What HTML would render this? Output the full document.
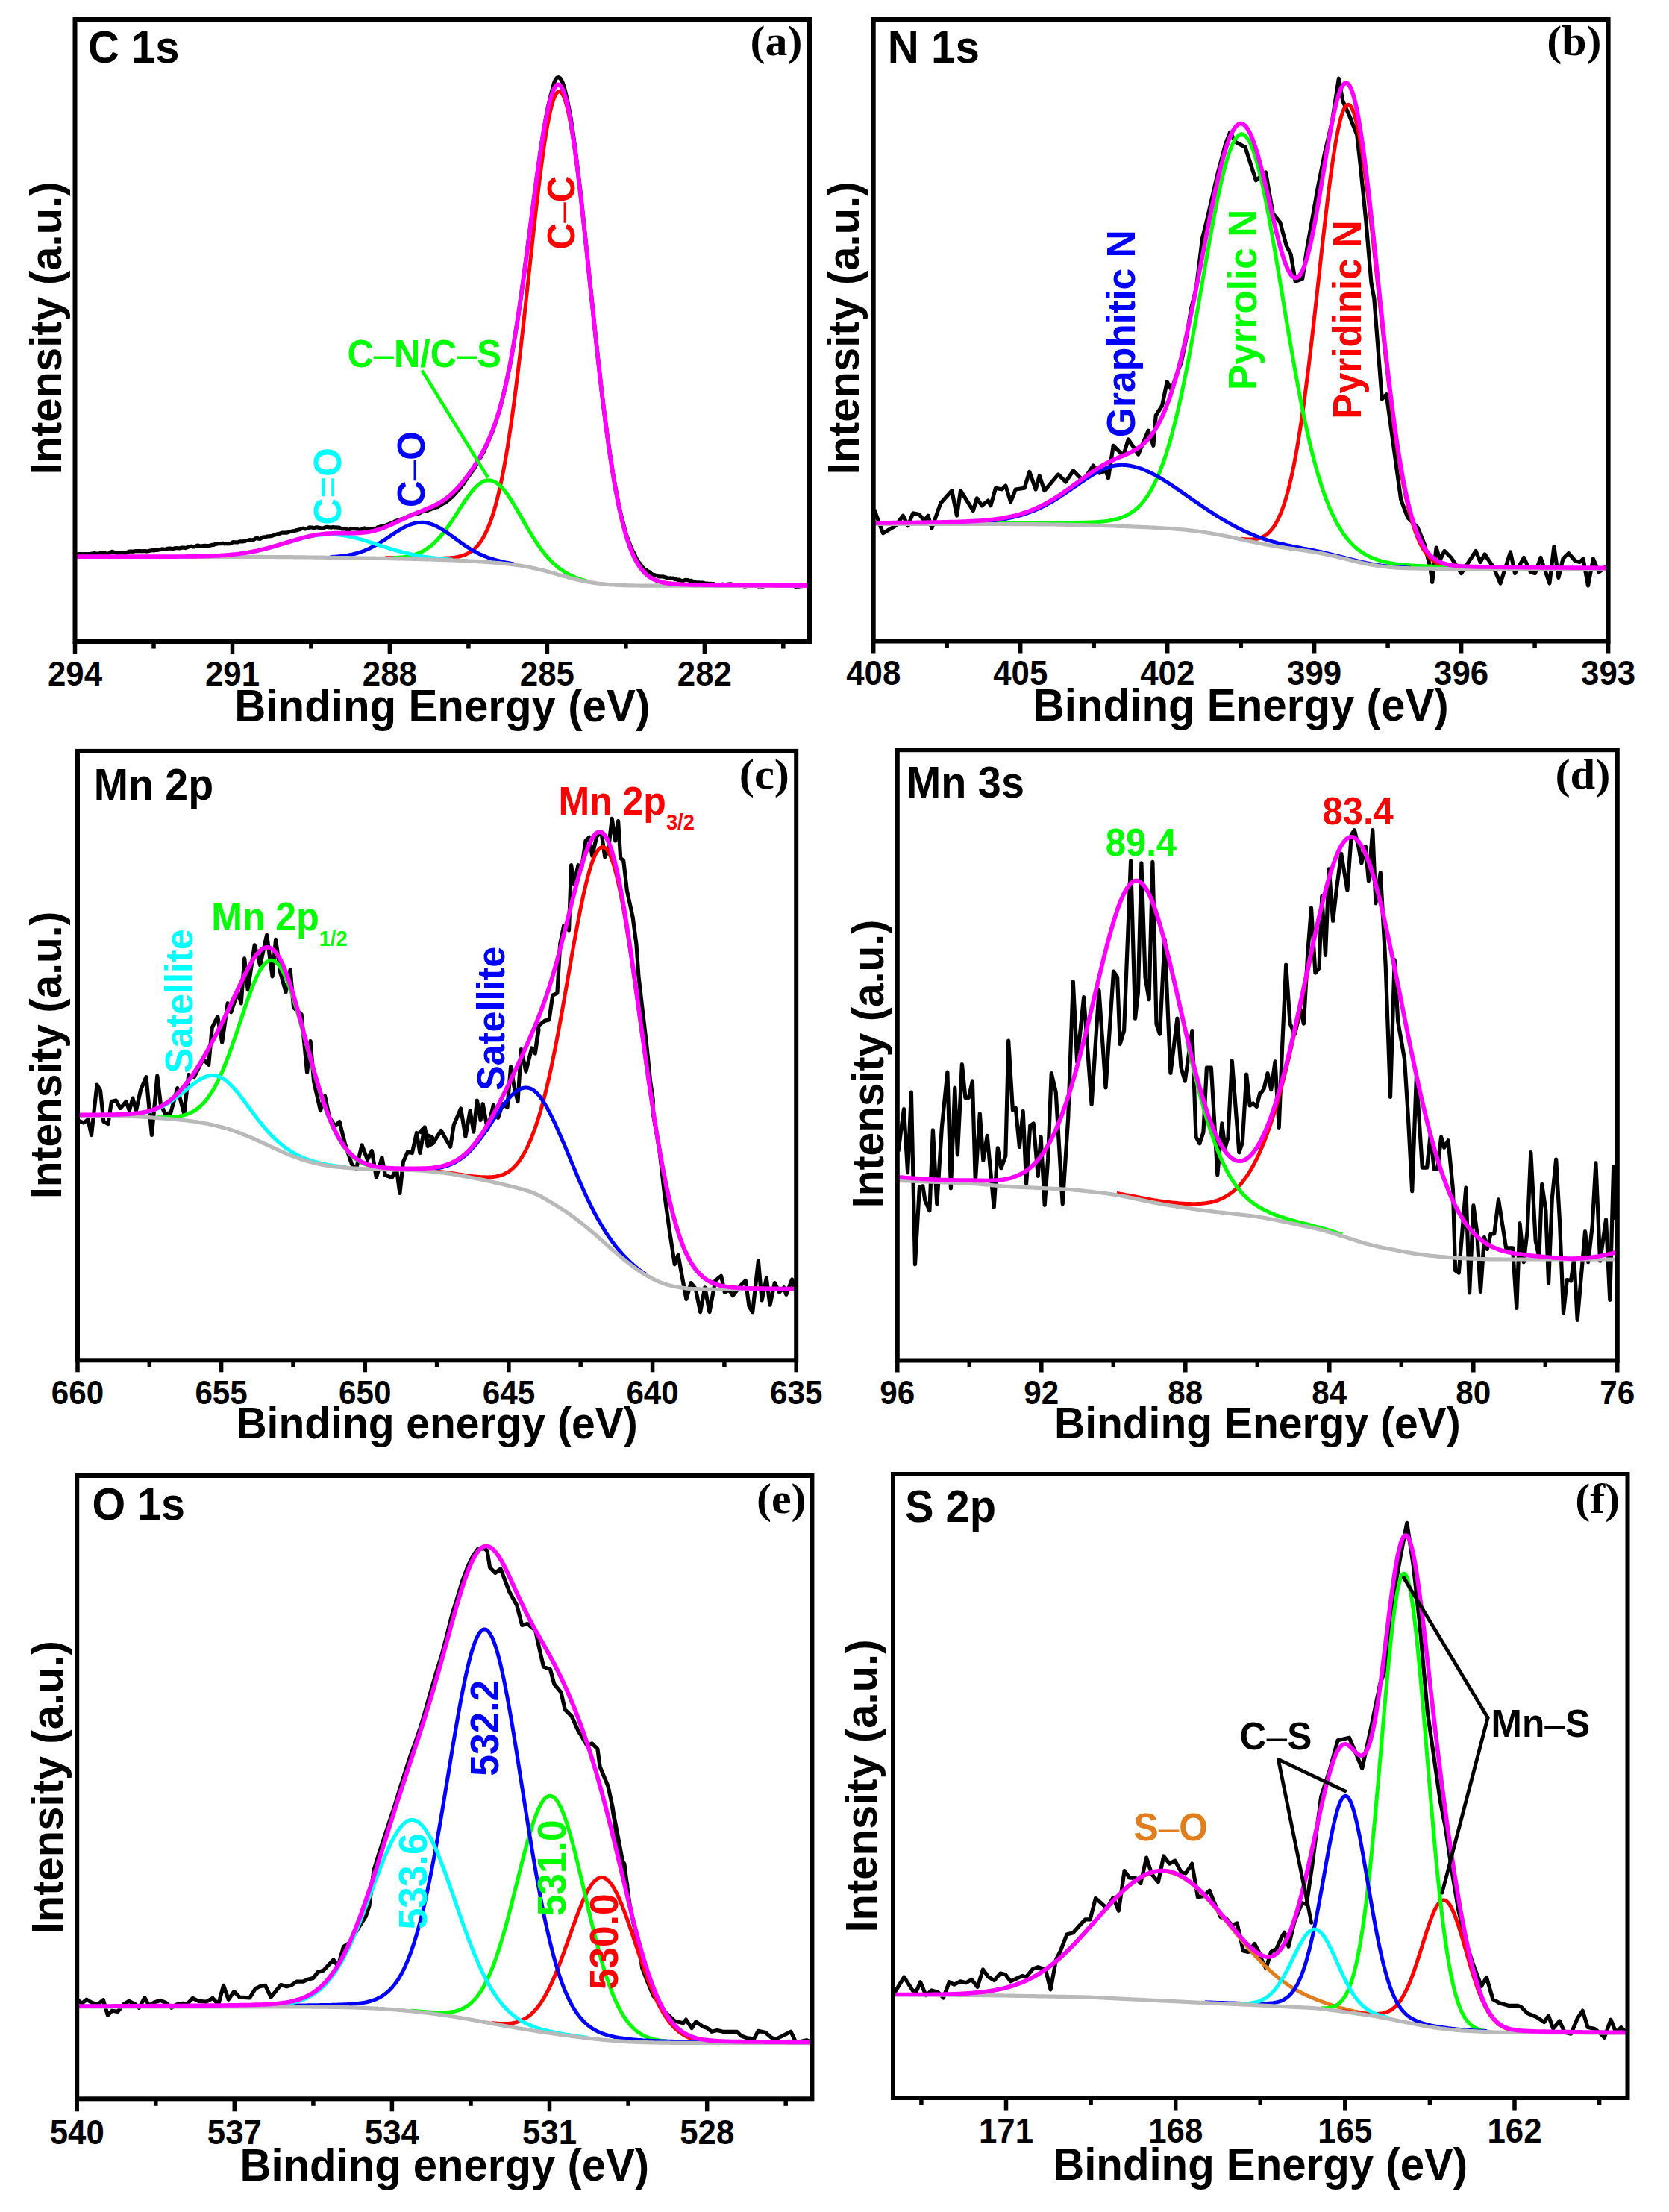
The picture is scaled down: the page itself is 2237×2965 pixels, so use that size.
<!DOCTYPE html>
<html><head><meta charset="utf-8"><title>XPS spectra</title>
<style>html,body{margin:0;padding:0;background:#fff}svg{display:block}</style></head>
<body>
<svg width="2237" height="2965" viewBox="0 0 2237 2965">
<rect width="2237" height="2965" fill="#fff"/>
<polyline points="100.5,743.2 102.5,743.3 104.5,742.6 106.5,742.6 108.5,742.6 110.5,742.9 112.5,742.7 114.5,742.6 116.5,742.9 118.5,742.6 120.5,742.7 122.5,742.2 124.5,742.1 126.5,741.6 128.5,742.1 130.5,742.1 132.5,742.1 134.5,741.5 136.5,741.3 138.5,741.3 140.5,741.4 142.5,742 144.5,742.3 146.5,741.2 148.5,739.9 150.5,739.3 152.5,740.1 154.5,740.9 156.5,740.9 158.5,741.9 160.5,741.2 162.5,740.9 164.5,740.7 166.5,741.3 168.5,741.6 170.5,740.5 172.5,739.4 174.5,739.1 176.5,739.2 178.5,739.3 180.5,738.8 182.5,738.6 184.5,738.6 186.5,738.6 188.5,738.6 190.5,738.8 192.5,738.5 194.5,738.6 196.5,738.8 198.5,738.9 200.5,738.2 202.5,738 204.5,737.5 206.5,738 208.5,737.1 210.5,737.5 212.5,737 214.5,736.7 216.5,736.1 218.5,735.9 220.5,736.4 222.5,735.9 224.5,735.3 226.5,735.1 228.5,735.1 230.5,735.5 232.5,735.5 234.5,734.8 236.5,734.7 238.5,734.7 240.5,735 242.5,734.4 244.5,734 246.5,734.1 248.5,734.6 250.5,733.9 252.5,733.1 254.5,732.5 256.5,732.2 258.5,733 260.5,732.9 262.5,732.2 264.5,731.2 266.5,731.3 268.5,732.1 270.5,732.1 272.5,731.5 274.5,731.3 276.5,731.5 278.5,731.7 280.5,731.4 282.5,731 284.5,730.3 286.5,730.4 288.5,729.4 290.5,729.2 292.5,728.6 294.5,728.7 296.5,728.7 298.5,728.2 300.5,728.9 302.5,728.5 304.5,728.8 306.5,728.7 308.5,728.7 310.5,727.8 312.5,726.5 314.5,726.8 316.5,726.8 318.5,726.9 320.5,726 322.5,725.7 324.5,726 326.5,725.6 328.5,725.4 330.5,724.5 332.5,724.3 334.5,723.6 336.5,723.8 338.5,723.9 340.5,723.3 342.5,721.7 344.5,721 346.5,722.2 348.5,722.5 350.5,721.3 352.5,720.1 354.5,719.8 356.5,719.6 358.5,718.8 360.5,719 362.5,718.6 364.5,718.4 366.5,717.6 368.5,717 370.5,716.3 372.5,715.5 374.5,715.4 376.5,714.6 378.5,714.1 380.5,714.2 382.5,714.2 384.5,714.2 386.5,713.3 388.5,712.7 390.5,712.2 392.5,711.8 394.5,711.6 396.5,710.8 398.5,710.6 400.5,709.9 402.5,709.5 404.5,708.5 406.5,708.2 408.5,709 410.5,708.6 412.5,708.5 414.5,706.8 416.5,707 418.5,707.1 420.5,707.7 422.5,707.2 424.5,706.8 426.5,707.1 428.5,707.5 430.5,708.1 432.5,707.9 434.5,707.4 436.5,706.5 438.5,706.4 440.5,706.8 442.5,706.9 444.5,707.1 446.5,706.5 448.5,707 450.5,706.8 452.5,707.2 454.5,707.2 456.5,708.2 458.5,709 460.5,709 462.5,708.3 464.5,709.5 466.5,709.9 468.5,710 470.5,708.7 472.5,708.6 474.5,708.5 476.5,709 478.5,708.9 480.5,710.1 482.5,710.5 484.5,709.6 486.5,709.1 488.5,708 490.5,709.4 492.5,709.3 494.5,710 496.5,708.9 498.5,709.3 500.5,709.6 502.5,709.2 504.5,708.2 506.5,706.7 508.5,706.6 510.5,705.4 512.5,705.9 514.5,704.9 516.5,704.6 518.5,703.4 520.5,702.8 522.5,702.1 524.5,700.9 526.5,700.4 528.5,699.2 530.5,698.4 532.5,697.6 534.5,697.2 536.5,696.6 538.5,695.7 540.5,695.4 542.5,694.5 544.5,693.8 546.5,692.5 548.5,691.7 550.5,690.5 552.5,690.3 554.5,689.4 556.5,689 558.5,688.3 560.5,688.3 562.5,687.9 564.5,686.3 566.5,685.8 568.5,685.5 570.5,685.1 572.5,684.6 574.5,683.6 576.5,683.1 578.5,682.1 580.5,681.6 582.5,681.3 584.5,679.8 586.5,679.7 588.5,678.4 590.5,677.3 592.5,675.7 594.5,674.6 596.5,674 598.5,672.2 600.5,670.7 602.5,669.1 604.5,667.2 606.5,665.6 608.5,663.4 610.5,661.3 612.5,658.8 614.5,656.9 616.5,654.8 618.5,652 620.5,649.5 622.5,646.3 624.5,643.5 626.5,640.4 628.5,637.7 630.5,635.1 632.5,632 634.5,629.8 636.5,626.2 638.5,622.6 640.5,619 642.5,614.8 644.5,612.7 646.5,608.5 648.5,605.3 650.5,600.3 652.5,596.3 654.5,591.4 656.5,586.6 658.5,582.1 660.5,577.4 662.5,571.5 664.5,565.6 666.5,559.2 668.5,552.9 670.5,545.8 672.5,538.5 674.5,529.9 676.5,521.3 678.5,512.4 680.5,504 682.5,494.2 684.5,484.4 686.5,473.1 688.5,461.6 690.5,448.9 692.5,436.6 694.5,424.1 696.5,410.7 698.5,396.3 700.5,381.1 702.5,366.3 704.5,351.2 706.5,336.1 708.5,320.8 710.5,306.2 712.5,290.6 714.5,275.4 716.5,260 718.5,244.8 720.5,230.6 722.5,215.8 724.5,201.9 726.5,188.2 728.5,176.1 730.5,164.3 732.5,153.6 734.5,143 736.5,134.8 738.5,126.3 740.5,119 742.5,111.6 744.5,106.7 746.5,104.2 748.5,103.7 750.5,104.6 752.5,107.3 754.5,111.7 756.5,118.2 758.5,126 760.5,134.9 762.5,144.7 764.5,155 766.5,167.7 768.5,181.1 770.5,196.4 772.5,212.3 774.5,227.7 776.5,244.7 778.5,261.3 780.5,280.6 782.5,298.6 784.5,317.8 786.5,336.8 788.5,357 790.5,376.6 792.5,395.5 794.5,414.3 796.5,433.8 798.5,452.9 800.5,470.9 802.5,489 804.5,506.9 806.5,525.1 808.5,541.2 810.5,557.5 812.5,572.1 814.5,587.3 816.5,600.9 818.5,615.1 820.5,628.1 822.5,640.1 824.5,651.3 826.5,661.6 828.5,672.5 830.5,682.2 832.5,690.4 834.5,698.3 836.5,705.8 838.5,714.1 840.5,719.7 842.5,725 844.5,730.1 846.5,735.1 848.5,739.3 850.5,743 852.5,747.6 854.5,751.1 856.5,754.1 858.5,756.3 860.5,759.6 862.5,761.5 864.5,763.7 866.5,764.4 868.5,765.8 870.5,766.6 872.5,768.6 874.5,769.9 876.5,770.5 878.5,771.1 880.5,771.9 882.5,772.8 884.5,772.9 886.5,773 888.5,772.8 890.5,773.4 892.5,774 894.5,774.7 896.5,775.2 898.5,774.9 900.5,775.3 902.5,775.1 904.5,776.7 906.5,776.6 908.5,777.3 910.5,777.1 912.5,778.2 914.5,778.7 916.5,778.2 918.5,777.4 920.5,777.5 922.5,777.7 924.5,778.8 926.5,778.3 928.5,779.4 930.5,780.2 932.5,780.6 934.5,780.8 936.5,780.8 938.5,781.2 940.5,781.1 942.5,781.2 944.5,781.8 946.5,782.1 948.5,782.2 950.5,782.6 952.5,782.4 954.5,782.8 956.5,782.7 958.5,783.7 960.5,783.6 962.5,784.2 964.5,783.8 966.5,784.1 968.5,783.2 970.5,783.5 972.5,783.7 974.5,783.6 976.5,783 978.5,782.8 980.5,783.1 982.5,784 984.5,784.9 986.5,785.5 988.5,785.3 990.5,784.6 992.5,784.3 994.5,784.6 996.5,785.6 998.5,786 1000.5,785.6 1002.5,784.8 1004.5,784.2 1006.5,784 1008.5,784 1010.5,784.3 1012.5,785.3 1014.5,785.5 1016.5,785.9 1018.5,785.9 1020.5,785.9 1022.5,786.1 1024.5,785.6 1026.5,785.5 1028.5,784.9 1030.5,784.7 1032.5,784.7 1034.5,784.6 1036.5,784.6 1038.5,784.9 1040.5,784.6 1042.5,784.6 1044.5,783.8 1046.5,784.3 1048.5,784.5 1050.5,785.2 1052.5,785.2 1054.5,785.2 1056.5,784.9 1058.5,784.7 1060.5,784.7 1062.5,785.3 1064.5,785.6 1066.5,786.4 1068.5,786 1070.5,786.3 1072.5,785.7 1074.5,785.7 1076.5,785 1078.5,784 1080.5,784.1 1082.5,784.9 1084.5,785.4" fill="none" stroke="#000000" stroke-width="5.2" stroke-linejoin="round" stroke-linecap="butt" />
<polyline points="516.5,747.7 518.5,747.7 520.5,747.7 522.5,747.7 524.5,747.8 526.5,747.8 528.5,747.8 530.5,747.9 532.5,747.9 534.5,747.9 536.5,747.9 538.5,748 540.5,748 542.5,748 544.5,748 546.5,748.1 548.5,748.1 550.5,748.1 552.5,748.2 554.5,748.2 556.5,748.2 558.5,748.3 560.5,748.3 562.5,748.3 564.5,748.3 566.5,748.4 568.5,748.4 570.5,748.4 572.5,748.4 574.5,748.4 576.5,748.5 578.5,748.5 580.5,748.5 582.5,748.5 584.5,748.5 586.5,748.5 588.5,748.4 590.5,748.4 592.5,748.4 594.5,748.3 596.5,748.2 598.5,748.1 600.5,748 602.5,747.9 604.5,747.7 606.5,747.5 608.5,747.3 610.5,747 612.5,746.6 614.5,746.2 616.5,745.8 618.5,745.2 620.5,744.6 622.5,743.9 624.5,743.1 626.5,742.1 628.5,741.1 630.5,739.8 632.5,738.4 634.5,736.9 636.5,735.1 638.5,733.1 640.5,730.9 642.5,728.4 644.5,725.6 646.5,722.5 648.5,719 650.5,715.2 652.5,711 654.5,706.4 656.5,701.4 658.5,695.9 660.5,689.9 662.5,683.4 664.5,676.3 666.5,668.7 668.5,660.4 670.5,651.6 672.5,642.1 674.5,632 676.5,621.3 678.5,609.9 680.5,597.8 682.5,585.1 684.5,571.7 686.5,557.7 688.5,543.1 690.5,527.9 692.5,512.1 694.5,495.8 696.5,479 698.5,461.8 700.5,444.1 702.5,426.2 704.5,408 706.5,389.6 708.5,371.1 710.5,352.6 712.5,334.2 714.5,316 716.5,298 718.5,280.3 720.5,263.1 722.5,246.5 724.5,230.5 726.5,215.3 728.5,200.9 730.5,187.5 732.5,175.2 734.5,163.9 736.5,153.9 738.5,145.2 740.5,137.8 742.5,131.8 744.5,127.3 746.5,124.2 748.5,122.7 750.5,122.7 752.5,124.2 754.5,127.3 756.5,131.8 758.5,137.9 760.5,145.3 762.5,154.2 764.5,164.4 766.5,175.8 768.5,188.3 770.5,202 772.5,216.7 774.5,232.3 776.5,248.6 778.5,265.7 780.5,283.4 782.5,301.6 784.5,320.2 786.5,339.1 788.5,358.2 790.5,377.4 792.5,396.6 794.5,415.8 796.5,434.8 798.5,453.6 800.5,472 802.5,490.2 804.5,507.8 806.5,525 808.5,541.7 810.5,557.9 812.5,573.4 814.5,588.3 816.5,602.5 818.5,616.1 820.5,629 822.5,641.2 824.5,652.8 826.5,663.7 828.5,673.9 830.5,683.5 832.5,692.4 834.5,700.8 836.5,708.5 838.5,715.6 840.5,722.2 842.5,728.3 844.5,733.9 846.5,739 848.5,743.7 850.5,747.9 852.5,751.8 854.5,755.3 856.5,758.5 858.5,761.3 860.5,763.9 862.5,766.2 864.5,768.3 866.5,770.1 868.5,771.8 870.5,773.2 872.5,774.5 874.5,775.7 876.5,776.7 878.5,777.6 880.5,778.4 882.5,779.1 884.5,779.7 886.5,780.2 888.5,780.7 890.5,781.1 892.5,781.5 894.5,781.8 896.5,782.1 898.5,782.3 900.5,782.5 902.5,782.7 904.5,782.9 906.5,783 908.5,783.1 910.5,783.2 912.5,783.3 914.5,783.4 916.5,783.5 918.5,783.6 920.5,783.6 922.5,783.7 924.5,783.8 926.5,783.8 928.5,783.8 930.5,783.9 932.5,783.9 934.5,784 936.5,784 938.5,784 940.5,784 942.5,784.1 944.5,784.1 946.5,784.1 948.5,784.1 950.5,784.2 952.5,784.2 954.5,784.2 956.5,784.2 958.5,784.3 960.5,784.3 962.5,784.3 964.5,784.3 966.5,784.3 968.5,784.3 970.5,784.4 972.5,784.4 974.5,784.4 976.5,784.4 978.5,784.4 980.5,784.4 982.5,784.5 984.5,784.5" fill="none" stroke="#ff0000" stroke-width="5" stroke-linejoin="round" stroke-linecap="butt" />
<polyline points="526.5,747.8 528.5,747.7 530.5,747.6 532.5,747.5 534.5,747.3 536.5,747.1 538.5,746.9 540.5,746.7 542.5,746.4 544.5,746.1 546.5,745.7 548.5,745.3 550.5,744.9 552.5,744.3 554.5,743.8 556.5,743.1 558.5,742.4 560.5,741.7 562.5,740.8 564.5,739.9 566.5,738.9 568.5,737.8 570.5,736.6 572.5,735.3 574.5,733.9 576.5,732.4 578.5,730.8 580.5,729 582.5,727.2 584.5,725.3 586.5,723.2 588.5,721 590.5,718.8 592.5,716.4 594.5,713.9 596.5,711.3 598.5,708.6 600.5,705.8 602.5,703 604.5,700.1 606.5,697.1 608.5,694 610.5,691 612.5,687.9 614.5,684.7 616.5,681.6 618.5,678.5 620.5,675.5 622.5,672.5 624.5,669.5 626.5,666.7 628.5,663.9 630.5,661.2 632.5,658.7 634.5,656.4 636.5,654.2 638.5,652.1 640.5,650.3 642.5,648.7 644.5,647.3 646.5,646.1 648.5,645.1 650.5,644.4 652.5,644 654.5,643.8 656.5,643.9 658.5,644.2 660.5,644.8 662.5,645.6 664.5,646.7 666.5,648 668.5,649.6 670.5,651.4 672.5,653.4 674.5,655.6 676.5,658 678.5,660.6 680.5,663.3 682.5,666.2 684.5,669.3 686.5,672.4 688.5,675.7 690.5,679 692.5,682.4 694.5,685.9 696.5,689.4 698.5,692.9 700.5,696.4 702.5,699.9 704.5,703.4 706.5,706.9 708.5,710.3 710.5,713.7 712.5,717 714.5,720.2 716.5,723.4 718.5,726.5 720.5,729.5 722.5,732.4 724.5,735.2 726.5,737.9 728.5,740.4 730.5,742.9 732.5,745.3 734.5,747.6 736.5,749.8 738.5,751.9 740.5,753.9 742.5,755.8 744.5,757.5 746.5,759.3 748.5,760.9 750.5,762.4 752.5,763.8 754.5,765.2 756.5,766.5 758.5,767.7 760.5,768.9 762.5,770 764.5,771 766.5,772 768.5,772.9 770.5,773.7 772.5,774.5 774.5,775.3 776.5,776 778.5,776.7 780.5,777.3 782.5,777.9 784.5,778.4 786.5,778.9" fill="none" stroke="#00ff00" stroke-width="5" stroke-linejoin="round" stroke-linecap="butt" />
<polyline points="442.5,746.5 444.5,746.4 446.5,746.3 448.5,746.2 450.5,746.1 452.5,745.9 454.5,745.7 456.5,745.5 458.5,745.3 460.5,745.1 462.5,744.8 464.5,744.5 466.5,744.2 468.5,743.8 470.5,743.4 472.5,743 474.5,742.5 476.5,742 478.5,741.5 480.5,740.9 482.5,740.2 484.5,739.6 486.5,738.8 488.5,738.1 490.5,737.2 492.5,736.4 494.5,735.5 496.5,734.5 498.5,733.5 500.5,732.5 502.5,731.4 504.5,730.3 506.5,729.1 508.5,727.9 510.5,726.7 512.5,725.4 514.5,724.1 516.5,722.8 518.5,721.5 520.5,720.1 522.5,718.8 524.5,717.4 526.5,716.1 528.5,714.8 530.5,713.5 532.5,712.2 534.5,711 536.5,709.8 538.5,708.6 540.5,707.5 542.5,706.4 544.5,705.5 546.5,704.5 548.5,703.7 550.5,702.9 552.5,702.3 554.5,701.7 556.5,701.2 558.5,700.8 560.5,700.6 562.5,700.4 564.5,700.3 566.5,700.3 568.5,700.5 570.5,700.7 572.5,701.1 574.5,701.5 576.5,702.1 578.5,702.7 580.5,703.4 582.5,704.3 584.5,705.2 586.5,706.2 588.5,707.2 590.5,708.4 592.5,709.6 594.5,710.8 596.5,712.1 598.5,713.5 600.5,714.9 602.5,716.3 604.5,717.7 606.5,719.1 608.5,720.6 610.5,722.1 612.5,723.5 614.5,725 616.5,726.4 618.5,727.9 620.5,729.3 622.5,730.6 624.5,732 626.5,733.3 628.5,734.6 630.5,735.8 632.5,737 634.5,738.2 636.5,739.3 638.5,740.4 640.5,741.4 642.5,742.4 644.5,743.4 646.5,744.3 648.5,745.1 650.5,745.9 652.5,746.7 654.5,747.5 656.5,748.2 658.5,748.8 660.5,749.5 662.5,750.1 664.5,750.6 666.5,751.2 668.5,751.7 670.5,752.2 672.5,752.7 674.5,753.1 676.5,753.6 678.5,754 680.5,754.4 682.5,754.8 684.5,755.2 686.5,755.6 688.5,756" fill="none" stroke="#0000ff" stroke-width="5" stroke-linejoin="round" stroke-linecap="butt" />
<polyline points="282.5,745.5 284.5,745.4 286.5,745.3 288.5,745.2 290.5,745.1 292.5,745 294.5,744.9 296.5,744.8 298.5,744.6 300.5,744.5 302.5,744.3 304.5,744.2 306.5,744 308.5,743.8 310.5,743.7 312.5,743.4 314.5,743.2 316.5,743 318.5,742.8 320.5,742.5 322.5,742.3 324.5,742 326.5,741.7 328.5,741.4 330.5,741.1 332.5,740.7 334.5,740.4 336.5,740 338.5,739.7 340.5,739.3 342.5,738.9 344.5,738.4 346.5,738 348.5,737.5 350.5,737.1 352.5,736.6 354.5,736.1 356.5,735.6 358.5,735.1 360.5,734.5 362.5,734 364.5,733.5 366.5,732.9 368.5,732.3 370.5,731.7 372.5,731.1 374.5,730.6 376.5,730 378.5,729.3 380.5,728.7 382.5,728.1 384.5,727.5 386.5,726.9 388.5,726.3 390.5,725.7 392.5,725.1 394.5,724.5 396.5,724 398.5,723.4 400.5,722.8 402.5,722.3 404.5,721.8 406.5,721.2 408.5,720.8 410.5,720.3 412.5,719.8 414.5,719.4 416.5,719 418.5,718.6 420.5,718.2 422.5,717.9 424.5,717.6 426.5,717.3 428.5,717.1 430.5,716.9 432.5,716.7 434.5,716.6 436.5,716.4 438.5,716.4 440.5,716.3 442.5,716.3 444.5,716.3 446.5,716.4 448.5,716.5 450.5,716.6 452.5,716.8 454.5,716.9 456.5,717.2 458.5,717.4 460.5,717.7 462.5,718 464.5,718.4 466.5,718.8 468.5,719.2 470.5,719.6 472.5,720 474.5,720.5 476.5,721 478.5,721.5 480.5,722.1 482.5,722.6 484.5,723.2 486.5,723.8 488.5,724.4 490.5,725 492.5,725.6 494.5,726.3 496.5,726.9 498.5,727.6 500.5,728.2 502.5,728.9 504.5,729.5 506.5,730.2 508.5,730.9 510.5,731.5 512.5,732.2 514.5,732.8 516.5,733.4 518.5,734.1 520.5,734.7 522.5,735.3 524.5,735.9 526.5,736.5 528.5,737.1 530.5,737.7 532.5,738.3 534.5,738.8 536.5,739.3 538.5,739.9 540.5,740.4 542.5,740.9 544.5,741.4 546.5,741.8 548.5,742.3 550.5,742.7 552.5,743.2 554.5,743.6 556.5,744 558.5,744.3 560.5,744.7 562.5,745.1 564.5,745.4 566.5,745.7 568.5,746.1 570.5,746.4 572.5,746.6 574.5,746.9 576.5,747.2 578.5,747.5 580.5,747.7 582.5,747.9 584.5,748.2 586.5,748.4 588.5,748.6 590.5,748.8 592.5,749 594.5,749.2 596.5,749.4 598.5,749.5 600.5,749.7 602.5,749.9 604.5,750 606.5,750.2" fill="none" stroke="#00ffff" stroke-width="5" stroke-linejoin="round" stroke-linecap="butt" />
<polyline points="100.5,746.3 102.5,746.3 104.5,746.3 106.5,746.3 108.5,746.3 110.5,746.3 112.5,746.3 114.5,746.3 116.5,746.3 118.5,746.3 120.5,746.3 122.5,746.3 124.5,746.3 126.5,746.3 128.5,746.3 130.5,746.3 132.5,746.3 134.5,746.3 136.5,746.3 138.5,746.3 140.5,746.3 142.5,746.3 144.5,746.3 146.5,746.3 148.5,746.3 150.5,746.3 152.5,746.3 154.5,746.3 156.5,746.3 158.5,746.3 160.5,746.3 162.5,746.3 164.5,746.3 166.5,746.3 168.5,746.3 170.5,746.3 172.5,746.3 174.5,746.3 176.5,746.3 178.5,746.3 180.5,746.3 182.5,746.3 184.5,746.3 186.5,746.3 188.5,746.3 190.5,746.3 192.5,746.3 194.5,746.3 196.5,746.3 198.5,746.3 200.5,746.3 202.5,746.3 204.5,746.3 206.5,746.3 208.5,746.3 210.5,746.3 212.5,746.3 214.5,746.3 216.5,746.3 218.5,746.3 220.5,746.3 222.5,746.3 224.5,746.3 226.5,746.3 228.5,746.3 230.5,746.3 232.5,746.3 234.5,746.3 236.5,746.3 238.5,746.3 240.5,746.3 242.5,746.3 244.5,746.3 246.5,746.3 248.5,746.3 250.5,746.3 252.5,746.3 254.5,746.3 256.5,746.3 258.5,746.3 260.5,746.3 262.5,746.3 264.5,746.3 266.5,746.3 268.5,746.3 270.5,746.3 272.5,746.3 274.5,746.3 276.5,746.3 278.5,746.3 280.5,746.3 282.5,746.3 284.5,746.3 286.5,746.3 288.5,746.3 290.5,746.3 292.5,746.3 294.5,746.3 296.5,746.3 298.5,746.3 300.5,746.3 302.5,746.3 304.5,746.3 306.5,746.3 308.5,746.3 310.5,746.3 312.5,746.3 314.5,746.3 316.5,746.4 318.5,746.4 320.5,746.4 322.5,746.4 324.5,746.4 326.5,746.4 328.5,746.4 330.5,746.4 332.5,746.4 334.5,746.4 336.5,746.4 338.5,746.4 340.5,746.4 342.5,746.4 344.5,746.4 346.5,746.4 348.5,746.4 350.5,746.4 352.5,746.5 354.5,746.5 356.5,746.5 358.5,746.5 360.5,746.5 362.5,746.5 364.5,746.5 366.5,746.5 368.5,746.5 370.5,746.6 372.5,746.6 374.5,746.6 376.5,746.6 378.5,746.6 380.5,746.6 382.5,746.6 384.5,746.7 386.5,746.7 388.5,746.7 390.5,746.7 392.5,746.7 394.5,746.8 396.5,746.8 398.5,746.8 400.5,746.8 402.5,746.8 404.5,746.9 406.5,746.9 408.5,746.9 410.5,746.9 412.5,747 414.5,747 416.5,747 418.5,747 420.5,747.1 422.5,747.1 424.5,747.1 426.5,747.1 428.5,747.2 430.5,747.2 432.5,747.2 434.5,747.2 436.5,747.3 438.5,747.3 440.5,747.3 442.5,747.4 444.5,747.4 446.5,747.4 448.5,747.4 450.5,747.5 452.5,747.5 454.5,747.5 456.5,747.6 458.5,747.6 460.5,747.6 462.5,747.6 464.5,747.7 466.5,747.7 468.5,747.7 470.5,747.8 472.5,747.8 474.5,747.8 476.5,747.8 478.5,747.9 480.5,747.9 482.5,747.9 484.5,748 486.5,748 488.5,748 490.5,748.1 492.5,748.1 494.5,748.1 496.5,748.1 498.5,748.2 500.5,748.2 502.5,748.2 504.5,748.3 506.5,748.3 508.5,748.3 510.5,748.4 512.5,748.4 514.5,748.4 516.5,748.5 518.5,748.5 520.5,748.6 522.5,748.6 524.5,748.6 526.5,748.7 528.5,748.7 530.5,748.8 532.5,748.8 534.5,748.8 536.5,748.9 538.5,748.9 540.5,749 542.5,749 544.5,749.1 546.5,749.1 548.5,749.2 550.5,749.2 552.5,749.3 554.5,749.3 556.5,749.4 558.5,749.4 560.5,749.5 562.5,749.6 564.5,749.6 566.5,749.7 568.5,749.7 570.5,749.8 572.5,749.8 574.5,749.9 576.5,750 578.5,750 580.5,750.1 582.5,750.1 584.5,750.2 586.5,750.3 588.5,750.3 590.5,750.4 592.5,750.5 594.5,750.6 596.5,750.6 598.5,750.7 600.5,750.8 602.5,750.8 604.5,750.9 606.5,751 608.5,751.1 610.5,751.2 612.5,751.2 614.5,751.3 616.5,751.4 618.5,751.5 620.5,751.6 622.5,751.7 624.5,751.8 626.5,751.9 628.5,752 630.5,752.1 632.5,752.2 634.5,752.3 636.5,752.4 638.5,752.5 640.5,752.7 642.5,752.8 644.5,752.9 646.5,753 648.5,753.2 650.5,753.3 652.5,753.4 654.5,753.6 656.5,753.7 658.5,753.9 660.5,754 662.5,754.2 664.5,754.4 666.5,754.5 668.5,754.7 670.5,754.9 672.5,755.1 674.5,755.3 676.5,755.5 678.5,755.7 680.5,755.9 682.5,756.1 684.5,756.4 686.5,756.6 688.5,756.9 690.5,757.1 692.5,757.4 694.5,757.7 696.5,758 698.5,758.3 700.5,758.7 702.5,759 704.5,759.4 706.5,759.7 708.5,760.1 710.5,760.5 712.5,760.9 714.5,761.4 716.5,761.8 718.5,762.2 720.5,762.7 722.5,763.2 724.5,763.7 726.5,764.2 728.5,764.7 730.5,765.2 732.5,765.7 734.5,766.3 736.5,766.8 738.5,767.4 740.5,768 742.5,768.5 744.5,769.1 746.5,769.7 748.5,770.2 750.5,770.8 752.5,771.4 754.5,771.9 756.5,772.5 758.5,773.1 760.5,773.6 762.5,774.2 764.5,774.7 766.5,775.2 768.5,775.7 770.5,776.2 772.5,776.7 774.5,777.2 776.5,777.7 778.5,778.1 780.5,778.5 782.5,779 784.5,779.4 786.5,779.8 788.5,780.1 790.5,780.5 792.5,780.8 794.5,781.1 796.5,781.4 798.5,781.7 800.5,782 802.5,782.2 804.5,782.5 806.5,782.7 808.5,782.9 810.5,783.1 812.5,783.3 814.5,783.5 816.5,783.6 818.5,783.8 820.5,783.9 822.5,784 824.5,784.1 826.5,784.2 828.5,784.3 830.5,784.4 832.5,784.5 834.5,784.6 836.5,784.7 838.5,784.7 840.5,784.8 842.5,784.8 844.5,784.9 846.5,784.9 848.5,784.9 850.5,785 852.5,785 854.5,785 856.5,785 858.5,785.1 860.5,785.1 862.5,785.1 864.5,785.1 866.5,785.1 868.5,785.1 870.5,785.2 872.5,785.2 874.5,785.2 876.5,785.2 878.5,785.2 880.5,785.2 882.5,785.2 884.5,785.2 886.5,785.2 888.5,785.2 890.5,785.2 892.5,785.2 894.5,785.2 896.5,785.2 898.5,785.2 900.5,785.2 902.5,785.2 904.5,785.2 906.5,785.2 908.5,785.2 910.5,785.2 912.5,785.2 914.5,785.2 916.5,785.2 918.5,785.2 920.5,785.2 922.5,785.2 924.5,785.2 926.5,785.2 928.5,785.2 930.5,785.3 932.5,785.3 934.5,785.3 936.5,785.3 938.5,785.3 940.5,785.3 942.5,785.3 944.5,785.3 946.5,785.3 948.5,785.3 950.5,785.3 952.5,785.3 954.5,785.3 956.5,785.3 958.5,785.3 960.5,785.3 962.5,785.3 964.5,785.3 966.5,785.3 968.5,785.3 970.5,785.3 972.5,785.3 974.5,785.3 976.5,785.3 978.5,785.3 980.5,785.3 982.5,785.3 984.5,785.3 986.5,785.3 988.5,785.3 990.5,785.3 992.5,785.3 994.5,785.3 996.5,785.3 998.5,785.3 1000.5,785.3 1002.5,785.3 1004.5,785.3 1006.5,785.3 1008.5,785.3 1010.5,785.3 1012.5,785.3 1014.5,785.3 1016.5,785.3 1018.5,785.3 1020.5,785.3 1022.5,785.3 1024.5,785.3 1026.5,785.3 1028.5,785.3 1030.5,785.3 1032.5,785.3 1034.5,785.3 1036.5,785.3 1038.5,785.3 1040.5,785.3 1042.5,785.3 1044.5,785.3 1046.5,785.3 1048.5,785.3 1050.5,785.3 1052.5,785.3 1054.5,785.3 1056.5,785.3 1058.5,785.3 1060.5,785.3 1062.5,785.3 1064.5,785.3 1066.5,785.3 1068.5,785.3 1070.5,785.3 1072.5,785.3 1074.5,785.3 1076.5,785.3 1078.5,785.3 1080.5,785.3 1082.5,785.3 1084.5,785.3" fill="none" stroke="#b9b9b9" stroke-width="5.2" stroke-linejoin="round" stroke-linecap="butt" />
<polyline points="100.5,746.2 102.5,746.2 104.5,746.2 106.5,746.2 108.5,746.2 110.5,746.2 112.5,746.2 114.5,746.2 116.5,746.2 118.5,746.2 120.5,746.2 122.5,746.2 124.5,746.2 126.5,746.2 128.5,746.2 130.5,746.2 132.5,746.2 134.5,746.2 136.5,746.2 138.5,746.2 140.5,746.2 142.5,746.2 144.5,746.2 146.5,746.2 148.5,746.2 150.5,746.2 152.5,746.2 154.5,746.2 156.5,746.2 158.5,746.2 160.5,746.2 162.5,746.2 164.5,746.2 166.5,746.2 168.5,746.2 170.5,746.2 172.5,746.2 174.5,746.2 176.5,746.2 178.5,746.2 180.5,746.2 182.5,746.2 184.5,746.2 186.5,746.2 188.5,746.2 190.5,746.2 192.5,746.2 194.5,746.2 196.5,746.1 198.5,746.1 200.5,746.1 202.5,746.1 204.5,746.1 206.5,746.1 208.5,746.1 210.5,746.1 212.5,746.1 214.5,746.1 216.5,746.1 218.5,746.1 220.5,746.1 222.5,746.1 224.5,746.1 226.5,746.1 228.5,746.1 230.5,746.1 232.5,746.1 234.5,746.1 236.5,746.1 238.5,746 240.5,746 242.5,746 244.5,746 246.5,746 248.5,746 250.5,745.9 252.5,745.9 254.5,745.9 256.5,745.9 258.5,745.8 260.5,745.8 262.5,745.8 264.5,745.7 266.5,745.7 268.5,745.7 270.5,745.6 272.5,745.6 274.5,745.5 276.5,745.5 278.5,745.4 280.5,745.3 282.5,745.2 284.5,745.2 286.5,745.1 288.5,745 290.5,744.9 292.5,744.8 294.5,744.7 296.5,744.5 298.5,744.4 300.5,744.3 302.5,744.1 304.5,744 306.5,743.8 308.5,743.6 310.5,743.4 312.5,743.2 314.5,743 316.5,742.8 318.5,742.5 320.5,742.3 322.5,742 324.5,741.7 326.5,741.4 328.5,741.1 330.5,740.8 332.5,740.5 334.5,740.1 336.5,739.8 338.5,739.4 340.5,739 342.5,738.6 344.5,738.2 346.5,737.7 348.5,737.3 350.5,736.8 352.5,736.3 354.5,735.8 356.5,735.3 358.5,734.8 360.5,734.2 362.5,733.7 364.5,733.1 366.5,732.6 368.5,732 370.5,731.4 372.5,730.8 374.5,730.2 376.5,729.6 378.5,729 380.5,728.4 382.5,727.8 384.5,727.2 386.5,726.6 388.5,726 390.5,725.4 392.5,724.8 394.5,724.2 396.5,723.6 398.5,723 400.5,722.4 402.5,721.9 404.5,721.3 406.5,720.8 408.5,720.3 410.5,719.8 412.5,719.3 414.5,718.9 416.5,718.4 418.5,718 420.5,717.6 422.5,717.3 424.5,716.9 426.5,716.6 428.5,716.3 430.5,716.1 432.5,715.8 434.5,715.6 436.5,715.4 438.5,715.2 440.5,715.1 442.5,715 444.5,714.9 446.5,714.8 448.5,714.7 450.5,714.7 452.5,714.7 454.5,714.6 456.5,714.6 458.5,714.6 460.5,714.6 462.5,714.6 464.5,714.7 466.5,714.7 468.5,714.7 470.5,714.7 472.5,714.6 474.5,714.6 476.5,714.6 478.5,714.5 480.5,714.4 482.5,714.3 484.5,714.1 486.5,714 488.5,713.8 490.5,713.5 492.5,713.2 494.5,712.9 496.5,712.5 498.5,712.1 500.5,711.7 502.5,711.2 504.5,710.6 506.5,710.1 508.5,709.4 510.5,708.8 512.5,708.1 514.5,707.3 516.5,706.6 518.5,705.7 520.5,704.9 522.5,704 524.5,703.1 526.5,702.2 528.5,701.3 530.5,700.4 532.5,699.4 534.5,698.5 536.5,697.5 538.5,696.5 540.5,695.6 542.5,694.6 544.5,693.7 546.5,692.8 548.5,691.9 550.5,691 552.5,690.1 554.5,689.2 556.5,688.4 558.5,687.5 560.5,686.7 562.5,685.9 564.5,685.1 566.5,684.3 568.5,683.5 570.5,682.7 572.5,681.9 574.5,681 576.5,680.2 578.5,679.3 580.5,678.4 582.5,677.4 584.5,676.4 586.5,675.4 588.5,674.3 590.5,673.1 592.5,671.8 594.5,670.5 596.5,669.1 598.5,667.7 600.5,666.1 602.5,664.5 604.5,662.7 606.5,660.9 608.5,659 610.5,657 612.5,654.9 614.5,652.7 616.5,650.5 618.5,648.1 620.5,645.7 622.5,643.2 624.5,640.6 626.5,638 628.5,635.2 630.5,632.4 632.5,629.5 634.5,626.6 636.5,623.5 638.5,620.4 640.5,617.1 642.5,613.7 644.5,610.3 646.5,606.6 648.5,602.9 650.5,598.9 652.5,594.8 654.5,590.5 656.5,585.9 658.5,581.1 660.5,576 662.5,570.6 664.5,564.9 666.5,558.8 668.5,552.3 670.5,545.4 672.5,538 674.5,530.2 676.5,521.9 678.5,513.1 680.5,503.7 682.5,493.9 684.5,483.5 686.5,472.5 688.5,461 690.5,449 692.5,436.4 694.5,423.3 696.5,409.8 698.5,395.8 700.5,381.5 702.5,366.8 704.5,351.8 706.5,336.5 708.5,321.1 710.5,305.6 712.5,290.1 714.5,274.7 716.5,259.4 718.5,244.4 720.5,229.8 722.5,215.6 724.5,201.9 726.5,188.9 728.5,176.7 730.5,165.2 732.5,154.7 734.5,145.2 736.5,136.9 738.5,129.7 740.5,123.7 742.5,119 744.5,115.7 746.5,113.8 748.5,113.3 750.5,114.3 752.5,116.7 754.5,120.5 756.5,125.8 758.5,132.5 760.5,140.6 762.5,150 764.5,160.6 766.5,172.5 768.5,185.5 770.5,199.5 772.5,214.5 774.5,230.3 776.5,246.9 778.5,264.3 780.5,282.1 782.5,300.5 784.5,319.2 786.5,338.3 788.5,357.5 790.5,376.8 792.5,396.1 794.5,415.3 796.5,434.4 798.5,453.3 800.5,471.8 802.5,489.9 804.5,507.7 806.5,524.9 808.5,541.6 810.5,557.7 812.5,573.3 814.5,588.2 816.5,602.4 818.5,616 820.5,629 822.5,641.2 824.5,652.8 826.5,663.7 828.5,673.9 830.5,683.5 832.5,692.4 834.5,700.7 836.5,708.5 838.5,715.6 840.5,722.2 842.5,728.3 844.5,733.9 846.5,739 848.5,743.7 850.5,747.9 852.5,751.8 854.5,755.3 856.5,758.5 858.5,761.3 860.5,763.9 862.5,766.2 864.5,768.3 866.5,770.1 868.5,771.8 870.5,773.2 872.5,774.5 874.5,775.7 876.5,776.7 878.5,777.6 880.5,778.4 882.5,779.1 884.5,779.7 886.5,780.2 888.5,780.7 890.5,781.1 892.5,781.5 894.5,781.8 896.5,782.1 898.5,782.3 900.5,782.5 902.5,782.7 904.5,782.9 906.5,783 908.5,783.1 910.5,783.2 912.5,783.3 914.5,783.4 916.5,783.5 918.5,783.6 920.5,783.6 922.5,783.7 924.5,783.8 926.5,783.8 928.5,783.8 930.5,783.9 932.5,783.9 934.5,784 936.5,784 938.5,784 940.5,784 942.5,784.1 944.5,784.1 946.5,784.1 948.5,784.1 950.5,784.2 952.5,784.2 954.5,784.2 956.5,784.2 958.5,784.3 960.5,784.3 962.5,784.3 964.5,784.3 966.5,784.3 968.5,784.3 970.5,784.4 972.5,784.4 974.5,784.4 976.5,784.4 978.5,784.4 980.5,784.4 982.5,784.5 984.5,784.5 986.5,784.5 988.5,784.5 990.5,784.5 992.5,784.5 994.5,784.5 996.5,784.5 998.5,784.6 1000.5,784.6 1002.5,784.6 1004.5,784.6 1006.5,784.6 1008.5,784.6 1010.5,784.6 1012.5,784.6 1014.5,784.6 1016.5,784.7 1018.5,784.7 1020.5,784.7 1022.5,784.7 1024.5,784.7 1026.5,784.7 1028.5,784.7 1030.5,784.7 1032.5,784.7 1034.5,784.7 1036.5,784.7 1038.5,784.8 1040.5,784.8 1042.5,784.8 1044.5,784.8 1046.5,784.8 1048.5,784.8 1050.5,784.8 1052.5,784.8 1054.5,784.8 1056.5,784.8 1058.5,784.8 1060.5,784.8 1062.5,784.8 1064.5,784.8 1066.5,784.8 1068.5,784.9 1070.5,784.9 1072.5,784.9 1074.5,784.9 1076.5,784.9 1078.5,784.9 1080.5,784.9 1082.5,784.9 1084.5,784.9" fill="none" stroke="#ff00ff" stroke-width="5.7" stroke-linejoin="round" stroke-linecap="butt" />
<line x1="565.7" y1="496.6" x2="654.1" y2="640.4" stroke="#00ff00" stroke-width="4.5" stroke-linecap="butt"/>
<rect x="100.5" y="26" width="984.5" height="834" fill="none" stroke="#000" stroke-width="6"/>
<line x1="100.5" y1="860" x2="100.5" y2="876" stroke="#000000" stroke-width="5.5" stroke-linecap="butt"/>
<text transform="translate(100.5 918.8) scale(1 1.055)" font-family='"Liberation Sans", Arial, Helvetica, sans-serif' font-weight="bold" font-size="43.8" fill="#000000" text-anchor="middle" >294</text>
<line x1="311.5" y1="860" x2="311.5" y2="876" stroke="#000000" stroke-width="5.5" stroke-linecap="butt"/>
<text transform="translate(311.5 918.8) scale(1 1.055)" font-family='"Liberation Sans", Arial, Helvetica, sans-serif' font-weight="bold" font-size="43.8" fill="#000000" text-anchor="middle" >291</text>
<line x1="522.4" y1="860" x2="522.4" y2="876" stroke="#000000" stroke-width="5.5" stroke-linecap="butt"/>
<text transform="translate(522.4 918.8) scale(1 1.055)" font-family='"Liberation Sans", Arial, Helvetica, sans-serif' font-weight="bold" font-size="43.8" fill="#000000" text-anchor="middle" >288</text>
<line x1="733.4" y1="860" x2="733.4" y2="876" stroke="#000000" stroke-width="5.5" stroke-linecap="butt"/>
<text transform="translate(733.4 918.8) scale(1 1.055)" font-family='"Liberation Sans", Arial, Helvetica, sans-serif' font-weight="bold" font-size="43.8" fill="#000000" text-anchor="middle" >285</text>
<line x1="944.4" y1="860" x2="944.4" y2="876" stroke="#000000" stroke-width="5.5" stroke-linecap="butt"/>
<text transform="translate(944.4 918.8) scale(1 1.055)" font-family='"Liberation Sans", Arial, Helvetica, sans-serif' font-weight="bold" font-size="43.8" fill="#000000" text-anchor="middle" >282</text>
<line x1="206" y1="860" x2="206" y2="869.5" stroke="#000000" stroke-width="5.5" stroke-linecap="butt"/>
<line x1="416.9" y1="860" x2="416.9" y2="869.5" stroke="#000000" stroke-width="5.5" stroke-linecap="butt"/>
<line x1="627.9" y1="860" x2="627.9" y2="869.5" stroke="#000000" stroke-width="5.5" stroke-linecap="butt"/>
<line x1="838.9" y1="860" x2="838.9" y2="869.5" stroke="#000000" stroke-width="5.5" stroke-linecap="butt"/>
<line x1="1049.8" y1="860" x2="1049.8" y2="869.5" stroke="#000000" stroke-width="5.5" stroke-linecap="butt"/>
<text transform="translate(592.8 966.5) scale(1 1.04)" font-family='"Liberation Sans", Arial, Helvetica, sans-serif' font-weight="bold" font-size="58.3" fill="#000000" text-anchor="middle" >Binding Energy (eV)</text>
<text transform="translate(81.8 440) rotate(-90) scale(1 1.035)" font-family='"Liberation Sans", Arial, Helvetica, sans-serif' font-weight="bold" font-size="58" fill="#000000" text-anchor="middle" >Intensity (a.u.)</text>
<text transform="translate(118 84.4) scale(1 1.055)" font-family='"Liberation Sans", Arial, Helvetica, sans-serif' font-weight="bold" font-size="58" fill="#000000" text-anchor="start" >C 1s</text>
<text transform="translate(1075.4 73.8) scale(1.06 1)" font-family='"Liberation Serif", "Times New Roman", serif' font-weight="bold" font-size="56.6" fill="#000000" text-anchor="end" >(a)</text>
<text transform="translate(465.4 492.1) scale(1 1.055)" font-family='"Liberation Sans", Arial, Helvetica, sans-serif' font-weight="bold" font-size="48.9" fill="#00ff00" text-anchor="start" >C<tspan font-weight="normal">–</tspan>N/C<tspan font-weight="normal">–</tspan>S</text>
<text transform="translate(769.5 334.5) rotate(-90) scale(1 1.055)" font-family='"Liberation Sans", Arial, Helvetica, sans-serif' font-weight="bold" font-size="49.5" fill="#ff0000" text-anchor="start" >C<tspan font-weight="normal">–</tspan>C</text>
<text transform="translate(568.7 680) rotate(-90) scale(1 1.055)" font-family='"Liberation Sans", Arial, Helvetica, sans-serif' font-weight="bold" font-size="49.5" fill="#0000ff" text-anchor="start" >C<tspan font-weight="normal">–</tspan>O</text>
<text transform="translate(456.5 703.5) rotate(-90) scale(1 1.055)" font-family='"Liberation Sans", Arial, Helvetica, sans-serif' font-weight="bold" font-size="49.5" fill="#00ffff" text-anchor="start" >C<tspan font-weight="normal">=</tspan>O</text>
<polyline points="1171.7,682.9 1183.5,714.7 1200.3,704.7 1210.3,691.2 1217,704.7 1223.7,687.9 1232.1,689.6 1238.8,698 1243.9,691.2 1248.9,708 1260.7,674.5 1275.8,657.7 1282.5,691.2 1287.5,657.7 1304.3,684.5 1309.3,667.8 1316,677.8 1324.4,671.1 1327.8,677.8 1334.5,654.3 1342.9,656 1347.9,651 1354.6,672.8 1361.3,656 1373.1,654.3 1379.8,632.5 1388.2,656 1393.2,637.6 1399.9,657.7 1418.4,635.9 1428.4,646 1438.5,630.9 1451.9,644.3 1465.3,624.1 1473.7,634.2 1482.1,630.9 1485.5,640.9 1492.2,597.3 1505.6,610.7 1512.3,588.9 1525.7,609 1539.1,577.2 1545.9,597.3 1549.2,557 1557.6,543.6 1564.3,511.7 1570.3,522.7 1576.9,502.7 1583.5,484.9 1590.1,452.8 1596.7,412.8 1603.3,386.4 1611.5,319.7 1617.5,295.7 1631.9,233.4 1642.7,192.6 1648.7,177.1 1655.9,190.2 1669,197.4 1683.4,241.8 1690.6,235.8 1696.6,231 1700.2,252.6 1706.2,286.1 1715.8,298.1 1724.2,329.3 1730.2,341.2 1736.2,377.2 1745.7,373.6 1751.7,334 1766.1,252.6 1775.7,204.6 1785.3,163.9 1794.4,105.2 1799.7,135.1 1809.3,156.7 1818.8,180.7 1823.6,223.8 1830.8,295.7 1838,379.6 1841.8,400 1852.3,534.8 1858.3,528.8 1877.7,669.6 1886.7,693.6 1900.2,707.1 1909.2,729.5 1916.7,759.5 1919.7,780.5 1925.1,734 1930.1,750.5 1936.1,738.5 1945.1,747.5 1958.6,768.5 1978.1,738.5 1984.1,753.5 1990.1,743 2002,761 2011,782 2024.5,740 2030.5,768.5 2042.5,747.5 2051.5,767 2057.5,768.5 2065,747.5 2076.9,782 2082.9,732.5 2088.9,774.5 2094.9,749 2102.4,741.5 2111.4,752 2117.4,753.5 2121.9,749 2128.5,785 2135.4,749 2142.9,767 2154.8,758" fill="none" stroke="#000000" stroke-width="5.2" stroke-linejoin="round" stroke-linecap="butt" />
<polyline points="1662.7,722 1664.7,722.3 1666.7,722.5 1668.7,722.7 1670.7,722.9 1672.7,723 1674.7,723.1 1676.7,723.1 1678.7,723 1680.7,722.8 1682.7,722.6 1684.7,722.2 1686.7,721.8 1688.7,721.2 1690.7,720.4 1692.7,719.5 1694.7,718.4 1696.7,717.1 1698.7,715.6 1700.7,713.8 1702.7,711.7 1704.7,709.4 1706.7,706.8 1708.7,703.8 1710.7,700.4 1712.7,696.6 1714.7,692.4 1716.7,687.8 1718.7,682.6 1720.7,677 1722.7,670.8 1724.7,664 1726.7,656.7 1728.7,648.7 1730.7,640.1 1732.7,630.9 1734.7,621 1736.7,610.4 1738.7,599.1 1740.7,587.2 1742.7,574.5 1744.7,561.2 1746.7,547.3 1748.7,532.7 1750.7,517.5 1752.7,501.7 1754.7,485.5 1756.7,468.7 1758.7,451.5 1760.7,434 1762.7,416.2 1764.7,398.2 1766.7,380 1768.7,361.9 1770.7,343.7 1772.7,325.8 1774.7,308.1 1776.7,290.7 1778.7,273.9 1780.7,257.5 1782.7,241.9 1784.7,227.1 1786.7,213.1 1788.7,200.1 1790.7,188.2 1792.7,177.5 1794.7,168 1796.7,159.7 1798.7,152.9 1800.7,147.5 1802.7,143.6 1804.7,141.1 1806.7,140.2 1808.7,140.8 1810.7,143 1812.7,146.6 1814.7,151.8 1816.7,158.4 1818.7,166.4 1820.7,175.7 1822.7,186.4 1824.7,198.2 1826.7,211.2 1828.7,225.3 1830.7,240.2 1832.7,256.1 1834.7,272.6 1836.7,289.8 1838.7,307.6 1840.7,325.7 1842.7,344.2 1844.7,362.9 1846.7,381.7 1848.7,400.6 1850.7,419.3 1852.7,437.9 1854.7,456.3 1856.7,474.3 1858.7,492 1860.7,509.2 1862.7,525.9 1864.7,542.1 1866.7,557.6 1868.7,572.6 1870.7,586.9 1872.7,600.5 1874.7,613.4 1876.7,625.7 1878.7,637.2 1880.7,648.1 1882.7,658.3 1884.7,667.8 1886.7,676.7 1888.7,684.9 1890.7,692.5 1892.7,699.5 1894.7,706 1896.7,711.9 1898.7,717.3 1900.7,722.2 1902.7,726.7 1904.7,730.8 1906.7,734.4 1908.7,737.7 1910.7,740.7 1912.7,743.4 1914.7,745.7 1916.7,747.8 1918.7,749.7 1920.7,751.4 1922.7,752.8 1924.7,754.1 1926.7,755.3 1928.7,756.3 1930.7,757.1 1932.7,757.9 1934.7,758.5 1936.7,759.1 1938.7,759.6 1940.7,760 1942.7,760.4 1944.7,760.7 1946.7,761 1948.7,761.2 1950.7,761.4 1952.7,761.5" fill="none" stroke="#ff0000" stroke-width="5" stroke-linejoin="round" stroke-linecap="butt" />
<polyline points="1224.7,701.5 1226.7,701.5 1228.7,701.5 1230.7,701.5 1232.7,701.5 1234.7,701.5 1236.7,701.5 1238.7,701.5 1240.7,701.5 1242.7,701.5 1244.7,701.5 1246.7,701.5 1248.7,701.5 1250.7,701.5 1252.7,701.4 1254.7,701.4 1256.7,701.4 1258.7,701.4 1260.7,701.4 1262.7,701.4 1264.7,701.4 1266.7,701.4 1268.7,701.4 1270.7,701.4 1272.7,701.4 1274.7,701.4 1276.7,701.4 1278.7,701.3 1280.7,701.3 1282.7,701.3 1284.7,701.3 1286.7,701.3 1288.7,701.3 1290.7,701.3 1292.7,701.3 1294.7,701.3 1296.7,701.3 1298.7,701.3 1300.7,701.3 1302.7,701.2 1304.7,701.2 1306.7,701.2 1308.7,701.2 1310.7,701.2 1312.7,701.2 1314.7,701.2 1316.7,701.2 1318.7,701.2 1320.7,701.2 1322.7,701.1 1324.7,701.1 1326.7,701.1 1328.7,701.1 1330.7,701.1 1332.7,701.1 1334.7,701.1 1336.7,701.1 1338.7,701.1 1340.7,701 1342.7,701 1344.7,701 1346.7,701 1348.7,701 1350.7,701 1352.7,701 1354.7,701 1356.7,701 1358.7,700.9 1360.7,700.9 1362.7,700.9 1364.7,700.9 1366.7,700.9 1368.7,700.9 1370.7,700.9 1372.7,700.9 1374.7,700.9 1376.7,700.8 1378.7,700.8 1380.7,700.8 1382.7,700.8 1384.7,700.8 1386.7,700.8 1388.7,700.8 1390.7,700.8 1392.7,700.8 1394.7,700.7 1396.7,700.7 1398.7,700.7 1400.7,700.7 1402.7,700.7 1404.7,700.7 1406.7,700.7 1408.7,700.7 1410.7,700.7 1412.7,700.7 1414.7,700.7 1416.7,700.6 1418.7,700.6 1420.7,700.6 1422.7,700.6 1424.7,700.6 1426.7,700.6 1428.7,700.6 1430.7,700.6 1432.7,700.6 1434.7,700.5 1436.7,700.5 1438.7,700.5 1440.7,700.5 1442.7,700.5 1444.7,700.4 1446.7,700.4 1448.7,700.4 1450.7,700.3 1452.7,700.3 1454.7,700.2 1456.7,700.2 1458.7,700.1 1460.7,700.1 1462.7,700 1464.7,699.9 1466.7,699.8 1468.7,699.7 1470.7,699.6 1472.7,699.4 1474.7,699.3 1476.7,699.1 1478.7,698.9 1480.7,698.7 1482.7,698.4 1484.7,698.2 1486.7,697.9 1488.7,697.5 1490.7,697.1 1492.7,696.7 1494.7,696.3 1496.7,695.8 1498.7,695.2 1500.7,694.6 1502.7,693.9 1504.7,693.1 1506.7,692.3 1508.7,691.4 1510.7,690.4 1512.7,689.4 1514.7,688.2 1516.7,686.9 1518.7,685.5 1520.7,684 1522.7,682.4 1524.7,680.6 1526.7,678.7 1528.7,676.6 1530.7,674.4 1532.7,672 1534.7,669.4 1536.7,666.6 1538.7,663.7 1540.7,660.5 1542.7,657.1 1544.7,653.5 1546.7,649.6 1548.7,645.5 1550.7,641.2 1552.7,636.6 1554.7,631.7 1556.7,626.5 1558.7,621.1 1560.7,615.4 1562.7,609.3 1564.7,603 1566.7,596.4 1568.7,589.5 1570.7,582.3 1572.7,574.7 1574.7,566.9 1576.7,558.7 1578.7,550.3 1580.7,541.6 1582.7,532.5 1584.7,523.2 1586.7,513.6 1588.7,503.8 1590.7,493.7 1592.7,483.3 1594.7,472.8 1596.7,462 1598.7,451.1 1600.7,440 1602.7,428.7 1604.7,417.4 1606.7,405.9 1608.7,394.4 1610.7,382.9 1612.7,371.3 1614.7,359.8 1616.7,348.3 1618.7,337 1620.7,325.7 1622.7,314.6 1624.7,303.7 1626.7,293.1 1628.7,282.7 1630.7,272.6 1632.7,262.9 1634.7,253.5 1636.7,244.6 1638.7,236.1 1640.7,228.1 1642.7,220.6 1644.7,213.6 1646.7,207.2 1648.7,201.5 1650.7,196.3 1652.7,191.9 1654.7,188.1 1656.7,185 1658.7,182.6 1660.7,180.9 1662.7,180 1664.7,179.8 1666.7,180.4 1668.7,181.7 1670.7,183.7 1672.7,186.5 1674.7,190 1676.7,194.3 1678.7,199.2 1680.7,204.7 1682.7,211 1684.7,217.8 1686.7,225.2 1688.7,233.2 1690.7,241.7 1692.7,250.7 1694.7,260.1 1696.7,270 1698.7,280.3 1700.7,290.9 1702.7,301.8 1704.7,313 1706.7,324.4 1708.7,336 1710.7,347.8 1712.7,359.7 1714.7,371.7 1716.7,383.8 1718.7,395.9 1720.7,408 1722.7,420 1724.7,432 1726.7,444 1728.7,455.8 1730.7,467.4 1732.7,478.9 1734.7,490.2 1736.7,501.4 1738.7,512.3 1740.7,523 1742.7,533.4 1744.7,543.6 1746.7,553.5 1748.7,563.1 1750.7,572.4 1752.7,581.5 1754.7,590.2 1756.7,598.7 1758.7,606.9 1760.7,614.7 1762.7,622.3 1764.7,629.5 1766.7,636.5 1768.7,643.2 1770.7,649.6 1772.7,655.7 1774.7,661.5 1776.7,667 1778.7,672.3 1780.7,677.4 1782.7,682.2 1784.7,686.7 1786.7,691 1788.7,695.1 1790.7,699 1792.7,702.7 1794.7,706.2 1796.7,709.4 1798.7,712.5 1800.7,715.5 1802.7,718.2 1804.7,720.9 1806.7,723.3 1808.7,725.6 1810.7,727.8 1812.7,729.9 1814.7,731.8 1816.7,733.6 1818.7,735.3 1820.7,736.9 1822.7,738.4 1824.7,739.8 1826.7,741.2 1828.7,742.4 1830.7,743.6 1832.7,744.7 1834.7,745.7 1836.7,746.7 1838.7,747.6 1840.7,748.4 1842.7,749.2 1844.7,749.9 1846.7,750.6 1848.7,751.2 1850.7,751.8 1852.7,752.4 1854.7,752.9 1856.7,753.4 1858.7,753.8 1860.7,754.2 1862.7,754.6 1864.7,755 1866.7,755.3 1868.7,755.6 1870.7,755.9 1872.7,756.2 1874.7,756.4 1876.7,756.7 1878.7,756.9 1880.7,757.1 1882.7,757.3 1884.7,757.4 1886.7,757.6 1888.7,757.8 1890.7,757.9 1892.7,758 1894.7,758.1 1896.7,758.3 1898.7,758.4 1900.7,758.5 1902.7,758.6 1904.7,758.6 1906.7,758.7 1908.7,758.8 1910.7,758.9 1912.7,759 1914.7,759 1916.7,759.1 1918.7,759.1 1920.7,759.2 1922.7,759.3 1924.7,759.3 1926.7,759.4 1928.7,759.4 1930.7,759.5 1932.7,759.5 1934.7,759.6 1936.7,759.6 1938.7,759.6 1940.7,759.7 1942.7,759.7 1944.7,759.8 1946.7,759.8 1948.7,759.8 1950.7,759.9 1952.7,759.9 1954.7,759.9 1956.7,760 1958.7,760 1960.7,760 1962.7,760.1 1964.7,760.1 1966.7,760.1 1968.7,760.2 1970.7,760.2 1972.7,760.2 1974.7,760.3 1976.7,760.3 1978.7,760.3 1980.7,760.3 1982.7,760.4 1984.7,760.4 1986.7,760.4 1988.7,760.4 1990.7,760.5 1992.7,760.5 1994.7,760.5 1996.7,760.5 1998.7,760.6 2000.7,760.6 2002.7,760.6 2004.7,760.6 2006.7,760.7 2008.7,760.7 2010.7,760.7 2012.7,760.7 2014.7,760.7 2016.7,760.8 2018.7,760.8 2020.7,760.8 2022.7,760.8 2024.7,760.8 2026.7,760.9 2028.7,760.9 2030.7,760.9 2032.7,760.9 2034.7,760.9 2036.7,760.9 2038.7,761 2040.7,761 2042.7,761 2044.7,761 2046.7,761 2048.7,761 2050.7,761.1 2052.7,761.1 2054.7,761.1 2056.7,761.1 2058.7,761.1 2060.7,761.1 2062.7,761.1 2064.7,761.2 2066.7,761.2 2068.7,761.2 2070.7,761.2 2072.7,761.2 2074.7,761.2 2076.7,761.2 2078.7,761.3 2080.7,761.3 2082.7,761.3 2084.7,761.3 2086.7,761.3 2088.7,761.3 2090.7,761.3 2092.7,761.3 2094.7,761.3 2096.7,761.4 2098.7,761.4 2100.7,761.4 2102.7,761.4 2104.7,761.4 2106.7,761.4 2108.7,761.4 2110.7,761.4 2112.7,761.4 2114.7,761.5 2116.7,761.5 2118.7,761.5 2120.7,761.5 2122.7,761.5 2124.7,761.5 2126.7,761.5 2128.7,761.5 2130.7,761.5 2132.7,761.5 2134.7,761.5 2136.7,761.6 2138.7,761.6 2140.7,761.6 2142.7,761.6 2144.7,761.6 2146.7,761.6 2148.7,761.6 2150.7,761.6 2152.7,761.6 2154.7,761.6" fill="none" stroke="#00ff00" stroke-width="5" stroke-linejoin="round" stroke-linecap="butt" />
<polyline points="1182.7,701.5 1184.7,701.5 1186.7,701.5 1188.7,701.5 1190.7,701.5 1192.7,701.5 1194.7,701.4 1196.7,701.4 1198.7,701.4 1200.7,701.4 1202.7,701.4 1204.7,701.4 1206.7,701.4 1208.7,701.4 1210.7,701.4 1212.7,701.4 1214.7,701.3 1216.7,701.3 1218.7,701.3 1220.7,701.3 1222.7,701.3 1224.7,701.3 1226.7,701.3 1228.7,701.2 1230.7,701.2 1232.7,701.2 1234.7,701.2 1236.7,701.2 1238.7,701.2 1240.7,701.1 1242.7,701.1 1244.7,701.1 1246.7,701.1 1248.7,701.1 1250.7,701.1 1252.7,701 1254.7,701 1256.7,701 1258.7,701 1260.7,700.9 1262.7,700.9 1264.7,700.9 1266.7,700.8 1268.7,700.8 1270.7,700.8 1272.7,700.7 1274.7,700.7 1276.7,700.7 1278.7,700.6 1280.7,700.6 1282.7,700.5 1284.7,700.5 1286.7,700.4 1288.7,700.3 1290.7,700.3 1292.7,700.2 1294.7,700.1 1296.7,700.1 1298.7,700 1300.7,699.9 1302.7,699.8 1304.7,699.7 1306.7,699.6 1308.7,699.5 1310.7,699.4 1312.7,699.3 1314.7,699.1 1316.7,699 1318.7,698.8 1320.7,698.7 1322.7,698.5 1324.7,698.3 1326.7,698.2 1328.7,698 1330.7,697.7 1332.7,697.5 1334.7,697.3 1336.7,697 1338.7,696.8 1340.7,696.5 1342.7,696.2 1344.7,695.9 1346.7,695.5 1348.7,695.2 1350.7,694.8 1352.7,694.4 1354.7,694 1356.7,693.6 1358.7,693.1 1360.7,692.6 1362.7,692.1 1364.7,691.6 1366.7,691.1 1368.7,690.5 1370.7,689.9 1372.7,689.3 1374.7,688.6 1376.7,687.9 1378.7,687.2 1380.7,686.5 1382.7,685.7 1384.7,684.9 1386.7,684.1 1388.7,683.3 1390.7,682.4 1392.7,681.5 1394.7,680.5 1396.7,679.6 1398.7,678.6 1400.7,677.5 1402.7,676.5 1404.7,675.4 1406.7,674.3 1408.7,673.2 1410.7,672 1412.7,670.8 1414.7,669.6 1416.7,668.4 1418.7,667.1 1420.7,665.8 1422.7,664.5 1424.7,663.2 1426.7,661.9 1428.7,660.5 1430.7,659.2 1432.7,657.8 1434.7,656.4 1436.7,655 1438.7,653.7 1440.7,652.3 1442.7,650.9 1444.7,649.5 1446.7,648.1 1448.7,646.7 1450.7,645.3 1452.7,644 1454.7,642.6 1456.7,641.3 1458.7,640 1460.7,638.8 1462.7,637.5 1464.7,636.3 1466.7,635.1 1468.7,634 1470.7,632.9 1472.7,631.8 1474.7,630.8 1476.7,629.9 1478.7,629 1480.7,628.1 1482.7,627.4 1484.7,626.6 1486.7,626 1488.7,625.4 1490.7,624.9 1492.7,624.4 1494.7,624 1496.7,623.7 1498.7,623.5 1500.7,623.4 1502.7,623.3 1504.7,623.3 1506.7,623.4 1508.7,623.5 1510.7,623.7 1512.7,624 1514.7,624.3 1516.7,624.7 1518.7,625.1 1520.7,625.6 1522.7,626.1 1524.7,626.6 1526.7,627.3 1528.7,627.9 1530.7,628.7 1532.7,629.4 1534.7,630.2 1536.7,631.1 1538.7,632 1540.7,632.9 1542.7,633.9 1544.7,634.9 1546.7,635.9 1548.7,637 1550.7,638.1 1552.7,639.2 1554.7,640.4 1556.7,641.6 1558.7,642.8 1560.7,644 1562.7,645.3 1564.7,646.6 1566.7,647.9 1568.7,649.2 1570.7,650.5 1572.7,651.8 1574.7,653.2 1576.7,654.6 1578.7,655.9 1580.7,657.3 1582.7,658.7 1584.7,660.1 1586.7,661.5 1588.7,662.9 1590.7,664.3 1592.7,665.7 1594.7,667.1 1596.7,668.5 1598.7,669.9 1600.7,671.3 1602.7,672.6 1604.7,674 1606.7,675.4 1608.7,676.8 1610.7,678.1 1612.7,679.5 1614.7,680.9 1616.7,682.2 1618.7,683.5 1620.7,684.8 1622.7,686.1 1624.7,687.4 1626.7,688.7 1628.7,690 1630.7,691.3 1632.7,692.5 1634.7,693.7 1636.7,695 1638.7,696.2 1640.7,697.4 1642.7,698.5 1644.7,699.7 1646.7,700.8 1648.7,701.9 1650.7,703.1 1652.7,704.1 1654.7,705.2 1656.7,706.3 1658.7,707.3 1660.7,708.3 1662.7,709.3 1664.7,710.3 1666.7,711.2 1668.7,712.2 1670.7,713.1 1672.7,714 1674.7,714.9 1676.7,715.7 1678.7,716.6 1680.7,717.4 1682.7,718.2 1684.7,719 1686.7,719.7 1688.7,720.5 1690.7,721.2 1692.7,721.9 1694.7,722.6 1696.7,723.2 1698.7,723.9 1700.7,724.5 1702.7,725.1 1704.7,725.7 1706.7,726.3 1708.7,726.8 1710.7,727.3 1712.7,727.9 1714.7,728.4 1716.7,728.9 1718.7,729.3 1720.7,729.8 1722.7,730.2 1724.7,730.7 1726.7,731.1 1728.7,731.5 1730.7,732 1732.7,732.4 1734.7,732.8 1736.7,733.1 1738.7,733.5 1740.7,733.9 1742.7,734.3 1744.7,734.7 1746.7,735.1 1748.7,735.4 1750.7,735.8 1752.7,736.2 1754.7,736.6 1756.7,737 1758.7,737.4 1760.7,737.8 1762.7,738.2 1764.7,738.6 1766.7,739 1768.7,739.4 1770.7,739.8 1772.7,740.3 1774.7,740.7 1776.7,741.2 1778.7,741.6 1780.7,742.1 1782.7,742.6 1784.7,743.1 1786.7,743.6 1788.7,744.1 1790.7,744.6 1792.7,745.1 1794.7,745.6 1796.7,746.1 1798.7,746.6 1800.7,747.1 1802.7,747.7 1804.7,748.2 1806.7,748.7 1808.7,749.2 1810.7,749.7 1812.7,750.2 1814.7,750.7 1816.7,751.2 1818.7,751.7 1820.7,752.2 1822.7,752.7 1824.7,753.2 1826.7,753.6 1828.7,754 1830.7,754.5 1832.7,754.9 1834.7,755.3 1836.7,755.7 1838.7,756 1840.7,756.4 1842.7,756.8 1844.7,757.1 1846.7,757.4 1848.7,757.7 1850.7,758 1852.7,758.2 1854.7,758.5 1856.7,758.7 1858.7,759 1860.7,759.2 1862.7,759.4 1864.7,759.6 1866.7,759.7 1868.7,759.9 1870.7,760 1872.7,760.2 1874.7,760.3 1876.7,760.4 1878.7,760.5 1880.7,760.6 1882.7,760.7 1884.7,760.8 1886.7,760.9 1888.7,761 1890.7,761" fill="none" stroke="#0000ff" stroke-width="5" stroke-linejoin="round" stroke-linecap="butt" />
<polyline points="1170.7,702.3 1172.7,702.3 1174.7,702.3 1176.7,702.3 1178.7,702.3 1180.7,702.3 1182.7,702.3 1184.7,702.3 1186.7,702.3 1188.7,702.3 1190.7,702.3 1192.7,702.3 1194.7,702.3 1196.7,702.3 1198.7,702.3 1200.7,702.3 1202.7,702.3 1204.7,702.3 1206.7,702.3 1208.7,702.3 1210.7,702.3 1212.7,702.3 1214.7,702.3 1216.7,702.3 1218.7,702.3 1220.7,702.3 1222.7,702.3 1224.7,702.3 1226.7,702.3 1228.7,702.3 1230.7,702.3 1232.7,702.3 1234.7,702.3 1236.7,702.3 1238.7,702.3 1240.7,702.3 1242.7,702.3 1244.7,702.4 1246.7,702.4 1248.7,702.4 1250.7,702.4 1252.7,702.4 1254.7,702.4 1256.7,702.4 1258.7,702.4 1260.7,702.4 1262.7,702.4 1264.7,702.4 1266.7,702.4 1268.7,702.4 1270.7,702.4 1272.7,702.4 1274.7,702.4 1276.7,702.4 1278.7,702.4 1280.7,702.4 1282.7,702.4 1284.7,702.4 1286.7,702.4 1288.7,702.4 1290.7,702.4 1292.7,702.4 1294.7,702.4 1296.7,702.4 1298.7,702.4 1300.7,702.4 1302.7,702.4 1304.7,702.4 1306.7,702.4 1308.7,702.4 1310.7,702.4 1312.7,702.4 1314.7,702.4 1316.7,702.4 1318.7,702.4 1320.7,702.4 1322.7,702.4 1324.7,702.5 1326.7,702.5 1328.7,702.5 1330.7,702.5 1332.7,702.5 1334.7,702.5 1336.7,702.5 1338.7,702.5 1340.7,702.5 1342.7,702.5 1344.7,702.5 1346.7,702.5 1348.7,702.5 1350.7,702.5 1352.7,702.5 1354.7,702.5 1356.7,702.6 1358.7,702.6 1360.7,702.6 1362.7,702.6 1364.7,702.6 1366.7,702.6 1368.7,702.6 1370.7,702.6 1372.7,702.6 1374.7,702.6 1376.7,702.7 1378.7,702.7 1380.7,702.7 1382.7,702.7 1384.7,702.7 1386.7,702.7 1388.7,702.7 1390.7,702.8 1392.7,702.8 1394.7,702.8 1396.7,702.8 1398.7,702.8 1400.7,702.9 1402.7,702.9 1404.7,702.9 1406.7,702.9 1408.7,703 1410.7,703 1412.7,703 1414.7,703 1416.7,703.1 1418.7,703.1 1420.7,703.1 1422.7,703.2 1424.7,703.2 1426.7,703.2 1428.7,703.3 1430.7,703.3 1432.7,703.3 1434.7,703.4 1436.7,703.4 1438.7,703.5 1440.7,703.5 1442.7,703.5 1444.7,703.6 1446.7,703.6 1448.7,703.7 1450.7,703.7 1452.7,703.8 1454.7,703.8 1456.7,703.9 1458.7,703.9 1460.7,704 1462.7,704 1464.7,704.1 1466.7,704.2 1468.7,704.2 1470.7,704.3 1472.7,704.3 1474.7,704.4 1476.7,704.5 1478.7,704.5 1480.7,704.6 1482.7,704.7 1484.7,704.7 1486.7,704.8 1488.7,704.9 1490.7,704.9 1492.7,705 1494.7,705.1 1496.7,705.1 1498.7,705.2 1500.7,705.3 1502.7,705.4 1504.7,705.4 1506.7,705.5 1508.7,705.6 1510.7,705.7 1512.7,705.7 1514.7,705.8 1516.7,705.9 1518.7,706 1520.7,706.1 1522.7,706.1 1524.7,706.2 1526.7,706.3 1528.7,706.4 1530.7,706.5 1532.7,706.6 1534.7,706.6 1536.7,706.7 1538.7,706.8 1540.7,706.9 1542.7,707 1544.7,707.1 1546.7,707.2 1548.7,707.3 1550.7,707.4 1552.7,707.5 1554.7,707.6 1556.7,707.8 1558.7,707.9 1560.7,708 1562.7,708.1 1564.7,708.3 1566.7,708.4 1568.7,708.5 1570.7,708.7 1572.7,708.8 1574.7,709 1576.7,709.1 1578.7,709.3 1580.7,709.5 1582.7,709.7 1584.7,709.8 1586.7,710 1588.7,710.2 1590.7,710.4 1592.7,710.7 1594.7,710.9 1596.7,711.1 1598.7,711.3 1600.7,711.6 1602.7,711.8 1604.7,712.1 1606.7,712.4 1608.7,712.6 1610.7,712.9 1612.7,713.2 1614.7,713.5 1616.7,713.8 1618.7,714.2 1620.7,714.5 1622.7,714.8 1624.7,715.2 1626.7,715.5 1628.7,715.9 1630.7,716.2 1632.7,716.6 1634.7,717 1636.7,717.4 1638.7,717.8 1640.7,718.2 1642.7,718.6 1644.7,719 1646.7,719.4 1648.7,719.8 1650.7,720.3 1652.7,720.7 1654.7,721.1 1656.7,721.5 1658.7,722 1660.7,722.4 1662.7,722.8 1664.7,723.3 1666.7,723.7 1668.7,724.2 1670.7,724.6 1672.7,725 1674.7,725.4 1676.7,725.9 1678.7,726.3 1680.7,726.7 1682.7,727.1 1684.7,727.5 1686.7,727.9 1688.7,728.3 1690.7,728.7 1692.7,729.1 1694.7,729.5 1696.7,729.9 1698.7,730.2 1700.7,730.6 1702.7,731 1704.7,731.3 1706.7,731.7 1708.7,732 1710.7,732.3 1712.7,732.6 1714.7,733 1716.7,733.3 1718.7,733.6 1720.7,733.9 1722.7,734.2 1724.7,734.5 1726.7,734.8 1728.7,735.1 1730.7,735.3 1732.7,735.6 1734.7,735.9 1736.7,736.2 1738.7,736.5 1740.7,736.8 1742.7,737.1 1744.7,737.4 1746.7,737.7 1748.7,738 1750.7,738.3 1752.7,738.6 1754.7,738.9 1756.7,739.2 1758.7,739.5 1760.7,739.9 1762.7,740.2 1764.7,740.6 1766.7,740.9 1768.7,741.3 1770.7,741.7 1772.7,742.1 1774.7,742.5 1776.7,742.9 1778.7,743.3 1780.7,743.8 1782.7,744.2 1784.7,744.7 1786.7,745.1 1788.7,745.6 1790.7,746.1 1792.7,746.6 1794.7,747 1796.7,747.5 1798.7,748 1800.7,748.5 1802.7,749 1804.7,749.5 1806.7,750 1808.7,750.5 1810.7,751 1812.7,751.5 1814.7,752 1816.7,752.5 1818.7,752.9 1820.7,753.4 1822.7,753.9 1824.7,754.3 1826.7,754.8 1828.7,755.2 1830.7,755.6 1832.7,756 1834.7,756.4 1836.7,756.8 1838.7,757.1 1840.7,757.5 1842.7,757.8 1844.7,758.1 1846.7,758.4 1848.7,758.7 1850.7,759 1852.7,759.2 1854.7,759.5 1856.7,759.7 1858.7,759.9 1860.7,760.1 1862.7,760.3 1864.7,760.5 1866.7,760.6 1868.7,760.8 1870.7,760.9 1872.7,761.1 1874.7,761.2 1876.7,761.3 1878.7,761.4 1880.7,761.5 1882.7,761.6 1884.7,761.7 1886.7,761.7 1888.7,761.8 1890.7,761.8 1892.7,761.9 1894.7,761.9 1896.7,762 1898.7,762 1900.7,762.1 1902.7,762.1 1904.7,762.1 1906.7,762.1 1908.7,762.2 1910.7,762.2 1912.7,762.2 1914.7,762.2 1916.7,762.2 1918.7,762.2 1920.7,762.3 1922.7,762.3 1924.7,762.3 1926.7,762.3 1928.7,762.3 1930.7,762.3 1932.7,762.3 1934.7,762.3 1936.7,762.3 1938.7,762.3 1940.7,762.3 1942.7,762.3 1944.7,762.3 1946.7,762.3 1948.7,762.3 1950.7,762.3 1952.7,762.3 1954.7,762.4 1956.7,762.4 1958.7,762.4 1960.7,762.4 1962.7,762.4 1964.7,762.4 1966.7,762.4 1968.7,762.4 1970.7,762.4 1972.7,762.4 1974.7,762.4 1976.7,762.4 1978.7,762.4 1980.7,762.4 1982.7,762.4 1984.7,762.4 1986.7,762.4 1988.7,762.4 1990.7,762.4 1992.7,762.4 1994.7,762.4 1996.7,762.4 1998.7,762.4 2000.7,762.4 2002.7,762.4 2004.7,762.4 2006.7,762.4 2008.7,762.4 2010.7,762.4 2012.7,762.4 2014.7,762.4 2016.7,762.4 2018.7,762.4 2020.7,762.4 2022.7,762.4 2024.7,762.4 2026.7,762.4 2028.7,762.4 2030.7,762.4 2032.7,762.4 2034.7,762.4 2036.7,762.4 2038.7,762.4 2040.7,762.4 2042.7,762.4 2044.7,762.4 2046.7,762.4 2048.7,762.4 2050.7,762.4 2052.7,762.4 2054.7,762.4 2056.7,762.4 2058.7,762.4 2060.7,762.4 2062.7,762.4 2064.7,762.5 2066.7,762.5 2068.7,762.5 2070.7,762.5 2072.7,762.5 2074.7,762.5 2076.7,762.5 2078.7,762.5 2080.7,762.5 2082.7,762.5 2084.7,762.5 2086.7,762.5 2088.7,762.5 2090.7,762.5 2092.7,762.5 2094.7,762.5 2096.7,762.5 2098.7,762.5 2100.7,762.5 2102.7,762.5 2104.7,762.5 2106.7,762.5 2108.7,762.5 2110.7,762.5 2112.7,762.5 2114.7,762.5 2116.7,762.5 2118.7,762.5 2120.7,762.5 2122.7,762.5 2124.7,762.5 2126.7,762.5 2128.7,762.5 2130.7,762.5 2132.7,762.5 2134.7,762.5 2136.7,762.5 2138.7,762.5 2140.7,762.5 2142.7,762.5 2144.7,762.5 2146.7,762.5 2148.7,762.5 2150.7,762.5 2152.7,762.5 2154.7,762.5" fill="none" stroke="#b9b9b9" stroke-width="5.2" stroke-linejoin="round" stroke-linecap="butt" />
<polyline points="1170.7,700.9 1172.7,700.9 1174.7,700.9 1176.7,700.9 1178.7,700.9 1180.7,700.8 1182.7,700.8 1184.7,700.8 1186.7,700.8 1188.7,700.8 1190.7,700.8 1192.7,700.8 1194.7,700.7 1196.7,700.7 1198.7,700.7 1200.7,700.7 1202.7,700.7 1204.7,700.7 1206.7,700.6 1208.7,700.6 1210.7,700.6 1212.7,700.6 1214.7,700.6 1216.7,700.6 1218.7,700.5 1220.7,700.5 1222.7,700.5 1224.7,700.5 1226.7,700.5 1228.7,700.4 1230.7,700.4 1232.7,700.4 1234.7,700.4 1236.7,700.3 1238.7,700.3 1240.7,700.3 1242.7,700.3 1244.7,700.2 1246.7,700.2 1248.7,700.2 1250.7,700.1 1252.7,700.1 1254.7,700.1 1256.7,700.1 1258.7,700 1260.7,700 1262.7,699.9 1264.7,699.9 1266.7,699.9 1268.7,699.8 1270.7,699.8 1272.7,699.7 1274.7,699.7 1276.7,699.6 1278.7,699.6 1280.7,699.5 1282.7,699.5 1284.7,699.4 1286.7,699.3 1288.7,699.3 1290.7,699.2 1292.7,699.1 1294.7,699 1296.7,698.9 1298.7,698.8 1300.7,698.7 1302.7,698.6 1304.7,698.5 1306.7,698.4 1308.7,698.3 1310.7,698.2 1312.7,698 1314.7,697.9 1316.7,697.7 1318.7,697.6 1320.7,697.4 1322.7,697.2 1324.7,697 1326.7,696.8 1328.7,696.6 1330.7,696.4 1332.7,696.1 1334.7,695.9 1336.7,695.6 1338.7,695.3 1340.7,695 1342.7,694.7 1344.7,694.4 1346.7,694 1348.7,693.6 1350.7,693.3 1352.7,692.8 1354.7,692.4 1356.7,692 1358.7,691.5 1360.7,691 1362.7,690.5 1364.7,689.9 1366.7,689.4 1368.7,688.8 1370.7,688.1 1372.7,687.5 1374.7,686.8 1376.7,686.1 1378.7,685.4 1380.7,684.6 1382.7,683.8 1384.7,683 1386.7,682.2 1388.7,681.3 1390.7,680.4 1392.7,679.4 1394.7,678.5 1396.7,677.5 1398.7,676.5 1400.7,675.4 1402.7,674.3 1404.7,673.2 1406.7,672.1 1408.7,670.9 1410.7,669.7 1412.7,668.5 1414.7,667.2 1416.7,665.9 1418.7,664.6 1420.7,663.3 1422.7,662 1424.7,660.6 1426.7,659.2 1428.7,657.8 1430.7,656.4 1432.7,655 1434.7,653.6 1436.7,652.1 1438.7,650.7 1440.7,649.2 1442.7,647.8 1444.7,646.3 1446.7,644.8 1448.7,643.4 1450.7,641.9 1452.7,640.5 1454.7,639.1 1456.7,637.6 1458.7,636.2 1460.7,634.8 1462.7,633.4 1464.7,632.1 1466.7,630.8 1468.7,629.5 1470.7,628.2 1472.7,626.9 1474.7,625.7 1476.7,624.5 1478.7,623.3 1480.7,622.2 1482.7,621.1 1484.7,620.1 1486.7,619 1488.7,618 1490.7,617.1 1492.7,616.1 1494.7,615.2 1496.7,614.4 1498.7,613.5 1500.7,612.7 1502.7,611.8 1504.7,611 1506.7,610.2 1508.7,609.4 1510.7,608.5 1512.7,607.6 1514.7,606.7 1516.7,605.7 1518.7,604.6 1520.7,603.5 1522.7,602.3 1524.7,601 1526.7,599.7 1528.7,598.2 1530.7,596.6 1532.7,594.8 1534.7,593 1536.7,591 1538.7,588.8 1540.7,586.5 1542.7,583.9 1544.7,581.2 1546.7,578.3 1548.7,575.2 1550.7,571.8 1552.7,568.3 1554.7,564.4 1556.7,560.4 1558.7,556 1560.7,551.4 1562.7,546.5 1564.7,541.3 1566.7,535.9 1568.7,530.1 1570.7,524.1 1572.7,517.7 1574.7,511.1 1576.7,504.2 1578.7,496.9 1580.7,489.4 1582.7,481.6 1584.7,473.4 1586.7,465.1 1588.7,456.4 1590.7,447.5 1592.7,438.3 1594.7,429 1596.7,419.4 1598.7,409.6 1600.7,399.6 1602.7,389.5 1604.7,379.3 1606.7,369 1608.7,358.6 1610.7,348.1 1612.7,337.6 1614.7,327.1 1616.7,316.7 1618.7,306.3 1620.7,296.1 1622.7,285.9 1624.7,276 1626.7,266.3 1628.7,256.8 1630.7,247.6 1632.7,238.7 1634.7,230.2 1636.7,222.1 1638.7,214.4 1640.7,207.1 1642.7,200.4 1644.7,194.2 1646.7,188.5 1648.7,183.4 1650.7,178.9 1652.7,175 1654.7,171.8 1656.7,169.2 1658.7,167.3 1660.7,166.1 1662.7,165.6 1664.7,165.8 1666.7,166.7 1668.7,168.3 1670.7,170.6 1672.7,173.5 1674.7,177.1 1676.7,181.3 1678.7,186.2 1680.7,191.6 1682.7,197.5 1684.7,203.9 1686.7,210.8 1688.7,218.1 1690.7,225.8 1692.7,233.8 1694.7,242.1 1696.7,250.6 1698.7,259.2 1700.7,267.9 1702.7,276.7 1704.7,285.4 1706.7,294.1 1708.7,302.6 1710.7,310.9 1712.7,318.9 1714.7,326.6 1716.7,333.9 1718.7,340.7 1720.7,347 1722.7,352.7 1724.7,357.8 1726.7,362.2 1728.7,365.9 1730.7,368.8 1732.7,370.9 1734.7,372.1 1736.7,372.5 1738.7,371.9 1740.7,370.5 1742.7,368.1 1744.7,364.7 1746.7,360.5 1748.7,355.3 1750.7,349.2 1752.7,342.3 1754.7,334.5 1756.7,326 1758.7,316.7 1760.7,306.7 1762.7,296.2 1764.7,285.1 1766.7,273.6 1768.7,261.8 1770.7,249.7 1772.7,237.5 1774.7,225.3 1776.7,213.1 1778.7,201.1 1780.7,189.5 1782.7,178.2 1784.7,167.5 1786.7,157.4 1788.7,148.1 1790.7,139.6 1792.7,132.1 1794.7,125.6 1796.7,120.2 1798.7,116 1800.7,113.1 1802.7,111.4 1804.7,111.1 1806.7,112.2 1808.7,114.6 1810.7,118.5 1812.7,123.7 1814.7,130.3 1816.7,138.3 1818.7,147.5 1820.7,158.1 1822.7,169.8 1824.7,182.6 1826.7,196.5 1828.7,211.4 1830.7,227.1 1832.7,243.6 1834.7,260.8 1836.7,278.6 1838.7,296.9 1840.7,315.6 1842.7,334.5 1844.7,353.7 1846.7,372.9 1848.7,392.1 1850.7,411.2 1852.7,430.1 1854.7,448.7 1856.7,467.1 1858.7,485 1860.7,502.4 1862.7,519.3 1864.7,535.7 1866.7,551.4 1868.7,566.5 1870.7,581 1872.7,594.7 1874.7,607.8 1876.7,620.2 1878.7,631.9 1880.7,642.9 1882.7,653.1 1884.7,662.8 1886.7,671.7 1888.7,680 1890.7,687.7 1892.7,694.8 1894.7,701.4 1896.7,707.4 1898.7,712.9 1900.7,717.9 1902.7,722.4 1904.7,726.5 1906.7,730.3 1908.7,733.6 1910.7,736.7 1912.7,739.4 1914.7,741.8 1916.7,744 1918.7,745.9 1920.7,747.6 1922.7,749.1 1924.7,750.5 1926.7,751.7 1928.7,752.7 1930.7,753.6 1932.7,754.4 1934.7,755.1 1936.7,755.7 1938.7,756.3 1940.7,756.7 1942.7,757.1 1944.7,757.5 1946.7,757.8 1948.7,758.1 1950.7,758.3 1952.7,758.5 1954.7,758.7 1956.7,758.8 1958.7,759 1960.7,759.1 1962.7,759.2 1964.7,759.3 1966.7,759.4 1968.7,759.4 1970.7,759.5 1972.7,759.6 1974.7,759.6 1976.7,759.7 1978.7,759.7 1980.7,759.8 1982.7,759.8 1984.7,759.8 1986.7,759.9 1988.7,759.9 1990.7,759.9 1992.7,760 1994.7,760 1996.7,760 1998.7,760.1 2000.7,760.1 2002.7,760.1 2004.7,760.1 2006.7,760.2 2008.7,760.2 2010.7,760.2 2012.7,760.2 2014.7,760.3 2016.7,760.3 2018.7,760.3 2020.7,760.3 2022.7,760.4 2024.7,760.4 2026.7,760.4 2028.7,760.4 2030.7,760.4 2032.7,760.5 2034.7,760.5 2036.7,760.5 2038.7,760.5 2040.7,760.5 2042.7,760.6 2044.7,760.6 2046.7,760.6 2048.7,760.6 2050.7,760.6 2052.7,760.7 2054.7,760.7 2056.7,760.7 2058.7,760.7 2060.7,760.7 2062.7,760.7 2064.7,760.8 2066.7,760.8 2068.7,760.8 2070.7,760.8 2072.7,760.8 2074.7,760.8 2076.7,760.9 2078.7,760.9 2080.7,760.9 2082.7,760.9 2084.7,760.9 2086.7,760.9 2088.7,761 2090.7,761 2092.7,761 2094.7,761 2096.7,761 2098.7,761 2100.7,761 2102.7,761 2104.7,761.1 2106.7,761.1 2108.7,761.1 2110.7,761.1 2112.7,761.1 2114.7,761.1 2116.7,761.1 2118.7,761.1 2120.7,761.2 2122.7,761.2 2124.7,761.2 2126.7,761.2 2128.7,761.2 2130.7,761.2 2132.7,761.2 2134.7,761.2 2136.7,761.2 2138.7,761.3 2140.7,761.3 2142.7,761.3 2144.7,761.3 2146.7,761.3 2148.7,761.3 2150.7,761.3 2152.7,761.3 2154.7,761.3" fill="none" stroke="#ff00ff" stroke-width="5.7" stroke-linejoin="round" stroke-linecap="butt" />
<rect x="1170.7" y="26" width="984.9" height="833.5" fill="none" stroke="#000" stroke-width="6"/>
<line x1="1170.7" y1="859.5" x2="1170.7" y2="875.5" stroke="#000000" stroke-width="5.5" stroke-linecap="butt"/>
<text transform="translate(1170.7 917.8) scale(1 1.055)" font-family='"Liberation Sans", Arial, Helvetica, sans-serif' font-weight="bold" font-size="43.8" fill="#000000" text-anchor="middle" >408</text>
<line x1="1367.7" y1="859.5" x2="1367.7" y2="875.5" stroke="#000000" stroke-width="5.5" stroke-linecap="butt"/>
<text transform="translate(1367.7 917.8) scale(1 1.055)" font-family='"Liberation Sans", Arial, Helvetica, sans-serif' font-weight="bold" font-size="43.8" fill="#000000" text-anchor="middle" >405</text>
<line x1="1564.7" y1="859.5" x2="1564.7" y2="875.5" stroke="#000000" stroke-width="5.5" stroke-linecap="butt"/>
<text transform="translate(1564.7 917.8) scale(1 1.055)" font-family='"Liberation Sans", Arial, Helvetica, sans-serif' font-weight="bold" font-size="43.8" fill="#000000" text-anchor="middle" >402</text>
<line x1="1761.6" y1="859.5" x2="1761.6" y2="875.5" stroke="#000000" stroke-width="5.5" stroke-linecap="butt"/>
<text transform="translate(1761.6 917.8) scale(1 1.055)" font-family='"Liberation Sans", Arial, Helvetica, sans-serif' font-weight="bold" font-size="43.8" fill="#000000" text-anchor="middle" >399</text>
<line x1="1958.6" y1="859.5" x2="1958.6" y2="875.5" stroke="#000000" stroke-width="5.5" stroke-linecap="butt"/>
<text transform="translate(1958.6 917.8) scale(1 1.055)" font-family='"Liberation Sans", Arial, Helvetica, sans-serif' font-weight="bold" font-size="43.8" fill="#000000" text-anchor="middle" >396</text>
<line x1="2155.6" y1="859.5" x2="2155.6" y2="875.5" stroke="#000000" stroke-width="5.5" stroke-linecap="butt"/>
<text transform="translate(2155.6 917.8) scale(1 1.055)" font-family='"Liberation Sans", Arial, Helvetica, sans-serif' font-weight="bold" font-size="43.8" fill="#000000" text-anchor="middle" >393</text>
<line x1="1269.2" y1="859.5" x2="1269.2" y2="869" stroke="#000000" stroke-width="5.5" stroke-linecap="butt"/>
<line x1="1466.2" y1="859.5" x2="1466.2" y2="869" stroke="#000000" stroke-width="5.5" stroke-linecap="butt"/>
<line x1="1663.2" y1="859.5" x2="1663.2" y2="869" stroke="#000000" stroke-width="5.5" stroke-linecap="butt"/>
<line x1="1860.1" y1="859.5" x2="1860.1" y2="869" stroke="#000000" stroke-width="5.5" stroke-linecap="butt"/>
<line x1="2057.1" y1="859.5" x2="2057.1" y2="869" stroke="#000000" stroke-width="5.5" stroke-linecap="butt"/>
<text transform="translate(1663.2 966.4) scale(1 1.04)" font-family='"Liberation Sans", Arial, Helvetica, sans-serif' font-weight="bold" font-size="58.3" fill="#000000" text-anchor="middle" >Binding Energy (eV)</text>
<text transform="translate(1151.3 440) rotate(-90) scale(1 1.035)" font-family='"Liberation Sans", Arial, Helvetica, sans-serif' font-weight="bold" font-size="58" fill="#000000" text-anchor="middle" >Intensity (a.u.)</text>
<text transform="translate(1189.8 83.9) scale(1 1.055)" font-family='"Liberation Sans", Arial, Helvetica, sans-serif' font-weight="bold" font-size="58.3" fill="#000000" text-anchor="start" >N 1s</text>
<text transform="translate(2146.5 73.8) scale(1.06 1)" font-family='"Liberation Serif", "Times New Roman", serif' font-weight="bold" font-size="56.6" fill="#000000" text-anchor="end" >(b)</text>
<text transform="translate(1520.7 586.2) rotate(-90) scale(1 1.035)" font-family='"Liberation Sans", Arial, Helvetica, sans-serif' font-weight="bold" font-size="51.6" fill="#0000ff" text-anchor="start" >Graphitic N</text>
<text transform="translate(1684 523.1) rotate(-90) scale(1 1.035)" font-family='"Liberation Sans", Arial, Helvetica, sans-serif' font-weight="bold" font-size="51.3" fill="#00ff00" text-anchor="start" >Pyrrolic N</text>
<text transform="translate(1823.5 561.8) rotate(-90) scale(1 1.035)" font-family='"Liberation Sans", Arial, Helvetica, sans-serif' font-weight="bold" font-size="51" fill="#ff0000" text-anchor="start" >Pyridinic N</text>
<polyline points="104.5,1502 112,1505 118,1500.6 122.5,1521.5 130,1454.1 134.5,1461.6 138.9,1503.5 144.9,1506.5 149.4,1476.6 155.4,1475.1 161.4,1485.6 168.9,1476.6 173.4,1488.6 177.9,1472.1 182.4,1488.6 188.4,1461.6 195.9,1443.6 203.4,1521.5 210.8,1442.1 215.3,1479.6 221.3,1493.1 228.8,1491.6 237.8,1458.6 246.8,1493.1 252.8,1440.6 260.3,1443.6 272.3,1419.7 279.7,1427.2 284.2,1377.7 291.7,1362.7 297.7,1397.2 305.2,1344.8 309.7,1356.8 318.7,1329.8 323.2,1344.8 327.7,1284.9 332.2,1326.8 341.2,1266.9 348.7,1293.8 357.6,1253.4 365.1,1308.8 369.6,1259.4 375.6,1302.8 383.1,1329.8 389.1,1299.8 393.6,1350.8 404.1,1359.7 411.6,1437.6 416.1,1395.7 420.6,1449.6 429.5,1488.6 435.5,1469.1 441.5,1497.6 449,1509.5 455,1503.5 462.5,1533.5 471.5,1560.5 477.5,1566.5 485,1535 492.5,1554.5 498.4,1542.5 504.4,1578.4 511.9,1551.5 516.4,1575.4 525.4,1578.4 531.4,1566.5 535.9,1599.4 540.4,1557.5 546.4,1544 552.4,1545.5 558.4,1518.5 562.9,1545.5 568.8,1512.5 573.3,1536.5 579.3,1524.5 563.1,1517.1 569.3,1510.9 574,1535.8 580.3,1532.7 591.2,1515.5 603.6,1537.3 608.3,1507.7 617.6,1485.9 623.9,1523.3 630.1,1489 634.8,1517.1 639.4,1475 644.1,1501.5 647.2,1479.7 653.5,1514 661.3,1481.3 667.5,1498.4 673.7,1479.7 680,1484.4 684.6,1429.9 689.3,1457.9 694,1476.6 698.6,1406.5 704.9,1436.1 712.7,1404.9 717.3,1411.2 722,1380 717.3,1412.1 722,1374.7 729.8,1368.4 736,1366.9 740.7,1334.2 746.9,1331.1 750.7,1265.6 755.7,1240.7 762.5,1246.9 765.6,1159.7 769.4,1184.6 775,1159.7 779.7,1162.8 785,1127 789.9,1122.3 793.7,1147.2 799.9,1120.8 806.1,1116.1 810.8,1148.8 815.5,1137.9 820.2,1097.4 824.8,1127 828.6,1100.5 831.7,1150.4 835.7,1153.5 840.4,1194 848.2,1229.8 852.9,1265.6 856,1309.3 860.7,1349.8 866.9,1402.7 871.6,1449.5 875.3,1474.4 874.7,1489 884,1542 890.3,1598.1 898,1654.2 904.3,1694.7 909,1682.2 915.2,1716.5 919.9,1741.4 926.1,1719.6 932.3,1727.4 938.6,1758.6 944.8,1725.8 951,1758.6 958.8,1716.5 966.6,1710.3 971.3,1732.1 977.5,1729 982.2,1736.7 993.1,1722.7 999.3,1716.5 1004,1750.8 1008.7,1758.6 1016.4,1690 1021.1,1743 1027.3,1713.4 1032,1749.2 1038.3,1719.6 1044.5,1732.1 1050.7,1725.8 1053.8,1735.2 1061.6,1714.9 1066.3,1730.5" fill="none" stroke="#000000" stroke-width="5.2" stroke-linejoin="round" stroke-linecap="butt" />
<polyline points="576,1569.3 578,1569.5 580,1569.7 582,1569.9 584,1570.1 586,1570.2 588,1570.4 590,1570.6 592,1570.9 594,1571.1 596,1571.3 598,1571.6 600,1571.8 602,1572.1 604,1572.4 606,1572.6 608,1572.9 610,1573.2 612,1573.5 614,1573.9 616,1574.2 618,1574.5 620,1574.8 622,1575.1 624,1575.4 626,1575.6 628,1575.9 630,1576.2 632,1576.4 634,1576.7 636,1576.9 638,1577.1 640,1577.3 642,1577.4 644,1577.6 646,1577.7 648,1577.8 650,1577.8 652,1577.9 654,1577.9 656,1577.8 658,1577.7 660,1577.6 662,1577.4 664,1577.1 666,1576.8 668,1576.3 670,1575.8 672,1575.2 674,1574.5 676,1573.6 678,1572.6 680,1571.5 682,1570.3 684,1568.8 686,1567.2 688,1565.4 690,1563.4 692,1561.2 694,1558.8 696,1556.2 698,1553.3 700,1550.1 702,1546.7 704,1543.1 706,1539.2 708,1535 710,1530.5 712,1525.7 714,1520.6 716,1515.3 718,1509.6 720,1503.7 722,1497.4 724,1490.8 726,1483.8 728,1476.5 730,1468.9 732,1460.9 734,1452.5 736,1443.8 738,1434.7 740,1425.3 742,1415.6 744,1405.6 746,1395.3 748,1384.7 750,1373.9 752,1362.9 754,1351.8 756,1340.5 758,1329 760,1317.6 762,1306.1 764,1294.6 766,1283.2 768,1271.9 770,1260.8 772,1249.8 774,1239.1 776,1228.7 778,1218.6 780,1208.8 782,1199.5 784,1190.6 786,1182.3 788,1174.5 790,1167.3 792,1160.8 794,1154.9 796,1149.7 798,1145.3 800,1141.7 802,1138.9 804,1136.9 806,1135.7 808,1135.4 810,1136 812,1137.4 814,1139.7 816,1142.9 818,1147 820,1152 822,1157.8 824,1164.5 826,1171.9 828,1180.2 830,1189.2 832,1198.8 834,1209.2 836,1220.1 838,1231.7 840,1243.8 842,1256.3 844,1269.3 846,1282.6 848,1296.3 850,1310.2 852,1324.4 854,1338.6 856,1353 858,1367.5 860,1381.9 862,1396.3 864,1410.7 866,1424.9 868,1438.9 870,1452.8 872,1466.4 874,1479.8 876,1492.9 878,1505.7 880,1518.2 882,1530.3 884,1542 886,1553.2 888,1564.1 890,1574.5 892,1584.5 894,1594 896,1603.1 898,1611.8 900,1620 902,1627.8 904,1635.2 906,1642.2 908,1648.8 910,1655 912,1660.9 914,1666.3 916,1671.5 918,1676.2 920,1680.6 922,1684.7 924,1688.5 926,1692 928,1695.3 930,1698.2 932,1701 934,1703.5 936,1705.8 938,1707.9 940,1709.8 942,1711.6 944,1713.2 946,1714.6 948,1715.9 950,1717.1 952,1718.2 954,1719.2 956,1720.1 958,1720.9 960,1721.6 962,1722.2 964,1722.8 966,1723.3 968,1723.7 970,1724.1 972,1724.5 974,1724.8 976,1725.1 978,1725.4 980,1725.6 982,1725.8 984,1726 986,1726.1 988,1726.3 990,1726.4 992,1726.5 994,1726.6 996,1726.7 998,1726.8 1000,1726.8 1002,1726.9 1004,1727 1006,1727 1008,1727.1 1010,1727.1 1012,1727.2 1014,1727.2 1016,1727.2 1018,1727.3 1020,1727.3 1022,1727.3 1024,1727.3 1026,1727.4 1028,1727.4 1030,1727.4 1032,1727.4 1034,1727.4 1036,1727.4 1038,1727.5 1040,1727.5 1042,1727.5" fill="none" stroke="#ff0000" stroke-width="5" stroke-linejoin="round" stroke-linecap="butt" />
<polyline points="210,1497.6 212,1497.6 214,1497.7 216,1497.7 218,1497.8 220,1497.8 222,1497.7 224,1497.7 226,1497.6 228,1497.5 230,1497.4 232,1497.3 234,1497.1 236,1496.8 238,1496.5 240,1496.2 242,1495.8 244,1495.4 246,1494.9 248,1494.3 250,1493.7 252,1493 254,1492.1 256,1491.2 258,1490.2 260,1489.1 262,1487.8 264,1486.4 266,1484.9 268,1483.2 270,1481.3 272,1479.3 274,1477.2 276,1474.8 278,1472.3 280,1469.6 282,1466.7 284,1463.6 286,1460.3 288,1456.8 290,1453 292,1449.1 294,1445 296,1440.6 298,1436 300,1431.3 302,1426.3 304,1421.2 306,1415.9 308,1410.5 310,1404.9 312,1399.2 314,1393.3 316,1387.4 318,1381.5 320,1375.5 322,1369.4 324,1363.4 326,1357.4 328,1351.4 330,1345.6 332,1339.8 334,1334.2 336,1328.8 338,1323.5 340,1318.5 342,1313.8 344,1309.4 346,1305.3 348,1301.6 350,1298.3 352,1295.3 354,1292.8 356,1290.7 358,1289.1 360,1288 362,1287.4 364,1287.2 366,1287.6 368,1288.4 370,1289.8 372,1291.6 374,1294 376,1296.8 378,1300.1 380,1303.9 382,1308 384,1312.7 386,1317.7 388,1323.1 390,1328.8 392,1334.8 394,1341.1 396,1347.7 398,1354.5 400,1361.4 402,1368.5 404,1375.8 406,1383.1 408,1390.4 410,1397.8 412,1405.2 414,1412.5 416,1419.8 418,1427.1 420,1434.2 422,1441.2 424,1448.1 426,1454.9 428,1461.4 430,1467.8 432,1473.9 434,1479.9 436,1485.6 438,1491.1 440,1496.3 442,1501.3 444,1506.1 446,1510.6 448,1514.9 450,1518.9 452,1522.8 454,1526.4 456,1529.7 458,1532.9 460,1535.8 462,1538.6 464,1541.2 466,1543.5 468,1545.7 470,1547.8 472,1549.6 474,1551.4 476,1552.9 478,1554.4 480,1555.7 482,1556.9 484,1558.1 486,1559.1 488,1560 490,1560.8 492,1561.5 494,1562.2 496,1562.8 498,1563.3 500,1563.8 502,1564.3 504,1564.6 506,1565 508,1565.3 510,1565.6 512,1565.8 514,1566 516,1566.2 518,1566.4 520,1566.6 522,1566.7 524,1566.9" fill="none" stroke="#00ff00" stroke-width="5" stroke-linejoin="round" stroke-linecap="butt" />
<polyline points="556,1567.7 558,1567.7 560,1567.7 562,1567.6 564,1567.6 566,1567.6 568,1567.5 570,1567.4 572,1567.3 574,1567.2 576,1567.1 578,1566.9 580,1566.7 582,1566.5 584,1566.2 586,1565.9 588,1565.5 590,1565.1 592,1564.7 594,1564.2 596,1563.6 598,1563 600,1562.3 602,1561.6 604,1560.8 606,1559.9 608,1559 610,1558 612,1556.9 614,1555.7 616,1554.4 618,1553 620,1551.6 622,1550 624,1548.3 626,1546.5 628,1544.6 630,1542.7 632,1540.6 634,1538.4 636,1536.1 638,1533.7 640,1531.2 642,1528.7 644,1526 646,1523.3 648,1520.5 650,1517.7 652,1514.8 654,1511.8 656,1508.9 658,1505.9 660,1502.9 662,1499.9 664,1496.9 666,1494 668,1491 670,1488.1 672,1485.3 674,1482.5 676,1479.9 678,1477.3 680,1474.8 682,1472.4 684,1470.2 686,1468.1 688,1466.2 690,1464.5 692,1462.9 694,1461.5 696,1460.4 698,1459.4 700,1458.7 702,1458.2 704,1457.9 706,1457.9 708,1458.2 710,1458.8 712,1459.6 714,1460.7 716,1462.1 718,1463.8 720,1465.8 722,1468 724,1470.5 726,1473.3 728,1476.2 730,1479.4 732,1482.8 734,1486.3 736,1490.1 738,1493.9 740,1497.9 742,1502.1 744,1506.3 746,1510.7 748,1515.1 750,1519.7 752,1524.2 754,1528.9 756,1533.6 758,1538.3 760,1543.1 762,1547.9 764,1552.7 766,1557.6 768,1562.4 770,1567.2 772,1571.9 774,1576.7 776,1581.3 778,1586 780,1590.5 782,1595 784,1599.4 786,1603.7 788,1607.9 790,1612.1 792,1616.1 794,1620.1 796,1624 798,1627.8 800,1631.5 802,1635.1 804,1638.6 806,1642 808,1645.4 810,1648.6 812,1651.8 814,1654.8 816,1657.8 818,1660.7 820,1663.5 822,1666.2 824,1668.8 826,1671.4 828,1673.8 830,1676.2 832,1678.5 834,1680.7 836,1682.9 838,1685 840,1687.1 842,1689.1 844,1691 846,1692.9 848,1694.7 850,1696.5 852,1698.2 854,1699.8 856,1701.4 858,1702.9 860,1704.4 862,1705.8 864,1707.1 866,1708.4" fill="none" stroke="#0000ff" stroke-width="5" stroke-linejoin="round" stroke-linecap="butt" />
<polyline points="116,1494.5 118,1494.6 120,1494.6 122,1494.6 124,1494.6 126,1494.6 128,1494.6 130,1494.6 132,1494.5 134,1494.5 136,1494.5 138,1494.5 140,1494.5 142,1494.5 144,1494.5 146,1494.4 148,1494.4 150,1494.4 152,1494.3 154,1494.3 156,1494.2 158,1494.2 160,1494.1 162,1494.1 164,1494 166,1493.9 168,1493.8 170,1493.7 172,1493.6 174,1493.5 176,1493.4 178,1493.2 180,1493.1 182,1492.9 184,1492.6 186,1492.4 188,1492.1 190,1491.8 192,1491.5 194,1491.1 196,1490.7 198,1490.3 200,1489.8 202,1489.3 204,1488.7 206,1488 208,1487.4 210,1486.6 212,1485.8 214,1485 216,1484 218,1483.1 220,1482 222,1480.9 224,1479.8 226,1478.5 228,1477.2 230,1475.9 232,1474.5 234,1473.1 236,1471.6 238,1470 240,1468.5 242,1466.9 244,1465.2 246,1463.6 248,1462 250,1460.3 252,1458.7 254,1457.1 256,1455.5 258,1453.9 260,1452.4 262,1451 264,1449.6 266,1448.2 268,1447 270,1445.9 272,1444.8 274,1443.9 276,1443.1 278,1442.5 280,1442 282,1441.7 284,1441.5 286,1441.5 288,1441.7 290,1442.1 292,1442.6 294,1443.3 296,1444.2 298,1445.2 300,1446.4 302,1447.8 304,1449.4 306,1451.1 308,1452.9 310,1454.9 312,1457 314,1459.2 316,1461.5 318,1463.9 320,1466.4 322,1468.9 324,1471.5 326,1474.2 328,1476.9 330,1479.5 332,1482.2 334,1485 336,1487.7 338,1490.4 340,1493 342,1495.7 344,1498.3 346,1500.9 348,1503.5 350,1506 352,1508.4 354,1510.9 356,1513.2 358,1515.5 360,1517.7 362,1519.9 364,1522 366,1524 368,1526 370,1527.9 372,1529.7 374,1531.4 376,1533.1 378,1534.8 380,1536.3 382,1537.8 384,1539.3 386,1540.7 388,1542 390,1543.3 392,1544.6 394,1545.7 396,1546.9 398,1548 400,1549 402,1549.9 404,1550.9 406,1551.7 408,1552.5 410,1553.3 412,1554.1 414,1554.7 416,1555.4 418,1556.1 420,1556.7 422,1557.3 424,1557.8 426,1558.3 428,1558.9 430,1559.3 432,1559.8 434,1560.2 436,1560.6 438,1561 440,1561.4 442,1561.7 444,1562 446,1562.3 448,1562.6 450,1562.9 452,1563.1 454,1563.4 456,1563.6 458,1563.8 460,1564 462,1564.2 464,1564.4" fill="none" stroke="#00ffff" stroke-width="5" stroke-linejoin="round" stroke-linecap="butt" />
<polyline points="104,1495.2 106,1495.3 108,1495.3 110,1495.3 112,1495.3 114,1495.3 116,1495.4 118,1495.4 120,1495.4 122,1495.4 124,1495.4 126,1495.5 128,1495.5 130,1495.5 132,1495.5 134,1495.6 136,1495.6 138,1495.6 140,1495.6 142,1495.7 144,1495.7 146,1495.7 148,1495.7 150,1495.8 152,1495.8 154,1495.8 156,1495.8 158,1495.9 160,1495.9 162,1496 164,1496 166,1496 168,1496.1 170,1496.2 172,1496.2 174,1496.3 176,1496.4 178,1496.5 180,1496.6 182,1496.7 184,1496.8 186,1496.9 188,1497 190,1497.1 192,1497.2 194,1497.3 196,1497.4 198,1497.6 200,1497.7 202,1497.8 204,1498 206,1498.1 208,1498.3 210,1498.4 212,1498.6 214,1498.7 216,1498.9 218,1499 220,1499.2 222,1499.3 224,1499.5 226,1499.7 228,1499.8 230,1500 232,1500.2 234,1500.3 236,1500.5 238,1500.7 240,1500.9 242,1501.1 244,1501.3 246,1501.5 248,1501.7 250,1502 252,1502.2 254,1502.5 256,1502.7 258,1503 260,1503.3 262,1503.6 264,1503.9 266,1504.2 268,1504.5 270,1504.9 272,1505.2 274,1505.6 276,1505.9 278,1506.3 280,1506.7 282,1507.2 284,1507.6 286,1508.1 288,1508.5 290,1509 292,1509.5 294,1510 296,1510.5 298,1511 300,1511.6 302,1512.2 304,1512.7 306,1513.3 308,1514 310,1514.6 312,1515.3 314,1516 316,1516.7 318,1517.5 320,1518.2 322,1519 324,1519.8 326,1520.6 328,1521.4 330,1522.2 332,1523 334,1523.8 336,1524.7 338,1525.5 340,1526.4 342,1527.3 344,1528.2 346,1529.1 348,1530 350,1530.9 352,1531.8 354,1532.8 356,1533.7 358,1534.6 360,1535.6 362,1536.5 364,1537.4 366,1538.3 368,1539.3 370,1540.2 372,1541.1 374,1542 376,1542.8 378,1543.7 380,1544.6 382,1545.5 384,1546.3 386,1547.1 388,1548 390,1548.8 392,1549.6 394,1550.4 396,1551.2 398,1551.9 400,1552.6 402,1553.3 404,1554 406,1554.6 408,1555.3 410,1555.8 412,1556.4 414,1557 416,1557.5 418,1558 420,1558.5 422,1559 424,1559.5 426,1559.9 428,1560.3 430,1560.8 432,1561.2 434,1561.5 436,1561.9 438,1562.2 440,1562.5 442,1562.8 444,1563.1 446,1563.4 448,1563.6 450,1563.9 452,1564.1 454,1564.3 456,1564.5 458,1564.7 460,1564.9 462,1565.1 464,1565.2 466,1565.4 468,1565.6 470,1565.7 472,1565.8 474,1566 476,1566.1 478,1566.2 480,1566.3 482,1566.5 484,1566.6 486,1566.7 488,1566.8 490,1566.9 492,1566.9 494,1567 496,1567.1 498,1567.1 500,1567.2 502,1567.2 504,1567.3 506,1567.3 508,1567.4 510,1567.4 512,1567.5 514,1567.5 516,1567.6 518,1567.6 520,1567.6 522,1567.7 524,1567.7 526,1567.8 528,1567.8 530,1567.9 532,1567.9 534,1567.9 536,1568 538,1568 540,1568.1 542,1568.1 544,1568.2 546,1568.2 548,1568.3 550,1568.4 552,1568.4 554,1568.5 556,1568.6 558,1568.7 560,1568.8 562,1568.9 564,1569.1 566,1569.2 568,1569.4 570,1569.6 572,1569.7 574,1569.9 576,1570.1 578,1570.3 580,1570.5 582,1570.7 584,1570.9 586,1571.1 588,1571.3 590,1571.6 592,1571.8 594,1572 596,1572.3 598,1572.6 600,1572.8 602,1573.1 604,1573.4 606,1573.8 608,1574.1 610,1574.4 612,1574.8 614,1575.1 616,1575.5 618,1575.9 620,1576.2 622,1576.6 624,1577 626,1577.4 628,1577.7 630,1578.1 632,1578.5 634,1578.9 636,1579.2 638,1579.6 640,1580 642,1580.4 644,1580.8 646,1581.2 648,1581.6 650,1582 652,1582.4 654,1582.9 656,1583.3 658,1583.8 660,1584.2 662,1584.7 664,1585.2 666,1585.6 668,1586.1 670,1586.6 672,1587.1 674,1587.6 676,1588.1 678,1588.6 680,1589.1 682,1589.6 684,1590.1 686,1590.6 688,1591.1 690,1591.6 692,1592.1 694,1592.6 696,1593.1 698,1593.6 700,1594.1 702,1594.7 704,1595.3 706,1595.9 708,1596.5 710,1597.2 712,1597.9 714,1598.6 716,1599.5 718,1600.4 720,1601.3 722,1602.3 724,1603.3 726,1604.4 728,1605.5 730,1606.6 732,1607.8 734,1609 736,1610.1 738,1611.3 740,1612.5 742,1613.7 744,1614.9 746,1616.1 748,1617.4 750,1618.6 752,1619.9 754,1621.1 756,1622.4 758,1623.7 760,1625.1 762,1626.5 764,1627.9 766,1629.3 768,1630.8 770,1632.3 772,1633.8 774,1635.3 776,1636.9 778,1638.5 780,1640.1 782,1641.7 784,1643.3 786,1645 788,1646.6 790,1648.3 792,1650 794,1651.6 796,1653.4 798,1655.1 800,1656.8 802,1658.6 804,1660.3 806,1662.1 808,1663.9 810,1665.7 812,1667.4 814,1669.2 816,1671 818,1672.7 820,1674.5 822,1676.2 824,1677.9 826,1679.6 828,1681.3 830,1683 832,1684.6 834,1686.3 836,1687.9 838,1689.5 840,1691.1 842,1692.7 844,1694.2 846,1695.8 848,1697.3 850,1698.8 852,1700.2 854,1701.6 856,1703 858,1704.3 860,1705.6 862,1706.9 864,1708.1 866,1709.2 868,1710.4 870,1711.5 872,1712.6 874,1713.7 876,1714.7 878,1715.7 880,1716.6 882,1717.6 884,1718.4 886,1719.2 888,1720 890,1720.7 892,1721.3 894,1721.9 896,1722.5 898,1723 900,1723.5 902,1723.9 904,1724.4 906,1724.8 908,1725.1 910,1725.5 912,1725.8 914,1726.1 916,1726.4 918,1726.7 920,1726.9 922,1727.1 924,1727.3 926,1727.4 928,1727.5 930,1727.6 932,1727.7 934,1727.8 936,1727.9 938,1727.9 940,1728 942,1728 944,1728.1 946,1728.1 948,1728.2 950,1728.2 952,1728.2 954,1728.2 956,1728.3 958,1728.3 960,1728.3 962,1728.3 964,1728.3 966,1728.3 968,1728.3 970,1728.3 972,1728.3 974,1728.3 976,1728.3 978,1728.3 980,1728.3 982,1728.3 984,1728.3 986,1728.3 988,1728.3 990,1728.3 992,1728.3 994,1728.3 996,1728.3 998,1728.3 1000,1728.3 1002,1728.3 1004,1728.3 1006,1728.3 1008,1728.3 1010,1728.3 1012,1728.3 1014,1728.3 1016,1728.3 1018,1728.3 1020,1728.3 1022,1728.3 1024,1728.3 1026,1728.3 1028,1728.3 1030,1728.3 1032,1728.3 1034,1728.3 1036,1728.3 1038,1728.3 1040,1728.3 1042,1728.3 1044,1728.3 1046,1728.3 1048,1728.3 1050,1728.3 1052,1728.3 1054,1728.3 1056,1728.3 1058,1728.3 1060,1728.3 1062,1728.3 1064,1728.3 1066,1728.3" fill="none" stroke="#b9b9b9" stroke-width="5.2" stroke-linejoin="round" stroke-linecap="butt" />
<polyline points="104,1494.3 106,1494.3 108,1494.3 110,1494.3 112,1494.3 114,1494.3 116,1494.3 118,1494.3 120,1494.3 122,1494.3 124,1494.3 126,1494.3 128,1494.3 130,1494.3 132,1494.3 134,1494.3 136,1494.3 138,1494.2 140,1494.2 142,1494.2 144,1494.2 146,1494.2 148,1494.1 150,1494.1 152,1494 154,1494 156,1493.9 158,1493.9 160,1493.8 162,1493.7 164,1493.7 166,1493.6 168,1493.5 170,1493.4 172,1493.3 174,1493.1 176,1493 178,1492.8 180,1492.6 182,1492.4 184,1492.2 186,1492 188,1491.7 190,1491.4 192,1491 194,1490.6 196,1490.2 198,1489.7 200,1489.1 202,1488.6 204,1487.9 206,1487.2 208,1486.5 210,1485.6 212,1484.8 214,1483.8 216,1482.8 218,1481.6 220,1480.5 222,1479.2 224,1477.8 226,1476.4 228,1474.8 230,1473.2 232,1471.5 234,1469.6 236,1467.7 238,1465.7 240,1463.7 242,1461.5 244,1459.2 246,1456.9 248,1454.4 250,1451.9 252,1449.3 254,1446.6 256,1443.8 258,1441 260,1438 262,1435 264,1431.9 266,1428.7 268,1425.5 270,1422.2 272,1418.8 274,1415.4 276,1411.9 278,1408.3 280,1404.7 282,1401 284,1397.3 286,1393.6 288,1389.8 290,1385.9 292,1382 294,1378.1 296,1374.1 298,1370 300,1365.9 302,1361.8 304,1357.6 306,1353.4 308,1349.2 310,1344.9 312,1340.6 314,1336.3 316,1332 318,1327.7 320,1323.5 322,1319.2 324,1315 326,1310.8 328,1306.7 330,1302.7 332,1298.8 334,1295.1 336,1291.5 338,1288.1 340,1285 342,1282 344,1279.3 346,1277 348,1274.9 350,1273.1 352,1271.7 354,1270.7 356,1270 358,1269.8 360,1269.9 362,1270.5 364,1271.5 366,1273 368,1274.9 370,1277.2 372,1280 374,1283.2 376,1286.8 378,1290.9 380,1295.3 382,1300.2 384,1305.4 386,1311 388,1316.8 390,1323 392,1329.5 394,1336.2 396,1343.1 398,1350.2 400,1357.5 402,1364.9 404,1372.3 406,1379.9 408,1387.4 410,1395 412,1402.5 414,1410 416,1417.5 418,1424.8 420,1432.1 422,1439.2 424,1446.2 426,1453 428,1459.6 430,1466 432,1472.3 434,1478.3 436,1484 438,1489.5 440,1494.8 442,1499.9 444,1504.7 446,1509.2 448,1513.5 450,1517.6 452,1521.5 454,1525.1 456,1528.5 458,1531.6 460,1534.6 462,1537.4 464,1540 466,1542.4 468,1544.6 470,1546.6 472,1548.5 474,1550.2 476,1551.8 478,1553.3 480,1554.6 482,1555.9 484,1557 486,1558 488,1558.9 490,1559.7 492,1560.5 494,1561.2 496,1561.8 498,1562.3 500,1562.8 502,1563.2 504,1563.6 506,1563.9 508,1564.3 510,1564.5 512,1564.8 514,1565 516,1565.2 518,1565.4 520,1565.5 522,1565.7 524,1565.8 526,1565.9 528,1566 530,1566.1 532,1566.2 534,1566.2 536,1566.3 538,1566.3 540,1566.3 542,1566.4 544,1566.4 546,1566.4 548,1566.4 550,1566.4 552,1566.4 554,1566.4 556,1566.4 558,1566.4 560,1566.3 562,1566.3 564,1566.3 566,1566.2 568,1566.2 570,1566.1 572,1566 574,1565.9 576,1565.8 578,1565.6 580,1565.4 582,1565.1 584,1564.8 586,1564.5 588,1564.1 590,1563.7 592,1563.3 594,1562.7 596,1562.2 598,1561.5 600,1560.8 602,1560.1 604,1559.3 606,1558.4 608,1557.4 610,1556.4 612,1555.2 614,1554 616,1552.7 618,1551.2 620,1549.7 622,1548.1 624,1546.3 626,1544.4 628,1542.5 630,1540.4 632,1538.2 634,1535.8 636,1533.4 638,1530.8 640,1528.1 642,1525.4 644,1522.5 646,1519.5 648,1516.4 650,1513.2 652,1509.9 654,1506.5 656,1503.1 658,1499.6 660,1496 662,1492.3 664,1488.6 666,1484.8 668,1481 670,1477.1 672,1473.1 674,1469.1 676,1465.1 678,1461.1 680,1457 682,1452.8 684,1448.7 686,1444.5 688,1440.3 690,1436.1 692,1431.8 694,1427.5 696,1423.2 698,1418.8 700,1414.4 702,1410 704,1405.5 706,1401 708,1396.5 710,1391.9 712,1387.2 714,1382.5 716,1377.7 718,1372.9 720,1368 722,1362.9 724,1357.8 726,1352.5 728,1347 730,1341.4 732,1335.6 734,1329.7 736,1323.5 738,1317.1 740,1310.6 742,1303.8 744,1296.8 746,1289.7 748,1282.3 750,1274.8 752,1267.1 754,1259.4 756,1251.5 758,1243.5 760,1235.4 762,1227.4 764,1219.3 766,1211.3 768,1203.4 770,1195.5 772,1187.8 774,1180.3 776,1173 778,1165.9 780,1159.1 782,1152.6 784,1146.5 786,1140.9 788,1135.7 790,1130.9 792,1126.8 794,1123.2 796,1120.2 798,1117.8 800,1116.2 802,1115.2 804,1115 806,1115.5 808,1116.7 810,1118.8 812,1121.6 814,1125.2 816,1129.6 818,1134.9 820,1140.9 822,1147.7 824,1155.2 826,1163.5 828,1172.5 830,1182.2 832,1192.6 834,1203.5 836,1215 838,1227.1 840,1239.6 842,1252.6 844,1265.9 846,1279.6 848,1293.6 850,1307.8 852,1322.2 854,1336.7 856,1351.3 858,1365.9 860,1380.6 862,1395.1 864,1409.6 866,1423.9 868,1438.1 870,1452 872,1465.8 874,1479.2 876,1492.4 878,1505.3 880,1517.8 882,1529.9 884,1541.6 886,1552.9 888,1563.8 890,1574.2 892,1584.3 894,1593.8 896,1602.9 898,1611.6 900,1619.8 902,1627.7 904,1635.1 906,1642.1 908,1648.7 910,1654.9 912,1660.8 914,1666.2 916,1671.3 918,1676.1 920,1680.5 922,1684.6 924,1688.4 926,1691.9 928,1695.2 930,1698.1 932,1700.9 934,1703.4 936,1705.7 938,1707.8 940,1709.7 942,1711.5 944,1713.1 946,1714.5 948,1715.9 950,1717.1 952,1718.1 954,1719.1 956,1720 958,1720.8 960,1721.5 962,1722.1 964,1722.7 966,1723.2 968,1723.6 970,1724 972,1724.4 974,1724.7 976,1725 978,1725.3 980,1725.5 982,1725.7 984,1725.9 986,1726 988,1726.2 990,1726.3 992,1726.4 994,1726.5 996,1726.6 998,1726.7 1000,1726.8 1002,1726.8 1004,1726.9 1006,1727 1008,1727 1010,1727 1012,1727.1 1014,1727.1 1016,1727.1 1018,1727.2 1020,1727.2 1022,1727.2 1024,1727.3 1026,1727.3 1028,1727.3 1030,1727.3 1032,1727.3 1034,1727.4 1036,1727.4 1038,1727.4 1040,1727.4 1042,1727.4 1044,1727.4 1046,1727.5 1048,1727.5 1050,1727.5 1052,1727.5 1054,1727.5 1056,1727.5 1058,1727.5 1060,1727.5 1062,1727.6 1064,1727.6 1066,1727.6" fill="none" stroke="#ff00ff" stroke-width="5.7" stroke-linejoin="round" stroke-linecap="butt" />
<rect x="104" y="1006.9" width="963.2" height="816.4" fill="none" stroke="#000" stroke-width="6"/>
<line x1="104" y1="1823.3" x2="104" y2="1839.3" stroke="#000000" stroke-width="5.5" stroke-linecap="butt"/>
<text transform="translate(104 1881.7) scale(1 1.055)" font-family='"Liberation Sans", Arial, Helvetica, sans-serif' font-weight="bold" font-size="42.2" fill="#000000" text-anchor="middle" >660</text>
<line x1="296.6" y1="1823.3" x2="296.6" y2="1839.3" stroke="#000000" stroke-width="5.5" stroke-linecap="butt"/>
<text transform="translate(296.6 1881.7) scale(1 1.055)" font-family='"Liberation Sans", Arial, Helvetica, sans-serif' font-weight="bold" font-size="42.2" fill="#000000" text-anchor="middle" >655</text>
<line x1="489.3" y1="1823.3" x2="489.3" y2="1839.3" stroke="#000000" stroke-width="5.5" stroke-linecap="butt"/>
<text transform="translate(489.3 1881.7) scale(1 1.055)" font-family='"Liberation Sans", Arial, Helvetica, sans-serif' font-weight="bold" font-size="42.2" fill="#000000" text-anchor="middle" >650</text>
<line x1="681.9" y1="1823.3" x2="681.9" y2="1839.3" stroke="#000000" stroke-width="5.5" stroke-linecap="butt"/>
<text transform="translate(681.9 1881.7) scale(1 1.055)" font-family='"Liberation Sans", Arial, Helvetica, sans-serif' font-weight="bold" font-size="42.2" fill="#000000" text-anchor="middle" >645</text>
<line x1="874.6" y1="1823.3" x2="874.6" y2="1839.3" stroke="#000000" stroke-width="5.5" stroke-linecap="butt"/>
<text transform="translate(874.6 1881.7) scale(1 1.055)" font-family='"Liberation Sans", Arial, Helvetica, sans-serif' font-weight="bold" font-size="42.2" fill="#000000" text-anchor="middle" >640</text>
<line x1="1067.2" y1="1823.3" x2="1067.2" y2="1839.3" stroke="#000000" stroke-width="5.5" stroke-linecap="butt"/>
<text transform="translate(1067.2 1881.7) scale(1 1.055)" font-family='"Liberation Sans", Arial, Helvetica, sans-serif' font-weight="bold" font-size="42.2" fill="#000000" text-anchor="middle" >635</text>
<line x1="200.3" y1="1823.3" x2="200.3" y2="1832.8" stroke="#000000" stroke-width="5.5" stroke-linecap="butt"/>
<line x1="393" y1="1823.3" x2="393" y2="1832.8" stroke="#000000" stroke-width="5.5" stroke-linecap="butt"/>
<line x1="585.6" y1="1823.3" x2="585.6" y2="1832.8" stroke="#000000" stroke-width="5.5" stroke-linecap="butt"/>
<line x1="778.2" y1="1823.3" x2="778.2" y2="1832.8" stroke="#000000" stroke-width="5.5" stroke-linecap="butt"/>
<line x1="970.9" y1="1823.3" x2="970.9" y2="1832.8" stroke="#000000" stroke-width="5.5" stroke-linecap="butt"/>
<text transform="translate(585.6 1928) scale(1 1.04)" font-family='"Liberation Sans", Arial, Helvetica, sans-serif' font-weight="bold" font-size="57" fill="#000000" text-anchor="middle" >Binding energy (eV)</text>
<text transform="translate(82.4 1414.3) rotate(-90) scale(1 1.035)" font-family='"Liberation Sans", Arial, Helvetica, sans-serif' font-weight="bold" font-size="56.9" fill="#000000" text-anchor="middle" >Intensity (a.u.)</text>
<text transform="translate(125.8 1072.2) scale(1 1.055)" font-family='"Liberation Sans", Arial, Helvetica, sans-serif' font-weight="bold" font-size="55.5" fill="#000000" text-anchor="start" >Mn 2p</text>
<text transform="translate(1058 1056.8) scale(1.06 1)" font-family='"Liberation Serif", "Times New Roman", serif' font-weight="bold" font-size="57.2" fill="#000000" text-anchor="end" >(c)</text>
<text transform="translate(748.5 1091.5) scale(1 1.055)" font-family='"Liberation Sans", Arial, Helvetica, sans-serif' font-weight="bold" font-size="50" fill="#ff0000" text-anchor="start" >Mn 2p<tspan font-size="27.3" dy="19.8">3/2</tspan></text>
<text transform="translate(283.3 1247.4) scale(1 1.055)" font-family='"Liberation Sans", Arial, Helvetica, sans-serif' font-weight="bold" font-size="50" fill="#00ff00" text-anchor="start" >Mn 2p<tspan font-size="27.3" dy="19.8">1/2</tspan></text>
<text transform="translate(258.2 1438.5) rotate(-90) scale(1 1.02)" font-family='"Liberation Sans", Arial, Helvetica, sans-serif' font-weight="bold" font-size="50.4" fill="#00ffff" text-anchor="start" >Satellite</text>
<text transform="translate(675.5 1462) rotate(-90) scale(1 1.02)" font-family='"Liberation Sans", Arial, Helvetica, sans-serif' font-weight="bold" font-size="50.4" fill="#0000ff" text-anchor="start" >Satellite</text>
<polyline points="1204,1543.4 1211.5,1486.5 1216.6,1571.8 1221.4,1464 1226.5,1694.7 1232.4,1591.3 1236.9,1589.8 1239.9,1609.3 1245.9,1622.8 1250.4,1514.9 1255.8,1613.8 1262.4,1510.4 1269.9,1437 1274.4,1592.8 1279.8,1458 1283.4,1547.9 1289.4,1426.5 1293.9,1471.5 1298.4,1471.5 1303.4,1449 1307.3,1583.8 1313.3,1492.5 1317.8,1555.4 1323.2,1522.4 1332.2,1618.3 1337.3,1538.9 1341.8,1565.8 1347.8,1549.4 1351.7,1395.1 1357.4,1488 1361.3,1485 1366.4,1537.4 1371.2,1489.5 1375.6,1586.8 1380.7,1508.9 1385.2,1505.9 1391.2,1576.3 1395.1,1523.9 1400.2,1615.3 1404.7,1552.4 1409.2,1438.5 1415.2,1464 1424.2,1613.8 1431.7,1498.4 1438.3,1315.7 1443.7,1423.5 1452.6,1336.7 1463.1,1480.5 1473,1327.7 1482,1458 1492.5,1302.2 1497.6,1309.7 1501.2,1399.6 1506.6,1381.6 1515.6,1153.9 1521.5,1365.1 1525.4,1330.7 1529.9,1156.9 1535,1309.7 1540.1,1339.7 1544.9,1155.4 1550,1372.6 1554.5,1386.1 1561.1,1258.8 1568.9,1438.5 1577.9,1365.1 1583,1431 1588.3,1449 1597.9,1381.6 1603,1523.9 1607.8,1532.9 1612.9,1517.9 1617.4,1431 1623.4,1431 1631.8,1574.8 1637.8,1505.9 1642,1538.9 1645.9,1525.4 1651.3,1422 1660.8,1544.9 1665.3,1531.4 1670.7,1440 1675.2,1482 1679.7,1479 1684.2,1483.5 1688.7,1465.5 1691.1,1463.9 1694.2,1459.2 1699,1438.6 1703.7,1460.8 1709.1,1422.8 1714.2,1511.4 1718.6,1403.8 1723.7,1293 1729.1,1372.2 1735.4,1386.4 1743.3,1353.2 1747.4,1372.2 1752.8,1277.2 1757.5,1217.1 1762.9,1304.1 1768,1297.8 1771.8,1201.3 1776.5,1280.4 1781.3,1164.9 1786.6,1234.5 1791.4,1191.8 1797.7,1144.3 1805.9,1193.4 1811.3,1119 1815.4,1112.7 1820.8,1134.8 1824.9,1157 1830.3,1134.8 1834.4,1180.7 1839.8,1112.7 1843.9,1210.8 1850.3,1169.6 1857.2,1294.6 1863.5,1470.3 1869.2,1286.7 1873.7,1369 1882.5,1419.6 1887.3,1495.6 1892.7,1596.8 1898.4,1443.4 1906.3,1565.2 1912.6,1565.2 1917.3,1520.9 1922.1,1566.8 1926.8,1566.8 1931.6,1524.1 1935.7,1538.3 1941.1,1528.8 1947.4,1593.7 1950.6,1702.8 1955.3,1706 1964.8,1592.1 1969.6,1732.9 1974.9,1615.8 1979.7,1652.2 1984.4,1731.3 1989.5,1658.5 1993.3,1674.4 1998,1653.8 2002.8,1653.8 2008.5,1607.9 2018.6,1672.8 2027.5,1672.8 2032.8,1753.5 2037,1639.6 2042.3,1691.8 2047.1,1650.6 2051.8,1544.6 2058.2,1663.3 2062.9,1685.4 2066.7,1587.3 2071.8,1622.2 2075.6,1720.3 2080.3,1606.3 2085.7,1554.1 2090.4,1634.8 2095.5,1759.8 2100.3,1715.5 2105.6,1717.1 2109.7,1687 2114.2,1769.3 2124.6,1650.6 2128.7,1691.8 2134.1,1644.3 2138.9,1558.9 2144.6,1690.2 2152.5,1634.8 2157.8,1742.4 2162.6,1563.6 2165.8,1634.8" fill="none" stroke="#000000" stroke-width="5.2" stroke-linejoin="round" stroke-linecap="butt" />
<polyline points="1496.8,1599.5 1498.8,1599.8 1500.8,1600.1 1502.8,1600.5 1504.8,1600.8 1506.8,1601.2 1508.8,1601.6 1510.8,1601.9 1512.8,1602.3 1514.8,1602.7 1516.8,1603.1 1518.8,1603.4 1520.8,1603.8 1522.8,1604.2 1524.8,1604.6 1526.8,1605 1528.8,1605.4 1530.8,1605.8 1532.8,1606.1 1534.8,1606.5 1536.8,1606.9 1538.8,1607.3 1540.8,1607.6 1542.8,1608 1544.8,1608.3 1546.8,1608.7 1548.8,1609 1550.8,1609.3 1552.8,1609.6 1554.8,1609.9 1556.8,1610.2 1558.8,1610.5 1560.8,1610.8 1562.8,1611 1564.8,1611.3 1566.8,1611.5 1568.8,1611.7 1570.8,1611.9 1572.8,1612.2 1574.8,1612.3 1576.8,1612.5 1578.8,1612.7 1580.8,1612.9 1582.8,1613 1584.8,1613.2 1586.8,1613.3 1588.8,1613.4 1590.8,1613.5 1592.8,1613.6 1594.8,1613.6 1596.8,1613.7 1598.8,1613.7 1600.8,1613.7 1602.8,1613.7 1604.8,1613.6 1606.8,1613.5 1608.8,1613.4 1610.8,1613.3 1612.8,1613.1 1614.8,1612.9 1616.8,1612.6 1618.8,1612.3 1620.8,1611.9 1622.8,1611.5 1624.8,1611 1626.8,1610.5 1628.8,1609.9 1630.8,1609.3 1632.8,1608.6 1634.8,1607.8 1636.8,1607 1638.8,1606 1640.8,1605 1642.8,1603.9 1644.8,1602.7 1646.8,1601.5 1648.8,1600.1 1650.8,1598.6 1652.8,1597 1654.8,1595.3 1656.8,1593.5 1658.8,1591.5 1660.8,1589.4 1662.8,1587.2 1664.8,1584.9 1666.8,1582.3 1668.8,1579.7 1670.8,1576.9 1672.8,1573.9 1674.8,1570.7 1676.8,1567.4 1678.8,1563.9 1680.8,1560.3 1682.8,1556.4 1684.8,1552.4 1686.8,1548.2 1688.8,1543.7 1690.8,1539.1 1692.8,1534.3 1694.8,1529.3 1696.8,1524.1 1698.8,1518.6 1700.8,1513 1702.8,1507.1 1704.8,1501.1 1706.8,1494.8 1708.8,1488.3 1710.8,1481.5 1712.8,1474.6 1714.8,1467.5 1716.8,1460.1 1718.8,1452.6 1720.8,1444.8 1722.8,1436.9 1724.8,1428.7 1726.8,1420.4 1728.8,1411.9 1730.8,1403.3 1732.8,1394.5 1734.8,1385.6 1736.8,1376.5 1738.8,1367.4 1740.8,1358.1 1742.8,1348.8 1744.8,1339.3 1746.8,1329.9 1748.8,1320.4 1750.8,1310.9 1752.8,1301.4 1754.8,1291.9 1756.8,1282.4 1758.8,1273.1" fill="none" stroke="#ff0000" stroke-width="5" stroke-linejoin="round" stroke-linecap="butt" />
<polyline points="1590.8,1395.3 1592.8,1404 1594.8,1412.6 1596.8,1421.1 1598.8,1429.5 1600.8,1437.7 1602.8,1445.8 1604.8,1453.7 1606.8,1461.5 1608.8,1469 1610.8,1476.4 1612.8,1483.6 1614.8,1490.6 1616.8,1497.4 1618.8,1503.9 1620.8,1510.3 1622.8,1516.4 1624.8,1522.3 1626.8,1528.1 1628.8,1533.5 1630.8,1538.8 1632.8,1543.9 1634.8,1548.7 1636.8,1553.4 1638.8,1557.8 1640.8,1562.1 1642.8,1566.1 1644.8,1570 1646.8,1573.7 1648.8,1577.2 1650.8,1580.5 1652.8,1583.6 1654.8,1586.6 1656.8,1589.4 1658.8,1592.1 1660.8,1594.7 1662.8,1597 1664.8,1599.3 1666.8,1601.5 1668.8,1603.5 1670.8,1605.4 1672.8,1607.2 1674.8,1608.9 1676.8,1610.5 1678.8,1612 1680.8,1613.5 1682.8,1614.8 1684.8,1616.1 1686.8,1617.4 1688.8,1618.6 1690.8,1619.7 1692.8,1620.8 1694.8,1621.8 1696.8,1622.8 1698.8,1623.8 1700.8,1624.7 1702.8,1625.6 1704.8,1626.4 1706.8,1627.3 1708.8,1628.1 1710.8,1628.8 1712.8,1629.6 1714.8,1630.3 1716.8,1631 1718.8,1631.7 1720.8,1632.4 1722.8,1633 1724.8,1633.6 1726.8,1634.2 1728.8,1634.8 1730.8,1635.4 1732.8,1636 1734.8,1636.6 1736.8,1637.1 1738.8,1637.7 1740.8,1638.2 1742.8,1638.7 1744.8,1639.2 1746.8,1639.8 1748.8,1640.3 1750.8,1640.8 1752.8,1641.3 1754.8,1641.8 1756.8,1642.3 1758.8,1642.8 1760.8,1643.3 1762.8,1643.9 1764.8,1644.4 1766.8,1644.9 1768.8,1645.5 1770.8,1646 1772.8,1646.6 1774.8,1647.1 1776.8,1647.7 1778.8,1648.3 1780.8,1648.9 1782.8,1649.6 1784.8,1650.2 1786.8,1650.8 1788.8,1651.5 1790.8,1652.1 1792.8,1652.8 1794.8,1653.4 1796.8,1654.1 1798.8,1654.8" fill="none" stroke="#00ff00" stroke-width="5" stroke-linejoin="round" stroke-linecap="butt" />
<polyline points="1202.8,1582.5 1204.8,1582.6 1206.8,1582.6 1208.8,1582.7 1210.8,1582.7 1212.8,1582.8 1214.8,1582.9 1216.8,1582.9 1218.8,1583 1220.8,1583.1 1222.8,1583.1 1224.8,1583.2 1226.8,1583.3 1228.8,1583.4 1230.8,1583.4 1232.8,1583.5 1234.8,1583.6 1236.8,1583.7 1238.8,1583.7 1240.8,1583.8 1242.8,1583.9 1244.8,1584 1246.8,1584.1 1248.8,1584.1 1250.8,1584.2 1252.8,1584.3 1254.8,1584.4 1256.8,1584.5 1258.8,1584.5 1260.8,1584.6 1262.8,1584.7 1264.8,1584.8 1266.8,1584.8 1268.8,1584.9 1270.8,1585 1272.8,1585.1 1274.8,1585.2 1276.8,1585.2 1278.8,1585.3 1280.8,1585.4 1282.8,1585.5 1284.8,1585.6 1286.8,1585.6 1288.8,1585.7 1290.8,1585.8 1292.8,1585.9 1294.8,1586 1296.8,1586.1 1298.8,1586.2 1300.8,1586.3 1302.8,1586.5 1304.8,1586.6 1306.8,1586.7 1308.8,1586.9 1310.8,1587 1312.8,1587.2 1314.8,1587.3 1316.8,1587.5 1318.8,1587.7 1320.8,1587.9 1322.8,1588.1 1324.8,1588.2 1326.8,1588.4 1328.8,1588.6 1330.8,1588.8 1332.8,1589 1334.8,1589.2 1336.8,1589.4 1338.8,1589.5 1340.8,1589.7 1342.8,1589.9 1344.8,1590 1346.8,1590.2 1348.8,1590.3 1350.8,1590.4 1352.8,1590.6 1354.8,1590.7 1356.8,1590.8 1358.8,1590.9 1360.8,1591 1362.8,1591.1 1364.8,1591.2 1366.8,1591.3 1368.8,1591.4 1370.8,1591.5 1372.8,1591.6 1374.8,1591.7 1376.8,1591.8 1378.8,1591.9 1380.8,1592 1382.8,1592 1384.8,1592.1 1386.8,1592.2 1388.8,1592.3 1390.8,1592.4 1392.8,1592.5 1394.8,1592.6 1396.8,1592.6 1398.8,1592.7 1400.8,1592.8 1402.8,1592.9 1404.8,1593 1406.8,1593.1 1408.8,1593.2 1410.8,1593.3 1412.8,1593.4 1414.8,1593.5 1416.8,1593.6 1418.8,1593.7 1420.8,1593.8 1422.8,1593.9 1424.8,1594 1426.8,1594.1 1428.8,1594.2 1430.8,1594.4 1432.8,1594.5 1434.8,1594.7 1436.8,1594.8 1438.8,1595 1440.8,1595.2 1442.8,1595.3 1444.8,1595.5 1446.8,1595.7 1448.8,1595.9 1450.8,1596.1 1452.8,1596.3 1454.8,1596.5 1456.8,1596.7 1458.8,1597 1460.8,1597.2 1462.8,1597.4 1464.8,1597.6 1466.8,1597.8 1468.8,1598.1 1470.8,1598.3 1472.8,1598.5 1474.8,1598.8 1476.8,1599 1478.8,1599.2 1480.8,1599.5 1482.8,1599.8 1484.8,1600 1486.8,1600.3 1488.8,1600.6 1490.8,1600.9 1492.8,1601.2 1494.8,1601.5 1496.8,1601.8 1498.8,1602.2 1500.8,1602.5 1502.8,1602.9 1504.8,1603.3 1506.8,1603.7 1508.8,1604.1 1510.8,1604.5 1512.8,1604.9 1514.8,1605.3 1516.8,1605.7 1518.8,1606.1 1520.8,1606.6 1522.8,1607 1524.8,1607.4 1526.8,1607.8 1528.8,1608.3 1530.8,1608.7 1532.8,1609.1 1534.8,1609.5 1536.8,1609.9 1538.8,1610.4 1540.8,1610.8 1542.8,1611.2 1544.8,1611.6 1546.8,1612 1548.8,1612.4 1550.8,1612.7 1552.8,1613.1 1554.8,1613.5 1556.8,1613.9 1558.8,1614.2 1560.8,1614.6 1562.8,1614.9 1564.8,1615.2 1566.8,1615.6 1568.8,1615.9 1570.8,1616.2 1572.8,1616.5 1574.8,1616.8 1576.8,1617.1 1578.8,1617.4 1580.8,1617.7 1582.8,1618 1584.8,1618.3 1586.8,1618.6 1588.8,1618.9 1590.8,1619.2 1592.8,1619.5 1594.8,1619.8 1596.8,1620.1 1598.8,1620.4 1600.8,1620.7 1602.8,1621 1604.8,1621.3 1606.8,1621.6 1608.8,1621.8 1610.8,1622.1 1612.8,1622.4 1614.8,1622.6 1616.8,1622.9 1618.8,1623.1 1620.8,1623.4 1622.8,1623.6 1624.8,1623.9 1626.8,1624.1 1628.8,1624.3 1630.8,1624.5 1632.8,1624.8 1634.8,1625 1636.8,1625.2 1638.8,1625.4 1640.8,1625.7 1642.8,1625.9 1644.8,1626.1 1646.8,1626.3 1648.8,1626.5 1650.8,1626.7 1652.8,1627 1654.8,1627.2 1656.8,1627.4 1658.8,1627.6 1660.8,1627.8 1662.8,1628.1 1664.8,1628.3 1666.8,1628.5 1668.8,1628.7 1670.8,1629 1672.8,1629.2 1674.8,1629.5 1676.8,1629.7 1678.8,1630 1680.8,1630.2 1682.8,1630.5 1684.8,1630.8 1686.8,1631.1 1688.8,1631.4 1690.8,1631.7 1692.8,1632 1694.8,1632.4 1696.8,1632.7 1698.8,1633.1 1700.8,1633.5 1702.8,1633.8 1704.8,1634.2 1706.8,1634.6 1708.8,1635 1710.8,1635.4 1712.8,1635.9 1714.8,1636.3 1716.8,1636.7 1718.8,1637.1 1720.8,1637.5 1722.8,1637.9 1724.8,1638.4 1726.8,1638.8 1728.8,1639.2 1730.8,1639.6 1732.8,1640.1 1734.8,1640.5 1736.8,1640.9 1738.8,1641.3 1740.8,1641.8 1742.8,1642.2 1744.8,1642.6 1746.8,1643 1748.8,1643.5 1750.8,1643.9 1752.8,1644.3 1754.8,1644.8 1756.8,1645.2 1758.8,1645.7 1760.8,1646.1 1762.8,1646.6 1764.8,1647.1 1766.8,1647.5 1768.8,1648 1770.8,1648.5 1772.8,1649.1 1774.8,1649.6 1776.8,1650.1 1778.8,1650.7 1780.8,1651.3 1782.8,1651.8 1784.8,1652.4 1786.8,1653 1788.8,1653.6 1790.8,1654.3 1792.8,1654.9 1794.8,1655.5 1796.8,1656.2 1798.8,1656.8 1800.8,1657.5 1802.8,1658.1 1804.8,1658.7 1806.8,1659.4 1808.8,1660 1810.8,1660.7 1812.8,1661.3 1814.8,1662 1816.8,1662.6 1818.8,1663.3 1820.8,1663.9 1822.8,1664.5 1824.8,1665.1 1826.8,1665.7 1828.8,1666.3 1830.8,1666.9 1832.8,1667.4 1834.8,1668 1836.8,1668.5 1838.8,1669 1840.8,1669.5 1842.8,1670 1844.8,1670.5 1846.8,1671 1848.8,1671.4 1850.8,1671.8 1852.8,1672.3 1854.8,1672.7 1856.8,1673.1 1858.8,1673.5 1860.8,1673.9 1862.8,1674.3 1864.8,1674.6 1866.8,1675 1868.8,1675.4 1870.8,1675.8 1872.8,1676.2 1874.8,1676.5 1876.8,1676.9 1878.8,1677.3 1880.8,1677.7 1882.8,1678 1884.8,1678.4 1886.8,1678.7 1888.8,1679.1 1890.8,1679.4 1892.8,1679.8 1894.8,1680.1 1896.8,1680.4 1898.8,1680.7 1900.8,1681 1902.8,1681.3 1904.8,1681.6 1906.8,1681.8 1908.8,1682.1 1910.8,1682.4 1912.8,1682.6 1914.8,1682.8 1916.8,1683.1 1918.8,1683.3 1920.8,1683.5 1922.8,1683.7 1924.8,1683.9 1926.8,1684.1 1928.8,1684.3 1930.8,1684.5 1932.8,1684.7 1934.8,1684.9 1936.8,1685.1 1938.8,1685.2 1940.8,1685.4 1942.8,1685.6 1944.8,1685.7 1946.8,1685.9 1948.8,1686 1950.8,1686.1 1952.8,1686.3 1954.8,1686.4 1956.8,1686.5 1958.8,1686.6 1960.8,1686.7 1962.8,1686.8 1964.8,1686.8 1966.8,1686.9 1968.8,1687 1970.8,1687.1 1972.8,1687.1 1974.8,1687.2 1976.8,1687.3 1978.8,1687.3 1980.8,1687.4 1982.8,1687.4 1984.8,1687.5 1986.8,1687.5 1988.8,1687.6 1990.8,1687.6 1992.8,1687.7 1994.8,1687.7 1996.8,1687.8 1998.8,1687.8 2000.8,1687.8 2002.8,1687.9 2004.8,1687.9 2006.8,1687.9 2008.8,1687.9 2010.8,1687.9 2012.8,1688 2014.8,1688 2016.8,1688 2018.8,1688 2020.8,1688 2022.8,1688 2024.8,1688 2026.8,1688 2028.8,1688 2030.8,1688 2032.8,1688 2034.8,1688 2036.8,1688 2038.8,1688 2040.8,1688 2042.8,1688 2044.8,1688 2046.8,1688 2048.8,1688 2050.8,1688 2052.8,1688 2054.8,1688 2056.8,1688 2058.8,1688 2060.8,1688 2062.8,1688 2064.8,1688 2066.8,1688 2068.8,1688 2070.8,1688 2072.8,1688 2074.8,1688 2076.8,1688 2078.8,1688 2080.8,1688 2082.8,1688 2084.8,1688 2086.8,1688 2088.8,1688 2090.8,1688 2092.8,1688 2094.8,1688 2096.8,1688 2098.8,1688 2100.8,1688 2102.8,1688 2104.8,1688 2106.8,1688 2108.8,1688 2110.8,1688 2112.8,1688 2114.8,1688 2116.8,1688 2118.8,1688 2120.8,1688 2122.8,1688 2124.8,1688 2126.8,1688 2128.8,1688 2130.8,1688 2132.8,1688 2134.8,1688 2136.8,1688 2138.8,1688 2140.8,1688 2142.8,1688 2144.8,1688 2146.8,1688 2148.8,1688 2150.8,1688 2152.8,1688 2154.8,1688 2156.8,1688 2158.8,1688 2160.8,1688 2162.8,1688 2164.8,1688 2166.8,1688" fill="none" stroke="#b9b9b9" stroke-width="5.2" stroke-linejoin="round" stroke-linecap="butt" />
<polyline points="1202.8,1577.9 1204.8,1577.9 1206.8,1578.1 1208.8,1578.2 1210.8,1578.4 1212.8,1578.5 1214.8,1578.7 1216.8,1578.8 1218.8,1579 1220.8,1579.1 1222.8,1579.3 1224.8,1579.4 1226.8,1579.6 1228.8,1579.7 1230.8,1579.9 1232.8,1580 1234.8,1580.1 1236.8,1580.3 1238.8,1580.4 1240.8,1580.5 1242.8,1580.6 1244.8,1580.7 1246.8,1580.8 1248.8,1580.9 1250.8,1581 1252.8,1581.1 1254.8,1581.2 1256.8,1581.3 1258.8,1581.4 1260.8,1581.5 1262.8,1581.5 1264.8,1581.6 1266.8,1581.7 1268.8,1581.7 1270.8,1581.8 1272.8,1581.8 1274.8,1581.9 1276.8,1581.9 1278.8,1581.9 1280.8,1582 1282.8,1582 1284.8,1582 1286.8,1582 1288.8,1582.1 1290.8,1582.1 1292.8,1582.1 1294.8,1582.1 1296.8,1582.2 1298.8,1582.2 1300.8,1582.2 1302.8,1582.2 1304.8,1582.3 1306.8,1582.3 1308.8,1582.3 1310.8,1582.4 1312.8,1582.4 1314.8,1582.4 1316.8,1582.4 1318.8,1582.5 1320.8,1582.5 1322.8,1582.5 1324.8,1582.5 1326.8,1582.4 1328.8,1582.4 1330.8,1582.3 1332.8,1582.2 1334.8,1582.1 1336.8,1582 1338.8,1581.8 1340.8,1581.6 1342.8,1581.4 1344.8,1581.1 1346.8,1580.7 1348.8,1580.4 1350.8,1579.9 1352.8,1579.4 1354.8,1578.9 1356.8,1578.3 1358.8,1577.6 1360.8,1576.9 1362.8,1576.1 1364.8,1575.3 1366.8,1574.3 1368.8,1573.3 1370.8,1572.2 1372.8,1571 1374.8,1569.7 1376.8,1568.3 1378.8,1566.8 1380.8,1565.2 1382.8,1563.4 1384.8,1561.6 1386.8,1559.6 1388.8,1557.5 1390.8,1555.2 1392.8,1552.8 1394.8,1550.2 1396.8,1547.5 1398.8,1544.6 1400.8,1541.6 1402.8,1538.4 1404.8,1535 1406.8,1531.4 1408.8,1527.6 1410.8,1523.6 1412.8,1519.4 1414.8,1515.1 1416.8,1510.5 1418.8,1505.7 1420.8,1500.7 1422.8,1495.5 1424.8,1490.1 1426.8,1484.5 1428.8,1478.7 1430.8,1472.7 1432.8,1466.5 1434.8,1460.1 1436.8,1453.5 1438.8,1446.7 1440.8,1439.7 1442.8,1432.5 1444.8,1425.2 1446.8,1417.7 1448.8,1410.1 1450.8,1402.3 1452.8,1394.4 1454.8,1386.3 1456.8,1378.2 1458.8,1369.9 1460.8,1361.6 1462.8,1353.3 1464.8,1344.9 1466.8,1336.4 1468.8,1328 1470.8,1319.6 1472.8,1311.2 1474.8,1302.9 1476.8,1294.6 1478.8,1286.5 1480.8,1278.5 1482.8,1270.7 1484.8,1263 1486.8,1255.5 1488.8,1248.3 1490.8,1241.3 1492.8,1234.6 1494.8,1228.1 1496.8,1222 1498.8,1216.3 1500.8,1210.9 1502.8,1205.9 1504.8,1201.3 1506.8,1197.1 1508.8,1193.4 1510.8,1190.1 1512.8,1187.3 1514.8,1184.9 1516.8,1183.1 1518.8,1181.7 1520.8,1180.9 1522.8,1180.5 1524.8,1180.7 1526.8,1181.4 1528.8,1182.6 1530.8,1184.3 1532.8,1186.4 1534.8,1189.1 1536.8,1192.3 1538.8,1195.9 1540.8,1200 1542.8,1204.5 1544.8,1209.4 1546.8,1214.8 1548.8,1220.5 1550.8,1226.6 1552.8,1233 1554.8,1239.8 1556.8,1246.8 1558.8,1254.1 1560.8,1261.7 1562.8,1269.5 1564.8,1277.5 1566.8,1285.6 1568.8,1294 1570.8,1302.4 1572.8,1311 1574.8,1319.7 1576.8,1328.4 1578.8,1337.2 1580.8,1346 1582.8,1354.8 1584.8,1363.5 1586.8,1372.3 1588.8,1380.9 1590.8,1389.5 1592.8,1398 1594.8,1406.4 1596.8,1414.7 1598.8,1422.8 1600.8,1430.7 1602.8,1438.5 1604.8,1446.1 1606.8,1453.5 1608.8,1460.6 1610.8,1467.6 1612.8,1474.3 1614.8,1480.8 1616.8,1487.1 1618.8,1493.1 1620.8,1498.8 1622.8,1504.3 1624.8,1509.5 1626.8,1514.5 1628.8,1519.2 1630.8,1523.6 1632.8,1527.7 1634.8,1531.6 1636.8,1535.1 1638.8,1538.4 1640.8,1541.4 1642.8,1544.2 1644.8,1546.6 1646.8,1548.8 1648.8,1550.7 1650.8,1552.3 1652.8,1553.7 1654.8,1554.7 1656.8,1555.5 1658.8,1556 1660.8,1556.2 1662.8,1556.2 1664.8,1555.9 1666.8,1555.3 1668.8,1554.4 1670.8,1553.3 1672.8,1551.9 1674.8,1550.2 1676.8,1548.2 1678.8,1546 1680.8,1543.5 1682.8,1540.8 1684.8,1537.8 1686.8,1534.5 1688.8,1530.9 1690.8,1527.1 1692.8,1523.1 1694.8,1518.7 1696.8,1514.2 1698.8,1509.3 1700.8,1504.2 1702.8,1498.9 1704.8,1493.3 1706.8,1487.4 1708.8,1481.3 1710.8,1474.9 1712.8,1468.3 1714.8,1461.5 1716.8,1454.4 1718.8,1447.1 1720.8,1439.6 1722.8,1431.9 1724.8,1424 1726.8,1415.9 1728.8,1407.6 1730.8,1399.1 1732.8,1390.4 1734.8,1381.7 1736.8,1372.7 1738.8,1363.7 1740.8,1354.5 1742.8,1345.3 1744.8,1336 1746.8,1326.6 1748.8,1317.2 1750.8,1307.7 1752.8,1298.3 1754.8,1288.9 1756.8,1279.5 1758.8,1270.2 1760.8,1261 1762.8,1251.9 1764.8,1242.9 1766.8,1234.1 1768.8,1225.4 1770.8,1216.9 1772.8,1208.7 1774.8,1200.7 1776.8,1193 1778.8,1185.6 1780.8,1178.5 1782.8,1171.7 1784.8,1165.3 1786.8,1159.3 1788.8,1153.6 1790.8,1148.4 1792.8,1143.6 1794.8,1139.2 1796.8,1135.3 1798.8,1131.9 1800.8,1128.9 1802.8,1126.5 1804.8,1124.5 1806.8,1123.1 1808.8,1122.2 1810.8,1121.9 1812.8,1122 1814.8,1122.7 1816.8,1123.9 1818.8,1125.6 1820.8,1127.8 1822.8,1130.4 1824.8,1133.6 1826.8,1137.2 1828.8,1141.3 1830.8,1145.8 1832.8,1150.8 1834.8,1156.2 1836.8,1162 1838.8,1168.2 1840.8,1174.7 1842.8,1181.6 1844.8,1188.9 1846.8,1196.5 1848.8,1204.3 1850.8,1212.5 1852.8,1220.9 1854.8,1229.5 1856.8,1238.4 1858.8,1247.5 1860.8,1256.8 1862.8,1266.3 1864.8,1275.8 1866.8,1285.6 1868.8,1295.4 1870.8,1305.3 1872.8,1315.3 1874.8,1325.3 1876.8,1335.4 1878.8,1345.5 1880.8,1355.5 1882.8,1365.6 1884.8,1375.6 1886.8,1385.5 1888.8,1395.4 1890.8,1405.2 1892.8,1414.9 1894.8,1424.4 1896.8,1433.9 1898.8,1443.2 1900.8,1452.3 1902.8,1461.3 1904.8,1470.1 1906.8,1478.7 1908.8,1487.2 1910.8,1495.4 1912.8,1503.5 1914.8,1511.4 1916.8,1519 1918.8,1526.4 1920.8,1533.7 1922.8,1540.7 1924.8,1547.5 1926.8,1554.1 1928.8,1560.4 1930.8,1566.6 1932.8,1572.5 1934.8,1578.3 1936.8,1583.8 1938.8,1589.1 1940.8,1594.2 1942.8,1599.1 1944.8,1603.8 1946.8,1608.2 1948.8,1612.5 1950.8,1616.6 1952.8,1620.5 1954.8,1624.2 1956.8,1627.8 1958.8,1631.1 1960.8,1634.3 1962.8,1637.4 1964.8,1640.3 1966.8,1643 1968.8,1645.6 1970.8,1648 1972.8,1650.3 1974.8,1652.5 1976.8,1654.6 1978.8,1656.5 1980.8,1658.4 1982.8,1660.1 1984.8,1661.7 1986.8,1663.3 1988.8,1664.7 1990.8,1666 1992.8,1667.3 1994.8,1668.5 1996.8,1669.6 1998.8,1670.6 2000.8,1671.6 2002.8,1672.5 2004.8,1673.3 2006.8,1674.1 2008.8,1674.9 2010.8,1675.5 2012.8,1676.2 2014.8,1676.7 2016.8,1677.3 2018.8,1677.8 2020.8,1678.3 2022.8,1678.7 2024.8,1679.1 2026.8,1679.5 2028.8,1679.8 2030.8,1680.2 2032.8,1680.5 2034.8,1680.7 2036.8,1681 2038.8,1681.2 2040.8,1681.5 2042.8,1681.8 2044.8,1682.1 2046.8,1682.4 2048.8,1682.6 2050.8,1682.9 2052.8,1683.1 2054.8,1683.3 2056.8,1683.5 2058.8,1683.7 2060.8,1683.9 2062.8,1684.1 2064.8,1684.3 2066.8,1684.5 2068.8,1684.7 2070.8,1684.9 2072.8,1685 2074.8,1685.2 2076.8,1685.4 2078.8,1685.5 2080.8,1685.7 2082.8,1685.8 2084.8,1686 2086.8,1686.1 2088.8,1686.2 2090.8,1686.4 2092.8,1686.5 2094.8,1686.7 2096.8,1686.8 2098.8,1686.9 2100.8,1687 2102.8,1687.1 2104.8,1687.1 2106.8,1687.1 2108.8,1687.1 2110.8,1687 2112.8,1687 2114.8,1686.9 2116.8,1686.8 2118.8,1686.7 2120.8,1686.6 2122.8,1686.4 2124.8,1686.2 2126.8,1686 2128.8,1685.8 2130.8,1685.6 2132.8,1685.4 2134.8,1685.1 2136.8,1684.8 2138.8,1684.5 2140.8,1684.2 2142.8,1683.9 2144.8,1683.5 2146.8,1683.1 2148.8,1682.7 2150.8,1682.3 2152.8,1681.9 2154.8,1681.5 2156.8,1681 2158.8,1680.5 2160.8,1680 2162.8,1679.5 2164.8,1678.9 2166.8,1678.4" fill="none" stroke="#ff00ff" stroke-width="5.7" stroke-linejoin="round" stroke-linecap="butt" />
<rect x="1202.8" y="1005.2" width="965" height="818.3" fill="none" stroke="#000" stroke-width="6"/>
<line x1="1202.8" y1="1823.5" x2="1202.8" y2="1839.5" stroke="#000000" stroke-width="5.5" stroke-linecap="butt"/>
<text transform="translate(1202.8 1881.9) scale(1 1.055)" font-family='"Liberation Sans", Arial, Helvetica, sans-serif' font-weight="bold" font-size="42.2" fill="#000000" text-anchor="middle" >96</text>
<line x1="1395.8" y1="1823.5" x2="1395.8" y2="1839.5" stroke="#000000" stroke-width="5.5" stroke-linecap="butt"/>
<text transform="translate(1395.8 1881.9) scale(1 1.055)" font-family='"Liberation Sans", Arial, Helvetica, sans-serif' font-weight="bold" font-size="42.2" fill="#000000" text-anchor="middle" >92</text>
<line x1="1588.8" y1="1823.5" x2="1588.8" y2="1839.5" stroke="#000000" stroke-width="5.5" stroke-linecap="butt"/>
<text transform="translate(1588.8 1881.9) scale(1 1.055)" font-family='"Liberation Sans", Arial, Helvetica, sans-serif' font-weight="bold" font-size="42.2" fill="#000000" text-anchor="middle" >88</text>
<line x1="1781.8" y1="1823.5" x2="1781.8" y2="1839.5" stroke="#000000" stroke-width="5.5" stroke-linecap="butt"/>
<text transform="translate(1781.8 1881.9) scale(1 1.055)" font-family='"Liberation Sans", Arial, Helvetica, sans-serif' font-weight="bold" font-size="42.2" fill="#000000" text-anchor="middle" >84</text>
<line x1="1974.8" y1="1823.5" x2="1974.8" y2="1839.5" stroke="#000000" stroke-width="5.5" stroke-linecap="butt"/>
<text transform="translate(1974.8 1881.9) scale(1 1.055)" font-family='"Liberation Sans", Arial, Helvetica, sans-serif' font-weight="bold" font-size="42.2" fill="#000000" text-anchor="middle" >80</text>
<line x1="2167.8" y1="1823.5" x2="2167.8" y2="1839.5" stroke="#000000" stroke-width="5.5" stroke-linecap="butt"/>
<text transform="translate(2167.8 1881.9) scale(1 1.055)" font-family='"Liberation Sans", Arial, Helvetica, sans-serif' font-weight="bold" font-size="42.2" fill="#000000" text-anchor="middle" >76</text>
<line x1="1299.3" y1="1823.5" x2="1299.3" y2="1833" stroke="#000000" stroke-width="5.5" stroke-linecap="butt"/>
<line x1="1492.3" y1="1823.5" x2="1492.3" y2="1833" stroke="#000000" stroke-width="5.5" stroke-linecap="butt"/>
<line x1="1685.3" y1="1823.5" x2="1685.3" y2="1833" stroke="#000000" stroke-width="5.5" stroke-linecap="butt"/>
<line x1="1878.3" y1="1823.5" x2="1878.3" y2="1833" stroke="#000000" stroke-width="5.5" stroke-linecap="butt"/>
<line x1="2071.3" y1="1823.5" x2="2071.3" y2="1833" stroke="#000000" stroke-width="5.5" stroke-linecap="butt"/>
<text transform="translate(1685.3 1928.2) scale(1 1.04)" font-family='"Liberation Sans", Arial, Helvetica, sans-serif' font-weight="bold" font-size="57" fill="#000000" text-anchor="middle" >Binding Energy (eV)</text>
<text transform="translate(1183.6 1426) rotate(-90) scale(1 1.035)" font-family='"Liberation Sans", Arial, Helvetica, sans-serif' font-weight="bold" font-size="57" fill="#000000" text-anchor="middle" >Intensity (a.u.)</text>
<text transform="translate(1214.8 1068.6) scale(1 1.055)" font-family='"Liberation Sans", Arial, Helvetica, sans-serif' font-weight="bold" font-size="55.8" fill="#000000" text-anchor="start" >Mn 3s</text>
<text transform="translate(2158.5 1056.8) scale(1.06 1)" font-family='"Liberation Serif", "Times New Roman", serif' font-weight="bold" font-size="57.2" fill="#000000" text-anchor="end" >(d)</text>
<text transform="translate(1481.7 1147) scale(1 1.055)" font-family='"Liberation Sans", Arial, Helvetica, sans-serif' font-weight="bold" font-size="49" fill="#00ff00" text-anchor="start" >89.4</text>
<text transform="translate(1772.5 1105) scale(1 1.055)" font-family='"Liberation Sans", Arial, Helvetica, sans-serif' font-weight="bold" font-size="49" fill="#ff0000" text-anchor="start" >83.4</text>
<polyline points="104,2680.8 110,2685.3 116,2680.2 123.5,2684.4 130.9,2686.8 138.4,2680.8 144.4,2701.2 150.4,2695.2 157.9,2696.4 165.4,2686.8 172.9,2682.3 181.9,2686.8 186.4,2691.3 193.9,2677.8 199.9,2688.3 207.3,2683.8 214.8,2681.4 222.3,2684.4 229.8,2691.3 237.3,2686.8 244.8,2685.3 250.8,2686.2 258.3,2678.4 265.8,2682.3 276.2,2683.2 285.2,2678.4 292.7,2686.8 299.6,2661.3 306.2,2680.2 313.7,2669.4 321.2,2677.2 334.7,2677.8 342.2,2665.8 348.1,2662.8 355.6,2661.3 363.1,2677.2 376.6,2660.4 384.1,2662.8 390.1,2661.3 397.6,2656.2 406.6,2656.2 412.6,2653.2 420,2651.4 426,2643.4 433.5,2641.3 447,2626.9 453,2635.9 460.5,2609.5 468,2604.4 480,2584.9 490.4,2568.5 494.9,2555 500.9,2507.2 507.9,2484.5 514.9,2463.4 521.9,2441.9 528.9,2420.7 535.9,2397.7 542.9,2375.6 549.9,2354.1 556.9,2334.7 563.9,2314.2 570.9,2290.2 577.9,2265.1 584.9,2241.2 591.9,2219.1 598.9,2191.8 605.9,2164.1 612.9,2141.8 619.9,2118.4 626.9,2100 633.9,2085.6 640.9,2075.8 649.4,2075.9 653,2078.6 656.6,2101.1 663.8,2108.3 671,2102.9 682.7,2133.5 692.6,2151.4 699.7,2178.4 706.9,2176.6 717.7,2185.6 723.1,2210.8 728.5,2234.1 737.5,2237.7 742.9,2257.5 751.9,2268.3 757.3,2291.6 766.3,2300.6 775.2,2320.4 778.3,2324.9 786.9,2340 793.4,2336.8 800.9,2344.3 804.1,2368.1 814.9,2393.9 821.4,2424.1 825.7,2456.5 830,2488.8 836.5,2499.6 840.8,2527.7 818.9,2412.5 824.6,2446.8 828.4,2473.5 832.1,2490.6 836.9,2498.3 839.7,2521.1 843.5,2549.7 849.2,2578.3 856.8,2610.8 860.6,2637.5 866.3,2652.7 875.8,2675.6 883.4,2683.2 891,2696.6 904.3,2709 915.7,2711.8 919.5,2707.1 927.1,2718.5 932.8,2709.9 942.3,2716.6 948,2718.5 953.7,2723.3 961.3,2721.4 968.8,2723.3 987.8,2723.3 993.5,2729 1001.1,2731.8 1010.6,2732.8 1016.3,2722.3 1025.8,2724.2 1033.4,2730.9 1039.1,2733.8 1048.6,2729 1060,2723.3 1067,2738 1074,2736.2 1081,2734.7 1088,2737.7" fill="none" stroke="#000000" stroke-width="5.2" stroke-linejoin="round" stroke-linecap="butt" />
<polyline points="659.2,2711.4 661.2,2711.7 663.2,2711.9 665.2,2712.1 667.2,2712.2 669.2,2712.4 671.2,2712.5 673.2,2712.5 675.2,2712.6 677.2,2712.6 679.2,2712.5 681.2,2712.4 683.2,2712.2 685.2,2712 687.2,2711.7 689.2,2711.3 691.2,2710.9 693.2,2710.3 695.2,2709.7 697.2,2708.9 699.2,2708.1 701.2,2707.1 703.2,2706.1 705.2,2704.8 707.2,2703.5 709.2,2702 711.2,2700.4 713.2,2698.6 715.2,2696.6 717.2,2694.4 719.2,2692.1 721.2,2689.6 723.2,2686.9 725.2,2684.1 727.2,2681 729.2,2677.7 731.2,2674.2 733.2,2670.6 735.2,2666.7 737.2,2662.7 739.2,2658.4 741.2,2654 743.2,2649.3 745.2,2644.6 747.2,2639.6 749.2,2634.5 751.2,2629.3 753.2,2623.9 755.2,2618.5 757.2,2612.9 759.2,2607.3 761.2,2601.7 763.2,2596 765.2,2590.3 767.2,2584.7 769.2,2579.1 771.2,2573.6 773.2,2568.2 775.2,2562.9 777.2,2557.8 779.2,2552.9 781.2,2548.2 783.2,2543.7 785.2,2539.5 787.2,2535.5 789.2,2531.9 791.2,2528.7 793.2,2525.7 795.2,2523.2 797.2,2521.1 799.2,2519.3 801.2,2518 803.2,2517.1 805.2,2516.6 807.2,2516.5 809.2,2516.9 811.2,2517.8 813.2,2519 815.2,2520.7 817.2,2522.8 819.2,2525.3 821.2,2528.2 823.2,2531.5 825.2,2535.1 827.2,2539 829.2,2543.3 831.2,2547.9 833.2,2552.7 835.2,2557.8 837.2,2563.1 839.2,2568.5 841.2,2574.2 843.2,2579.9 845.2,2585.8 847.2,2591.7 849.2,2597.7 851.2,2603.7 853.2,2609.8 855.2,2615.8 857.2,2621.7 859.2,2627.6 861.2,2633.4 863.2,2639.1 865.2,2644.7 867.2,2650.2 869.2,2655.5 871.2,2660.6 873.2,2665.6 875.2,2670.4 877.2,2675 879.2,2679.4 881.2,2683.6 883.2,2687.6 885.2,2691.4 887.2,2695 889.2,2698.5 891.2,2701.7 893.2,2704.7 895.2,2707.6 897.2,2710.2 899.2,2712.7 901.2,2715 903.2,2717.2 905.2,2719.2 907.2,2721 909.2,2722.7 911.2,2724.3 913.2,2725.7 915.2,2727 917.2,2728.2 919.2,2729.3 921.2,2730.3 923.2,2731.2 925.2,2732 927.2,2732.7 929.2,2733.4 931.2,2734 933.2,2734.5 935.2,2735 937.2,2735.4 939.2,2735.8 941.2,2736.1 943.2,2736.4 945.2,2736.7 947.2,2736.9 949.2,2737.1 951.2,2737.3 953.2,2737.5 955.2,2737.6" fill="none" stroke="#ff0000" stroke-width="5" stroke-linejoin="round" stroke-linecap="butt" />
<polyline points="551.2,2695 553.2,2695.2 555.2,2695.4 557.2,2695.6 559.2,2695.7 561.2,2695.9 563.2,2696.1 565.2,2696.2 567.2,2696.4 569.2,2696.6 571.2,2696.7 573.2,2696.9 575.2,2697 577.2,2697.2 579.2,2697.3 581.2,2697.4 583.2,2697.5 585.2,2697.6 587.2,2697.6 589.2,2697.7 591.2,2697.7 593.2,2697.7 595.2,2697.6 597.2,2697.6 599.2,2697.4 601.2,2697.3 603.2,2697.1 605.2,2696.8 607.2,2696.5 609.2,2696.1 611.2,2695.6 613.2,2695 615.2,2694.4 617.2,2693.6 619.2,2692.8 621.2,2691.8 623.2,2690.7 625.2,2689.5 627.2,2688.2 629.2,2686.7 631.2,2685 633.2,2683.1 635.2,2681.1 637.2,2678.9 639.2,2676.5 641.2,2673.9 643.2,2671 645.2,2668 647.2,2664.7 649.2,2661.1 651.2,2657.3 653.2,2653.2 655.2,2648.9 657.2,2644.3 659.2,2639.5 661.2,2634.4 663.2,2629 665.2,2623.3 667.2,2617.4 669.2,2611.2 671.2,2604.8 673.2,2598.2 675.2,2591.3 677.2,2584.2 679.2,2576.9 681.2,2569.4 683.2,2561.8 685.2,2554.1 687.2,2546.2 689.2,2538.2 691.2,2530.2 693.2,2522.2 695.2,2514.1 697.2,2506.1 699.2,2498.2 701.2,2490.4 703.2,2482.7 705.2,2475.2 707.2,2468 709.2,2460.9 711.2,2454.2 713.2,2447.8 715.2,2441.7 717.2,2436.1 719.2,2430.8 721.2,2426 723.2,2421.7 725.2,2418 727.2,2414.7 729.2,2412 731.2,2409.9 733.2,2408.4 735.2,2407.5 737.2,2407.2 739.2,2407.5 741.2,2408.4 743.2,2410 745.2,2412.1 747.2,2414.8 749.2,2418.1 751.2,2421.9 753.2,2426.3 755.2,2431.2 757.2,2436.6 759.2,2442.4 761.2,2448.7 763.2,2455.4 765.2,2462.4 767.2,2469.7 769.2,2477.3 771.2,2485.2 773.2,2493.3 775.2,2501.6 777.2,2510 779.2,2518.5 781.2,2527 783.2,2535.7 785.2,2544.3 787.2,2552.9 789.2,2561.4 791.2,2569.8 793.2,2578.1 795.2,2586.3 797.2,2594.4 799.2,2602.2 801.2,2609.9 803.2,2617.3 805.2,2624.5 807.2,2631.5 809.2,2638.2 811.2,2644.7 813.2,2650.8 815.2,2656.8 817.2,2662.4 819.2,2667.8 821.2,2672.9 823.2,2677.8 825.2,2682.3 827.2,2686.7 829.2,2690.7 831.2,2694.5 833.2,2698.1 835.2,2701.4 837.2,2704.5 839.2,2707.4 841.2,2710.1 843.2,2712.6 845.2,2714.9 847.2,2717 849.2,2719 851.2,2720.8 853.2,2722.4 855.2,2723.9 857.2,2725.3 859.2,2726.5 861.2,2727.7 863.2,2728.7 865.2,2729.7 867.2,2730.5 869.2,2731.3 871.2,2732 873.2,2732.6 875.2,2733.2 877.2,2733.7 879.2,2734.1 881.2,2734.5 883.2,2734.9 885.2,2735.2 887.2,2735.5 889.2,2735.7 891.2,2736 893.2,2736.2 895.2,2736.4 897.2,2736.5 899.2,2736.7 901.2,2736.8 903.2,2736.9 905.2,2737 907.2,2737.1 909.2,2737.2 911.2,2737.3 913.2,2737.3 915.2,2737.4 917.2,2737.4 919.2,2737.5 921.2,2737.5 923.2,2737.6 925.2,2737.6" fill="none" stroke="#00ff00" stroke-width="5" stroke-linejoin="round" stroke-linecap="butt" />
<polyline points="253.2,2689 255.2,2689 257.2,2689 259.2,2689 261.2,2689 263.2,2689 265.2,2689 267.2,2689 269.2,2689 271.2,2689 273.2,2689 275.2,2689 277.2,2688.9 279.2,2688.9 281.2,2688.9 283.2,2688.9 285.2,2688.9 287.2,2688.9 289.2,2688.9 291.2,2688.9 293.2,2688.9 295.2,2688.9 297.2,2688.9 299.2,2688.8 301.2,2688.8 303.2,2688.8 305.2,2688.8 307.2,2688.8 309.2,2688.8 311.2,2688.8 313.2,2688.8 315.2,2688.8 317.2,2688.7 319.2,2688.7 321.2,2688.7 323.2,2688.7 325.2,2688.7 327.2,2688.7 329.2,2688.7 331.2,2688.7 333.2,2688.6 335.2,2688.6 337.2,2688.6 339.2,2688.6 341.2,2688.6 343.2,2688.6 345.2,2688.6 347.2,2688.5 349.2,2688.5 351.2,2688.5 353.2,2688.5 355.2,2688.5 357.2,2688.5 359.2,2688.4 361.2,2688.4 363.2,2688.4 365.2,2688.4 367.2,2688.4 369.2,2688.3 371.2,2688.3 373.2,2688.3 375.2,2688.3 377.2,2688.3 379.2,2688.2 381.2,2688.2 383.2,2688.2 385.2,2688.2 387.2,2688.2 389.2,2688.1 391.2,2688.1 393.2,2688.1 395.2,2688.1 397.2,2688.1 399.2,2688 401.2,2688 403.2,2688 405.2,2688 407.2,2687.9 409.2,2687.9 411.2,2687.9 413.2,2687.8 415.2,2687.8 417.2,2687.8 419.2,2687.8 421.2,2687.7 423.2,2687.7 425.2,2687.7 427.2,2687.7 429.2,2687.6 431.2,2687.6 433.2,2687.6 435.2,2687.5 437.2,2687.5 439.2,2687.4 441.2,2687.4 443.2,2687.4 445.2,2687.3 447.2,2687.3 449.2,2687.2 451.2,2687.2 453.2,2687.1 455.2,2687.1 457.2,2687 459.2,2686.9 461.2,2686.8 463.2,2686.8 465.2,2686.7 467.2,2686.5 469.2,2686.4 471.2,2686.3 473.2,2686.1 475.2,2686 477.2,2685.8 479.2,2685.6 481.2,2685.3 483.2,2685.1 485.2,2684.8 487.2,2684.5 489.2,2684.1 491.2,2683.7 493.2,2683.2 495.2,2682.7 497.2,2682.2 499.2,2681.5 501.2,2680.8 503.2,2680.1 505.2,2679.2 507.2,2678.3 509.2,2677.2 511.2,2676.1 513.2,2674.8 515.2,2673.5 517.2,2671.9 519.2,2670.3 521.2,2668.5 523.2,2666.5 525.2,2664.4 527.2,2662 529.2,2659.5 531.2,2656.8 533.2,2653.8 535.2,2650.6 537.2,2647.2 539.2,2643.5 541.2,2639.6 543.2,2635.3 545.2,2630.8 547.2,2626 549.2,2620.8 551.2,2615.4 553.2,2609.6 555.2,2603.5 557.2,2597 559.2,2590.2 561.2,2583.1 563.2,2575.6 565.2,2567.7 567.2,2559.5 569.2,2550.9 571.2,2542 573.2,2532.7 575.2,2523.1 577.2,2513.2 579.2,2503 581.2,2492.4 583.2,2481.6 585.2,2470.5 587.2,2459.2 589.2,2447.7 591.2,2436 593.2,2424.1 595.2,2412.1 597.2,2399.9 599.2,2387.8 601.2,2375.5 603.2,2363.3 605.2,2351.2 607.2,2339.1 609.2,2327.2 611.2,2315.5 613.2,2304 615.2,2292.7 617.2,2281.8 619.2,2271.2 621.2,2261 623.2,2251.3 625.2,2242.1 627.2,2233.4 629.2,2225.3 631.2,2217.8 633.2,2211 635.2,2204.9 637.2,2199.5 639.2,2194.9 641.2,2191 643.2,2188 645.2,2185.8 647.2,2184.4 649.2,2183.9 651.2,2184.2 653.2,2185.4 655.2,2187.5 657.2,2190.4 659.2,2194.1 661.2,2198.6 663.2,2203.9 665.2,2210 667.2,2216.8 669.2,2224.3 671.2,2232.4 673.2,2241.2 675.2,2250.6 677.2,2260.5 679.2,2270.9 681.2,2281.7 683.2,2292.9 685.2,2304.5 687.2,2316.4 689.2,2328.6 691.2,2341 693.2,2353.6 695.2,2366.3 697.2,2379.1 699.2,2391.9 701.2,2404.7 703.2,2417.6 705.2,2430.3 707.2,2442.9 709.2,2455.4 711.2,2467.8 713.2,2479.9 715.2,2491.8 717.2,2503.5 719.2,2514.9 721.2,2526 723.2,2536.9 725.2,2547.4 727.2,2557.5 729.2,2567.4 731.2,2576.9 733.2,2586 735.2,2594.8 737.2,2603.2 739.2,2611.2 741.2,2618.9 743.2,2626.3 745.2,2633.2 747.2,2639.9 749.2,2646.2 751.2,2652.1 753.2,2657.8 755.2,2663.1 757.2,2668.1 759.2,2672.8 761.2,2677.2 763.2,2681.4 765.2,2685.3 767.2,2688.9 769.2,2692.3 771.2,2695.5 773.2,2698.4 775.2,2701.2 777.2,2703.7 779.2,2706.1 781.2,2708.3 783.2,2710.3 785.2,2712.2 787.2,2714 789.2,2715.6 791.2,2717.1 793.2,2718.5 795.2,2719.8 797.2,2721 799.2,2722.1 801.2,2723.1 803.2,2724 805.2,2724.9 807.2,2725.7 809.2,2726.4 811.2,2727.1 813.2,2727.7 815.2,2728.3 817.2,2728.8 819.2,2729.3 821.2,2729.8 823.2,2730.2 825.2,2730.7 827.2,2731 829.2,2731.4 831.2,2731.7 833.2,2732 835.2,2732.3 837.2,2732.6 839.2,2732.8 841.2,2733.1 843.2,2733.3 845.2,2733.5 847.2,2733.7 849.2,2733.9 851.2,2734 853.2,2734.2 855.2,2734.4 857.2,2734.5 859.2,2734.6 861.2,2734.8 863.2,2734.9 865.2,2735 867.2,2735.1 869.2,2735.2 871.2,2735.3 873.2,2735.4 875.2,2735.5 877.2,2735.6 879.2,2735.7 881.2,2735.8 883.2,2735.8 885.2,2735.9 887.2,2736 889.2,2736 891.2,2736.1 893.2,2736.1 895.2,2736.2 897.2,2736.2 899.2,2736.3 901.2,2736.3 903.2,2736.4 905.2,2736.4 907.2,2736.5 909.2,2736.5 911.2,2736.5 913.2,2736.6 915.2,2736.6 917.2,2736.6 919.2,2736.7 921.2,2736.7 923.2,2736.7 925.2,2736.8 927.2,2736.8 929.2,2736.8 931.2,2736.8 933.2,2736.9 935.2,2736.9 937.2,2736.9 939.2,2736.9 941.2,2737 943.2,2737 945.2,2737 947.2,2737 949.2,2737 951.2,2737.1 953.2,2737.1 955.2,2737.1 957.2,2737.1 959.2,2737.1 961.2,2737.2 963.2,2737.2 965.2,2737.2 967.2,2737.2 969.2,2737.2 971.2,2737.2 973.2,2737.2 975.2,2737.3 977.2,2737.3 979.2,2737.3 981.2,2737.3 983.2,2737.3 985.2,2737.3 987.2,2737.4 989.2,2737.4 991.2,2737.4 993.2,2737.4 995.2,2737.4 997.2,2737.4 999.2,2737.4 1001.2,2737.4 1003.2,2737.5 1005.2,2737.5 1007.2,2737.5 1009.2,2737.5 1011.2,2737.5 1013.2,2737.5 1015.2,2737.5 1017.2,2737.5 1019.2,2737.5 1021.2,2737.6 1023.2,2737.6 1025.2,2737.6 1027.2,2737.6 1029.2,2737.6 1031.2,2737.6 1033.2,2737.6 1035.2,2737.6 1037.2,2737.6 1039.2,2737.6 1041.2,2737.7 1043.2,2737.7 1045.2,2737.7 1047.2,2737.7" fill="none" stroke="#0000ff" stroke-width="5" stroke-linejoin="round" stroke-linecap="butt" />
<polyline points="321.2,2689.1 323.2,2689 325.2,2689 327.2,2689 329.2,2689 331.2,2689 333.2,2688.9 335.2,2688.9 337.2,2688.9 339.2,2688.8 341.2,2688.8 343.2,2688.7 345.2,2688.7 347.2,2688.6 349.2,2688.6 351.2,2688.5 353.2,2688.5 355.2,2688.4 357.2,2688.3 359.2,2688.2 361.2,2688.1 363.2,2688 365.2,2687.9 367.2,2687.8 369.2,2687.6 371.2,2687.5 373.2,2687.3 375.2,2687.1 377.2,2686.9 379.2,2686.6 381.2,2686.4 383.2,2686.1 385.2,2685.8 387.2,2685.5 389.2,2685.1 391.2,2684.7 393.2,2684.3 395.2,2683.8 397.2,2683.3 399.2,2682.7 401.2,2682.1 403.2,2681.4 405.2,2680.7 407.2,2680 409.2,2679.1 411.2,2678.2 413.2,2677.3 415.2,2676.2 417.2,2675.1 419.2,2673.9 421.2,2672.6 423.2,2671.3 425.2,2669.8 427.2,2668.2 429.2,2666.6 431.2,2664.8 433.2,2662.9 435.2,2660.9 437.2,2658.8 439.2,2656.6 441.2,2654.2 443.2,2651.7 445.2,2649.1 447.2,2646.4 449.2,2643.5 451.2,2640.5 453.2,2637.3 455.2,2634 457.2,2630.6 459.2,2627 461.2,2623.3 463.2,2619.4 465.2,2615.4 467.2,2611.3 469.2,2607.1 471.2,2602.7 473.2,2598.2 475.2,2593.5 477.2,2588.8 479.2,2583.9 481.2,2579 483.2,2574 485.2,2568.8 487.2,2563.6 489.2,2558.4 491.2,2553.1 493.2,2547.7 495.2,2542.4 497.2,2537 499.2,2531.6 501.2,2526.2 503.2,2520.8 505.2,2515.5 507.2,2510.3 509.2,2505.1 511.2,2500 513.2,2495 515.2,2490.1 517.2,2485.4 519.2,2480.8 521.2,2476.4 523.2,2472.1 525.2,2468.1 527.2,2464.3 529.2,2460.7 531.2,2457.3 533.2,2454.2 535.2,2451.4 537.2,2448.8 539.2,2446.5 541.2,2444.6 543.2,2442.9 545.2,2441.5 547.2,2440.5 549.2,2439.8 551.2,2439.5 553.2,2439.4 555.2,2439.7 557.2,2440.4 559.2,2441.3 561.2,2442.6 563.2,2444.2 565.2,2446.2 567.2,2448.4 569.2,2451 571.2,2453.8 573.2,2457 575.2,2460.4 577.2,2464 579.2,2467.9 581.2,2472.1 583.2,2476.4 585.2,2481 587.2,2485.8 589.2,2490.7 591.2,2495.8 593.2,2501 595.2,2506.4 597.2,2511.9 599.2,2517.4 601.2,2523.1 603.2,2528.8 605.2,2534.5 607.2,2540.3 609.2,2546.1 611.2,2551.9 613.2,2557.8 615.2,2563.5 617.2,2569.3 619.2,2575 621.2,2580.6 623.2,2586.2 625.2,2591.7 627.2,2597.1 629.2,2602.4 631.2,2607.6 633.2,2612.7 635.2,2617.7 637.2,2622.6 639.2,2627.3 641.2,2631.9 643.2,2636.4 645.2,2640.7 647.2,2644.9 649.2,2649 651.2,2652.9 653.2,2656.6 655.2,2660.3 657.2,2663.8 659.2,2667.1 661.2,2670.3 663.2,2673.4 665.2,2676.3 667.2,2679.1 669.2,2681.8 671.2,2684.3 673.2,2686.8 675.2,2689.1 677.2,2691.3 679.2,2693.3 681.2,2695.3 683.2,2697.2 685.2,2699 687.2,2700.6 689.2,2702.2 691.2,2703.7 693.2,2705.2 695.2,2706.5 697.2,2707.8 699.2,2709 701.2,2710.1 703.2,2711.2 705.2,2712.2 707.2,2713.2 709.2,2714.1 711.2,2714.9 713.2,2715.8 715.2,2716.5 717.2,2717.3 719.2,2718 721.2,2718.6 723.2,2719.3 725.2,2719.9 727.2,2720.4 729.2,2721 731.2,2721.5 733.2,2722 735.2,2722.5 737.2,2723 739.2,2723.4 741.2,2723.8 743.2,2724.3 745.2,2724.7 747.2,2725.1 749.2,2725.4 751.2,2725.8 753.2,2726.2 755.2,2726.5 757.2,2726.9 759.2,2727.2 761.2,2727.5 763.2,2727.8 765.2,2728.1 767.2,2728.4 769.2,2728.7 771.2,2729 773.2,2729.3 775.2,2729.6 777.2,2729.9 779.2,2730.1 781.2,2730.4 783.2,2730.7 785.2,2730.9 787.2,2731.2" fill="none" stroke="#00ffff" stroke-width="5" stroke-linejoin="round" stroke-linecap="butt" />
<polyline points="103.2,2689.8 105.2,2689.8 107.2,2689.8 109.2,2689.8 111.2,2689.8 113.2,2689.8 115.2,2689.8 117.2,2689.8 119.2,2689.8 121.2,2689.8 123.2,2689.8 125.2,2689.8 127.2,2689.8 129.2,2689.8 131.2,2689.8 133.2,2689.8 135.2,2689.8 137.2,2689.8 139.2,2689.8 141.2,2689.8 143.2,2689.8 145.2,2689.8 147.2,2689.8 149.2,2689.8 151.2,2689.8 153.2,2689.8 155.2,2689.8 157.2,2689.8 159.2,2689.8 161.2,2689.8 163.2,2689.8 165.2,2689.8 167.2,2689.8 169.2,2689.8 171.2,2689.8 173.2,2689.8 175.2,2689.8 177.2,2689.8 179.2,2689.8 181.2,2689.8 183.2,2689.8 185.2,2689.8 187.2,2689.8 189.2,2689.8 191.2,2689.8 193.2,2689.8 195.2,2689.8 197.2,2689.8 199.2,2689.8 201.2,2689.8 203.2,2689.8 205.2,2689.8 207.2,2689.8 209.2,2689.8 211.2,2689.8 213.2,2689.8 215.2,2689.8 217.2,2689.8 219.2,2689.8 221.2,2689.8 223.2,2689.8 225.2,2689.8 227.2,2689.8 229.2,2689.8 231.2,2689.8 233.2,2689.8 235.2,2689.8 237.2,2689.8 239.2,2689.8 241.2,2689.8 243.2,2689.8 245.2,2689.8 247.2,2689.8 249.2,2689.8 251.2,2689.8 253.2,2689.8 255.2,2689.8 257.2,2689.8 259.2,2689.8 261.2,2689.8 263.2,2689.8 265.2,2689.8 267.2,2689.9 269.2,2689.9 271.2,2689.9 273.2,2689.9 275.2,2689.9 277.2,2689.9 279.2,2689.9 281.2,2689.9 283.2,2689.9 285.2,2689.9 287.2,2689.9 289.2,2689.9 291.2,2689.9 293.2,2689.9 295.2,2689.9 297.2,2689.9 299.2,2689.9 301.2,2689.9 303.2,2689.9 305.2,2689.9 307.2,2689.9 309.2,2689.9 311.2,2689.9 313.2,2689.9 315.2,2689.9 317.2,2689.9 319.2,2689.9 321.2,2689.9 323.2,2689.9 325.2,2689.9 327.2,2689.9 329.2,2689.9 331.2,2689.9 333.2,2689.9 335.2,2689.9 337.2,2689.9 339.2,2689.9 341.2,2689.9 343.2,2689.9 345.2,2689.9 347.2,2689.9 349.2,2689.9 351.2,2689.9 353.2,2689.9 355.2,2689.9 357.2,2689.9 359.2,2689.9 361.2,2689.9 363.2,2689.9 365.2,2689.9 367.2,2689.9 369.2,2689.9 371.2,2689.9 373.2,2689.9 375.2,2689.9 377.2,2689.9 379.2,2689.9 381.2,2689.9 383.2,2689.9 385.2,2689.9 387.2,2689.9 389.2,2690 391.2,2690 393.2,2690 395.2,2690 397.2,2690 399.2,2690 401.2,2690 403.2,2690 405.2,2690 407.2,2690 409.2,2690 411.2,2690 413.2,2690 415.2,2690 417.2,2690 419.2,2690.1 421.2,2690.1 423.2,2690.1 425.2,2690.1 427.2,2690.1 429.2,2690.1 431.2,2690.1 433.2,2690.2 435.2,2690.2 437.2,2690.2 439.2,2690.2 441.2,2690.2 443.2,2690.3 445.2,2690.3 447.2,2690.3 449.2,2690.4 451.2,2690.4 453.2,2690.4 455.2,2690.5 457.2,2690.5 459.2,2690.5 461.2,2690.6 463.2,2690.6 465.2,2690.7 467.2,2690.7 469.2,2690.8 471.2,2690.8 473.2,2690.9 475.2,2690.9 477.2,2691 479.2,2691.1 481.2,2691.1 483.2,2691.2 485.2,2691.3 487.2,2691.4 489.2,2691.4 491.2,2691.5 493.2,2691.6 495.2,2691.7 497.2,2691.8 499.2,2691.9 501.2,2692 503.2,2692.1 505.2,2692.2 507.2,2692.3 509.2,2692.5 511.2,2692.6 513.2,2692.7 515.2,2692.8 517.2,2693 519.2,2693.1 521.2,2693.3 523.2,2693.4 525.2,2693.6 527.2,2693.7 529.2,2693.9 531.2,2694 533.2,2694.2 535.2,2694.4 537.2,2694.5 539.2,2694.7 541.2,2694.9 543.2,2695.1 545.2,2695.3 547.2,2695.5 549.2,2695.6 551.2,2695.8 553.2,2696 555.2,2696.3 557.2,2696.5 559.2,2696.7 561.2,2696.9 563.2,2697.1 565.2,2697.3 567.2,2697.6 569.2,2697.8 571.2,2698 573.2,2698.3 575.2,2698.5 577.2,2698.8 579.2,2699 581.2,2699.3 583.2,2699.5 585.2,2699.8 587.2,2700.1 589.2,2700.3 591.2,2700.6 593.2,2700.9 595.2,2701.2 597.2,2701.5 599.2,2701.8 601.2,2702.1 603.2,2702.4 605.2,2702.7 607.2,2703 609.2,2703.3 611.2,2703.6 613.2,2704 615.2,2704.3 617.2,2704.6 619.2,2705 621.2,2705.3 623.2,2705.6 625.2,2706 627.2,2706.3 629.2,2706.7 631.2,2707.1 633.2,2707.4 635.2,2707.8 637.2,2708.2 639.2,2708.5 641.2,2708.9 643.2,2709.3 645.2,2709.6 647.2,2710 649.2,2710.4 651.2,2710.8 653.2,2711.1 655.2,2711.5 657.2,2711.9 659.2,2712.3 661.2,2712.6 663.2,2713 665.2,2713.4 667.2,2713.7 669.2,2714.1 671.2,2714.5 673.2,2714.8 675.2,2715.2 677.2,2715.6 679.2,2715.9 681.2,2716.3 683.2,2716.6 685.2,2717 687.2,2717.3 689.2,2717.7 691.2,2718 693.2,2718.4 695.2,2718.7 697.2,2719 699.2,2719.4 701.2,2719.7 703.2,2720 705.2,2720.4 707.2,2720.7 709.2,2721 711.2,2721.3 713.2,2721.7 715.2,2722 717.2,2722.3 719.2,2722.6 721.2,2722.9 723.2,2723.2 725.2,2723.5 727.2,2723.8 729.2,2724.1 731.2,2724.4 733.2,2724.7 735.2,2725 737.2,2725.3 739.2,2725.6 741.2,2725.9 743.2,2726.2 745.2,2726.5 747.2,2726.8 749.2,2727.1 751.2,2727.4 753.2,2727.6 755.2,2727.9 757.2,2728.2 759.2,2728.5 761.2,2728.7 763.2,2729 765.2,2729.3 767.2,2729.5 769.2,2729.8 771.2,2730 773.2,2730.3 775.2,2730.5 777.2,2730.8 779.2,2731 781.2,2731.3 783.2,2731.5 785.2,2731.7 787.2,2732 789.2,2732.2 791.2,2732.4 793.2,2732.7 795.2,2732.9 797.2,2733.1 799.2,2733.3 801.2,2733.5 803.2,2733.7 805.2,2733.9 807.2,2734.1 809.2,2734.3 811.2,2734.5 813.2,2734.6 815.2,2734.8 817.2,2735 819.2,2735.2 821.2,2735.3 823.2,2735.5 825.2,2735.6 827.2,2735.8 829.2,2735.9 831.2,2736.1 833.2,2736.2 835.2,2736.3 837.2,2736.4 839.2,2736.6 841.2,2736.7 843.2,2736.8 845.2,2736.9 847.2,2737 849.2,2737.1 851.2,2737.2 853.2,2737.3 855.2,2737.3 857.2,2737.4 859.2,2737.5 861.2,2737.6 863.2,2737.6 865.2,2737.7 867.2,2737.7 869.2,2737.8 871.2,2737.8 873.2,2737.9 875.2,2737.9 877.2,2738 879.2,2738 881.2,2738 883.2,2738.1 885.2,2738.1 887.2,2738.1 889.2,2738.2 891.2,2738.2 893.2,2738.2 895.2,2738.2 897.2,2738.2 899.2,2738.3 901.2,2738.3 903.2,2738.3 905.2,2738.3 907.2,2738.3 909.2,2738.3 911.2,2738.3 913.2,2738.4 915.2,2738.4 917.2,2738.4 919.2,2738.4 921.2,2738.4 923.2,2738.4 925.2,2738.4 927.2,2738.4 929.2,2738.4 931.2,2738.4 933.2,2738.4 935.2,2738.4 937.2,2738.4 939.2,2738.4 941.2,2738.4 943.2,2738.4 945.2,2738.4 947.2,2738.4 949.2,2738.4 951.2,2738.4 953.2,2738.4 955.2,2738.4 957.2,2738.4 959.2,2738.4 961.2,2738.4 963.2,2738.4 965.2,2738.4 967.2,2738.4 969.2,2738.4 971.2,2738.5 973.2,2738.5 975.2,2738.5 977.2,2738.5 979.2,2738.5 981.2,2738.5 983.2,2738.5 985.2,2738.5 987.2,2738.5 989.2,2738.5 991.2,2738.5 993.2,2738.5 995.2,2738.5 997.2,2738.5 999.2,2738.5 1001.2,2738.5 1003.2,2738.5 1005.2,2738.5 1007.2,2738.5 1009.2,2738.5 1011.2,2738.5 1013.2,2738.5 1015.2,2738.5 1017.2,2738.5 1019.2,2738.5 1021.2,2738.5 1023.2,2738.5 1025.2,2738.5 1027.2,2738.5 1029.2,2738.5 1031.2,2738.5 1033.2,2738.5 1035.2,2738.5 1037.2,2738.5 1039.2,2738.5 1041.2,2738.5 1043.2,2738.5 1045.2,2738.5 1047.2,2738.5 1049.2,2738.5 1051.2,2738.5 1053.2,2738.5 1055.2,2738.5 1057.2,2738.5 1059.2,2738.5 1061.2,2738.5 1063.2,2738.5 1065.2,2738.5 1067.2,2738.5 1069.2,2738.5 1071.2,2738.5 1073.2,2738.5 1075.2,2738.5 1077.2,2738.5 1079.2,2738.5 1081.2,2738.5 1083.2,2738.5 1085.2,2738.5 1087.2,2738.5" fill="none" stroke="#b9b9b9" stroke-width="5.2" stroke-linejoin="round" stroke-linecap="butt" />
<polyline points="103.2,2689.1 105.2,2689.1 107.2,2689.1 109.2,2689.1 111.2,2689.1 113.2,2689.1 115.2,2689.1 117.2,2689.1 119.2,2689 121.2,2689 123.2,2689 125.2,2689 127.2,2689 129.2,2689 131.2,2689 133.2,2689 135.2,2689 137.2,2689 139.2,2689 141.2,2689 143.2,2689 145.2,2689 147.2,2689 149.2,2689 151.2,2688.9 153.2,2688.9 155.2,2688.9 157.2,2688.9 159.2,2688.9 161.2,2688.9 163.2,2688.9 165.2,2688.9 167.2,2688.9 169.2,2688.9 171.2,2688.9 173.2,2688.9 175.2,2688.9 177.2,2688.9 179.2,2688.8 181.2,2688.8 183.2,2688.8 185.2,2688.8 187.2,2688.8 189.2,2688.8 191.2,2688.8 193.2,2688.8 195.2,2688.8 197.2,2688.8 199.2,2688.8 201.2,2688.7 203.2,2688.7 205.2,2688.7 207.2,2688.7 209.2,2688.7 211.2,2688.7 213.2,2688.7 215.2,2688.7 217.2,2688.7 219.2,2688.7 221.2,2688.6 223.2,2688.6 225.2,2688.6 227.2,2688.6 229.2,2688.6 231.2,2688.6 233.2,2688.6 235.2,2688.6 237.2,2688.6 239.2,2688.5 241.2,2688.5 243.2,2688.5 245.2,2688.5 247.2,2688.5 249.2,2688.5 251.2,2688.5 253.2,2688.4 255.2,2688.4 257.2,2688.4 259.2,2688.4 261.2,2688.4 263.2,2688.4 265.2,2688.4 267.2,2688.3 269.2,2688.3 271.2,2688.3 273.2,2688.3 275.2,2688.3 277.2,2688.3 279.2,2688.2 281.2,2688.2 283.2,2688.2 285.2,2688.2 287.2,2688.2 289.2,2688.1 291.2,2688.1 293.2,2688.1 295.2,2688.1 297.2,2688.1 299.2,2688 301.2,2688 303.2,2688 305.2,2688 307.2,2687.9 309.2,2687.9 311.2,2687.9 313.2,2687.9 315.2,2687.8 317.2,2687.8 319.2,2687.8 321.2,2687.7 323.2,2687.7 325.2,2687.7 327.2,2687.6 329.2,2687.6 331.2,2687.6 333.2,2687.5 335.2,2687.5 337.2,2687.4 339.2,2687.4 341.2,2687.3 343.2,2687.2 345.2,2687.2 347.2,2687.1 349.2,2687 351.2,2687 353.2,2686.9 355.2,2686.8 357.2,2686.7 359.2,2686.6 361.2,2686.4 363.2,2686.3 365.2,2686.2 367.2,2686 369.2,2685.8 371.2,2685.7 373.2,2685.5 375.2,2685.2 377.2,2685 379.2,2684.7 381.2,2684.5 383.2,2684.2 385.2,2683.8 387.2,2683.5 389.2,2683.1 391.2,2682.6 393.2,2682.2 395.2,2681.7 397.2,2681.1 399.2,2680.5 401.2,2679.9 403.2,2679.2 405.2,2678.4 407.2,2677.6 409.2,2676.8 411.2,2675.8 413.2,2674.8 415.2,2673.8 417.2,2672.6 419.2,2671.4 421.2,2670 423.2,2668.6 425.2,2667.1 427.2,2665.5 429.2,2663.8 431.2,2662 433.2,2660 435.2,2658 437.2,2655.8 439.2,2653.5 441.2,2651.1 443.2,2648.5 445.2,2645.8 447.2,2643 449.2,2640.1 451.2,2637 453.2,2633.7 455.2,2630.3 457.2,2626.8 459.2,2623.1 461.2,2619.2 463.2,2615.2 465.2,2611.1 467.2,2606.8 469.2,2602.4 471.2,2597.8 473.2,2593 475.2,2588.2 477.2,2583.2 479.2,2578.1 481.2,2572.8 483.2,2567.4 485.2,2561.9 487.2,2556.3 489.2,2550.6 491.2,2544.8 493.2,2538.9 495.2,2532.9 497.2,2526.9 499.2,2520.7 501.2,2514.6 503.2,2508.3 505.2,2502 507.2,2495.7 509.2,2489.4 511.2,2483 513.2,2476.6 515.2,2470.2 517.2,2463.8 519.2,2457.4 521.2,2451 523.2,2444.7 525.2,2438.3 527.2,2432 529.2,2425.7 531.2,2419.4 533.2,2413.2 535.2,2407 537.2,2400.8 539.2,2394.6 541.2,2388.5 543.2,2382.4 545.2,2376.3 547.2,2370.3 549.2,2364.2 551.2,2358.2 553.2,2352.1 555.2,2346.1 557.2,2340 559.2,2333.9 561.2,2327.8 563.2,2321.7 565.2,2315.4 567.2,2309.2 569.2,2302.9 571.2,2296.5 573.2,2290 575.2,2283.5 577.2,2276.9 579.2,2270.1 581.2,2263.4 583.2,2256.5 585.2,2249.5 587.2,2242.5 589.2,2235.4 591.2,2228.2 593.2,2221 595.2,2213.7 597.2,2206.4 599.2,2199.1 601.2,2191.8 603.2,2184.4 605.2,2177.2 607.2,2169.9 609.2,2162.8 611.2,2155.7 613.2,2148.8 615.2,2142 617.2,2135.4 619.2,2129 621.2,2122.8 623.2,2116.9 625.2,2111.3 627.2,2105.9 629.2,2100.9 631.2,2096.2 633.2,2091.9 635.2,2088 637.2,2084.5 639.2,2081.5 641.2,2078.8 643.2,2076.6 645.2,2074.9 647.2,2073.6 649.2,2072.8 651.2,2072.5 653.2,2072.5 655.2,2073.1 657.2,2074 659.2,2075.3 661.2,2077.1 663.2,2079.2 665.2,2081.6 667.2,2084.3 669.2,2087.4 671.2,2090.7 673.2,2094.2 675.2,2097.9 677.2,2101.8 679.2,2105.9 681.2,2110 683.2,2114.3 685.2,2118.6 687.2,2123 689.2,2127.4 691.2,2131.8 693.2,2136.2 695.2,2140.5 697.2,2144.8 699.2,2149.1 701.2,2153.3 703.2,2157.4 705.2,2161.5 707.2,2165.5 709.2,2169.4 711.2,2173.3 713.2,2177 715.2,2180.8 717.2,2184.4 719.2,2188 721.2,2191.6 723.2,2195.2 725.2,2198.7 727.2,2202.2 729.2,2205.7 731.2,2209.2 733.2,2212.8 735.2,2216.4 737.2,2220 739.2,2223.7 741.2,2227.4 743.2,2231.2 745.2,2235 747.2,2239 749.2,2243 751.2,2247.1 753.2,2251.3 755.2,2255.6 757.2,2259.9 759.2,2264.4 761.2,2268.9 763.2,2273.6 765.2,2278.3 767.2,2283.2 769.2,2288.1 771.2,2293.2 773.2,2298.3 775.2,2303.6 777.2,2309 779.2,2314.5 781.2,2320.1 783.2,2325.8 785.2,2331.7 787.2,2337.6 789.2,2343.7 791.2,2350 793.2,2356.3 795.2,2362.8 797.2,2369.5 799.2,2376.3 801.2,2383.2 803.2,2390.3 805.2,2397.5 807.2,2404.8 809.2,2412.3 811.2,2419.9 813.2,2427.7 815.2,2435.5 817.2,2443.5 819.2,2451.5 821.2,2459.7 823.2,2467.9 825.2,2476.2 827.2,2484.6 829.2,2493 831.2,2501.4 833.2,2509.9 835.2,2518.3 837.2,2526.7 839.2,2535.1 841.2,2543.5 843.2,2551.7 845.2,2559.9 847.2,2568 849.2,2575.9 851.2,2583.7 853.2,2591.4 855.2,2598.9 857.2,2606.2 859.2,2613.4 861.2,2620.3 863.2,2627.1 865.2,2633.6 867.2,2639.9 869.2,2646 871.2,2651.8 873.2,2657.4 875.2,2662.7 877.2,2667.9 879.2,2672.7 881.2,2677.4 883.2,2681.7 885.2,2685.9 887.2,2689.8 889.2,2693.5 891.2,2697 893.2,2700.2 895.2,2703.3 897.2,2706.1 899.2,2708.8 901.2,2711.2 903.2,2713.5 905.2,2715.6 907.2,2717.6 909.2,2719.4 911.2,2721 913.2,2722.5 915.2,2723.9 917.2,2725.2 919.2,2726.3 921.2,2727.4 923.2,2728.4 925.2,2729.2 927.2,2730 929.2,2730.7 931.2,2731.4 933.2,2731.9 935.2,2732.5 937.2,2732.9 939.2,2733.3 941.2,2733.7 943.2,2734 945.2,2734.3 947.2,2734.6 949.2,2734.8 951.2,2735.1 953.2,2735.2 955.2,2735.4 957.2,2735.6 959.2,2735.7 961.2,2735.8 963.2,2735.9 965.2,2736 967.2,2736.1 969.2,2736.2 971.2,2736.3 973.2,2736.3 975.2,2736.4 977.2,2736.4 979.2,2736.5 981.2,2736.5 983.2,2736.6 985.2,2736.6 987.2,2736.6 989.2,2736.7 991.2,2736.7 993.2,2736.7 995.2,2736.8 997.2,2736.8 999.2,2736.8 1001.2,2736.8 1003.2,2736.8 1005.2,2736.9 1007.2,2736.9 1009.2,2736.9 1011.2,2736.9 1013.2,2736.9 1015.2,2737 1017.2,2737 1019.2,2737 1021.2,2737 1023.2,2737 1025.2,2737.1 1027.2,2737.1 1029.2,2737.1 1031.2,2737.1 1033.2,2737.1 1035.2,2737.1 1037.2,2737.1 1039.2,2737.2 1041.2,2737.2 1043.2,2737.2 1045.2,2737.2 1047.2,2737.2 1049.2,2737.2 1051.2,2737.2 1053.2,2737.3 1055.2,2737.3 1057.2,2737.3 1059.2,2737.3 1061.2,2737.3 1063.2,2737.3 1065.2,2737.3 1067.2,2737.3 1069.2,2737.4 1071.2,2737.4 1073.2,2737.4 1075.2,2737.4 1077.2,2737.4 1079.2,2737.4 1081.2,2737.4 1083.2,2737.4 1085.2,2737.4 1087.2,2737.5" fill="none" stroke="#ff00ff" stroke-width="5.7" stroke-linejoin="round" stroke-linecap="butt" />
<rect x="103.2" y="1978" width="985.2" height="835.3" fill="none" stroke="#000" stroke-width="6"/>
<line x1="103.2" y1="2813.3" x2="103.2" y2="2830.3" stroke="#000000" stroke-width="5.5" stroke-linecap="butt"/>
<text transform="translate(103.2 2874) scale(1 1.055)" font-family='"Liberation Sans", Arial, Helvetica, sans-serif' font-weight="bold" font-size="43.8" fill="#000000" text-anchor="middle" >540</text>
<line x1="314.3" y1="2813.3" x2="314.3" y2="2830.3" stroke="#000000" stroke-width="5.5" stroke-linecap="butt"/>
<text transform="translate(314.3 2874) scale(1 1.055)" font-family='"Liberation Sans", Arial, Helvetica, sans-serif' font-weight="bold" font-size="43.8" fill="#000000" text-anchor="middle" >537</text>
<line x1="525.4" y1="2813.3" x2="525.4" y2="2830.3" stroke="#000000" stroke-width="5.5" stroke-linecap="butt"/>
<text transform="translate(525.4 2874) scale(1 1.055)" font-family='"Liberation Sans", Arial, Helvetica, sans-serif' font-weight="bold" font-size="43.8" fill="#000000" text-anchor="middle" >534</text>
<line x1="736.5" y1="2813.3" x2="736.5" y2="2830.3" stroke="#000000" stroke-width="5.5" stroke-linecap="butt"/>
<text transform="translate(736.5 2874) scale(1 1.055)" font-family='"Liberation Sans", Arial, Helvetica, sans-serif' font-weight="bold" font-size="43.8" fill="#000000" text-anchor="middle" >531</text>
<line x1="947.7" y1="2813.3" x2="947.7" y2="2830.3" stroke="#000000" stroke-width="5.5" stroke-linecap="butt"/>
<text transform="translate(947.7 2874) scale(1 1.055)" font-family='"Liberation Sans", Arial, Helvetica, sans-serif' font-weight="bold" font-size="43.8" fill="#000000" text-anchor="middle" >528</text>
<line x1="208.8" y1="2813.3" x2="208.8" y2="2822.8" stroke="#000000" stroke-width="5.5" stroke-linecap="butt"/>
<line x1="419.9" y1="2813.3" x2="419.9" y2="2822.8" stroke="#000000" stroke-width="5.5" stroke-linecap="butt"/>
<line x1="631" y1="2813.3" x2="631" y2="2822.8" stroke="#000000" stroke-width="5.5" stroke-linecap="butt"/>
<line x1="842.1" y1="2813.3" x2="842.1" y2="2822.8" stroke="#000000" stroke-width="5.5" stroke-linecap="butt"/>
<line x1="1053.2" y1="2813.3" x2="1053.2" y2="2822.8" stroke="#000000" stroke-width="5.5" stroke-linecap="butt"/>
<text transform="translate(595.8 2922.7) scale(1 1.04)" font-family='"Liberation Sans", Arial, Helvetica, sans-serif' font-weight="bold" font-size="58.1" fill="#000000" text-anchor="middle" >Binding energy (eV)</text>
<text transform="translate(84 2395.7) rotate(-90) scale(1 1.035)" font-family='"Liberation Sans", Arial, Helvetica, sans-serif' font-weight="bold" font-size="58" fill="#000000" text-anchor="middle" >Intensity (a.u.)</text>
<text transform="translate(123.4 2037.3) scale(1 1.055)" font-family='"Liberation Sans", Arial, Helvetica, sans-serif' font-weight="bold" font-size="57.5" fill="#000000" text-anchor="start" >O 1s</text>
<text transform="translate(1080.5 2027.5) scale(1.06 1)" font-family='"Liberation Serif", "Times New Roman", serif' font-weight="bold" font-size="56.6" fill="#000000" text-anchor="end" >(e)</text>
<text transform="translate(667.5 2380.8) rotate(-90) scale(1 1.055)" font-family='"Liberation Sans", Arial, Helvetica, sans-serif' font-weight="bold" font-size="51.6" fill="#0000ff" text-anchor="start" >532.2</text>
<text transform="translate(572.4 2586.3) rotate(-90) scale(1 1.055)" font-family='"Liberation Sans", Arial, Helvetica, sans-serif' font-weight="bold" font-size="51.5" fill="#00ffff" text-anchor="start" >533.6</text>
<text transform="translate(758 2568.3) rotate(-90) scale(1 1.055)" font-family='"Liberation Sans", Arial, Helvetica, sans-serif' font-weight="bold" font-size="51.5" fill="#00ff00" text-anchor="start" >531.0</text>
<text transform="translate(828 2667.1) rotate(-90) scale(1 1.055)" font-family='"Liberation Sans", Arial, Helvetica, sans-serif' font-weight="bold" font-size="51.4" fill="#ff0000" text-anchor="start" >530.0</text>
<polyline points="1198.4,2671.9 1211.8,2650.1 1223.6,2668.6 1228.6,2668.6 1233.6,2656.8 1241,2674.6 1248.7,2667.9 1257.1,2670.2 1264.5,2677.9 1272.2,2656.8 1278.9,2660.2 1287.3,2655.8 1294.7,2657.8 1302.4,2653.5 1310.1,2663.5 1317.5,2640 1324.9,2650.1 1332.6,2654.5 1341,2645.1 1347.7,2646.7 1354.4,2655.8 1362.8,2651.8 1370.5,2648.4 1375.2,2650.1 1384.6,2639 1391.3,2636.7 1401.4,2640 1408.1,2666.9 1415.5,2626.6 1421.5,2614.9 1429.9,2593.1 1438.3,2590.7 1446.7,2581.3 1454.4,2572.9 1461.1,2572.9 1468.5,2544.4 1483.6,2557.8 1492,2543.7 1499.4,2561.2 1507.1,2507.5 1513.8,2516.9 1522.2,2517.6 1528.9,2524.3 1536.6,2490.1 1544,2512.5 1552.4,2522.6 1559.7,2488 1567.5,2498.1 1574.8,2494.1 1583.2,2509.2 1589.3,2510.9 1597.7,2498.1 1605.4,2542.7 1612.8,2541.7 1621.2,2534.3 1627.9,2551.1 1636.2,2569.6 1643,2571.2 1651.3,2580.6 1658.1,2578 1666.4,2614.9 1673.2,2616.5 1681.5,2605.5 1688.3,2618.2 1690,2624.7 1696.9,2638.5 1703.7,2616.1 1710.6,2612.7 1717.5,2597.2 1721.6,2590.3 1727.1,2609.2 1734.7,2576.6 1745,2550.8 1751.2,2552.6 1758.7,2501 1770.7,2408.2 1782.8,2370.5 1793.1,2332.7 1808.5,2329.2 1817.1,2349.8 1825.7,2370.5 1837.7,2315.5 1849.8,2257.1 1858.4,2233 1868.7,2133.4 1877.3,2085.3 1885.8,2041.3 1894.4,2099 1903,2178 1913.3,2294.9 1930.5,2415.1 1937.4,2449.5 1946,2507.9 1954.6,2559.4 1964.9,2604.1 1975.2,2635 1985.5,2662.5 1992.4,2650.5 2000.9,2679.7 2009.5,2684.8 2021.6,2688.3 2033.6,2688.3 2038.7,2690 2047.3,2698.6 2059.4,2703.7 2069.7,2710.6 2075.5,2702 2081.7,2719.2 2090.3,2708.9 2097.1,2724.3 2105.7,2726.1 2114.3,2705.4 2121.2,2695.1 2128.1,2717.5 2136.7,2719.2 2143.5,2724.3 2150.4,2731.2 2159,2707.2 2165.9,2724.3 2172.7,2717.5 2179.6,2724.3" fill="none" stroke="#000000" stroke-width="5.2" stroke-linejoin="round" stroke-linecap="butt" />
<polyline points="1269,2673.3 1271,2673.3 1273,2673.2 1275,2673.1 1277,2673.1 1279,2673 1281,2672.9 1283,2672.9 1285,2672.8 1287,2672.7 1289,2672.6 1291,2672.5 1293,2672.4 1295,2672.2 1297,2672.1 1299,2672 1301,2671.8 1303,2671.7 1305,2671.5 1307,2671.3 1309,2671.1 1311,2670.9 1313,2670.7 1315,2670.5 1317,2670.3 1319,2670 1321,2669.8 1323,2669.5 1325,2669.2 1327,2668.9 1329,2668.6 1331,2668.2 1333,2667.9 1335,2667.5 1337,2667.1 1339,2666.7 1341,2666.3 1343,2665.9 1345,2665.4 1347,2664.9 1349,2664.4 1351,2663.8 1353,2663.3 1355,2662.7 1357,2662.1 1359,2661.4 1361,2660.7 1363,2660 1365,2659.3 1367,2658.5 1369,2657.7 1371,2656.9 1373,2656 1375,2655.1 1377,2654.2 1379,2653.3 1381,2652.3 1383,2651.2 1385,2650.2 1387,2649.1 1389,2647.9 1391,2646.7 1393,2645.5 1395,2644.3 1397,2643 1399,2641.6 1401,2640.3 1403,2638.9 1405,2637.4 1407,2635.9 1409,2634.4 1411,2632.9 1413,2631.2 1415,2629.6 1417,2627.9 1419,2626.2 1421,2624.5 1423,2622.7 1425,2620.8 1427,2619 1429,2617.1 1431,2615.1 1433,2613.2 1435,2611.2 1437,2609.1 1439,2607.1 1441,2605 1443,2602.9 1445,2600.7 1447,2598.6 1449,2596.4 1451,2594.2 1453,2592 1455,2589.7 1457,2587.5 1459,2585.2 1461,2583 1463,2580.7 1465,2578.4 1467,2576.2 1469,2573.9 1471,2571.6 1473,2569.4 1475,2567.1 1477,2564.9 1479,2562.6 1481,2560.4 1483,2558.1 1485,2555.9 1487,2553.7 1489,2551.6 1491,2549.4 1493,2547.3 1495,2545.2 1497,2543.2 1499,2541.1 1501,2539.2 1503,2537.2 1505,2535.3 1507,2533.5 1509,2531.6 1511,2529.9 1513,2528.2 1515,2526.5 1517,2524.9 1519,2523.4 1521,2521.9 1523,2520.5 1525,2519.2 1527,2517.9 1529,2516.7 1531,2515.6 1533,2514.5 1535,2513.6 1537,2512.7 1539,2511.8 1541,2511.1 1543,2510.4 1545,2509.9 1547,2509.4 1549,2509 1551,2508.6 1553,2508.4 1555,2508.3 1557,2508.2 1559,2508.2 1561,2508.3 1563,2508.5 1565,2508.8 1567,2509.2 1569,2509.7 1571,2510.2 1573,2510.9 1575,2511.6 1577,2512.4 1579,2513.3 1581,2514.3 1583,2515.4 1585,2516.5 1587,2517.7 1589,2519 1591,2520.4 1593,2521.8 1595,2523.3 1597,2524.9 1599,2526.6 1601,2528.3 1603,2530.1 1605,2531.9 1607,2533.8 1609,2535.7 1611,2537.7 1613,2539.8 1615,2541.9 1617,2544 1619,2546.2 1621,2548.4 1623,2550.6 1625,2552.9 1627,2555.3 1629,2557.6 1631,2560 1633,2562.4 1635,2564.8 1637,2567.2 1639,2569.7 1641,2572.1 1643,2574.6 1645,2577 1647,2579.5 1649,2582 1651,2584.5 1653,2586.9 1655,2589.4 1657,2591.9 1659,2594.3 1661,2596.7 1663,2599.2 1665,2601.6 1667,2604 1669,2606.3 1671,2608.7 1673,2611 1675,2613.3 1677,2615.5 1679,2617.8 1681,2620 1683,2622.2 1685,2624.3 1687,2626.4 1689,2628.5 1691,2630.6 1693,2632.6 1695,2634.6 1697,2636.5 1699,2638.4 1701,2640.3 1703,2642.1 1705,2643.9 1707,2645.7 1709,2647.4 1711,2649 1713,2650.7 1715,2652.3 1717,2653.8 1719,2655.3 1721,2656.8 1723,2658.3 1725,2659.7 1727,2661 1729,2662.3 1731,2663.6 1733,2664.9 1735,2666.1 1737,2667.2 1739,2668.4 1741,2669.5 1743,2670.5 1745,2671.6 1747,2672.6 1749,2673.5 1751,2674.5 1753,2675.4 1755,2676.3 1757,2677.1 1759,2678 1761,2678.8 1763,2679.6 1765,2680.4 1767,2681.2 1769,2681.9 1771,2682.7 1773,2683.4 1775,2684.2 1777,2684.9 1779,2685.6 1781,2686.3 1783,2687 1785,2687.7 1787,2688.4 1789,2689 1791,2689.6 1793,2690.2 1795,2690.8 1797,2691.4 1799,2691.9 1801,2692.4 1803,2693 1805,2693.5 1807,2694 1809,2694.5 1811,2694.9 1813,2695.4 1815,2695.9 1817,2696.3 1819,2696.7 1821,2697.2 1823,2697.6 1825,2698 1827,2698.4 1829,2698.8 1831,2699.2 1833,2699.6 1835,2699.9 1837,2700.3 1839,2700.7 1841,2701.1 1843,2701.5 1845,2701.9 1847,2702.4 1849,2702.8" fill="none" stroke="#e07d1c" stroke-width="5" stroke-linejoin="round" stroke-linecap="butt" />
<polyline points="1799,2695.5 1801,2695.8 1803,2696 1805,2696.3 1807,2696.5 1809,2696.7 1811,2697 1813,2697.2 1815,2697.4 1817,2697.7 1819,2697.9 1821,2698.1 1823,2698.3 1825,2698.5 1827,2698.7 1829,2698.9 1831,2699 1833,2699.1 1835,2699.3 1837,2699.4 1839,2699.4 1841,2699.5 1843,2699.5 1845,2699.4 1847,2699.3 1849,2699.2 1851,2698.9 1853,2698.6 1855,2698.2 1857,2697.6 1859,2696.9 1861,2696.1 1863,2695.1 1865,2693.8 1867,2692.4 1869,2690.8 1871,2688.9 1873,2686.7 1875,2684.3 1877,2681.5 1879,2678.5 1881,2675.1 1883,2671.4 1885,2667.4 1887,2663.1 1889,2658.4 1891,2653.4 1893,2648.2 1895,2642.6 1897,2636.8 1899,2630.8 1901,2624.6 1903,2618.3 1905,2611.9 1907,2605.4 1909,2599 1911,2592.7 1913,2586.5 1915,2580.5 1917,2574.8 1919,2569.5 1921,2564.6 1923,2560.1 1925,2556.2 1927,2553 1929,2550.3 1931,2548.4 1933,2547.3 1935,2546.9 1937,2547.3 1939,2548.5 1941,2550.4 1943,2553.1 1945,2556.4 1947,2560.4 1949,2565.1 1951,2570.2 1953,2575.8 1955,2581.8 1957,2588.2 1959,2594.8 1961,2601.6 1963,2608.5 1965,2615.4 1967,2622.4 1969,2629.2 1971,2636 1973,2642.6 1975,2649.1 1977,2655.2 1979,2661.2 1981,2666.8 1983,2672.1 1985,2677.1 1987,2681.8 1989,2686.2 1991,2690.2 1993,2694 1995,2697.4 1997,2700.5 1999,2703.3 2001,2705.8 2003,2708.1 2005,2710.1 2007,2711.9 2009,2713.5 2011,2714.9 2013,2716.1 2015,2717.2 2017,2718.1 2019,2718.9 2021,2719.6 2023,2720.2 2025,2720.7 2027,2721.1 2029,2721.4 2031,2721.8 2033,2722 2035,2722.3 2037,2722.5 2039,2722.6 2041,2722.8 2043,2722.9 2045,2723 2047,2723.1 2049,2723.2 2051,2723.3 2053,2723.3 2055,2723.4 2057,2723.4 2059,2723.5 2061,2723.5 2063,2723.6 2065,2723.6 2067,2723.6 2069,2723.7 2071,2723.7 2073,2723.7" fill="none" stroke="#ff0000" stroke-width="5" stroke-linejoin="round" stroke-linecap="butt" />
<polyline points="1771,2691.8 1773,2691.8 1775,2691.8 1777,2691.7 1779,2691.5 1781,2691.3 1783,2690.9 1785,2690.4 1787,2689.8 1789,2689 1791,2688 1793,2686.7 1795,2685.2 1797,2683.3 1799,2681.1 1801,2678.5 1803,2675.3 1805,2671.7 1807,2667.5 1809,2662.7 1811,2657.1 1813,2650.8 1815,2643.7 1817,2635.7 1819,2626.7 1821,2616.8 1823,2605.8 1825,2593.7 1827,2580.5 1829,2566.2 1831,2550.7 1833,2534.1 1835,2516.4 1837,2497.6 1839,2477.8 1841,2457.1 1843,2435.6 1845,2413.4 1847,2390.6 1849,2367.5 1851,2344.1 1853,2320.7 1855,2297.4 1857,2274.6 1859,2252.3 1861,2231 1863,2210.6 1865,2191.6 1867,2174.1 1869,2158.3 1871,2144.5 1873,2132.7 1875,2123.2 1877,2116 1879,2111.3 1881,2109.2 1883,2109.5 1885,2112.5 1887,2117.9 1889,2125.9 1891,2136.2 1893,2148.7 1895,2163.3 1897,2179.9 1899,2198.2 1901,2218 1903,2239.1 1905,2261.3 1907,2284.3 1909,2307.9 1911,2331.9 1913,2356.1 1915,2380.2 1917,2404.1 1919,2427.5 1921,2450.4 1923,2472.6 1925,2493.9 1927,2514.2 1929,2533.5 1931,2551.8 1933,2568.9 1935,2584.9 1937,2599.8 1939,2613.5 1941,2626.1 1943,2637.6 1945,2648.1 1947,2657.5 1949,2666 1951,2673.6 1953,2680.4 1955,2686.4 1957,2691.7 1959,2696.4 1961,2700.4 1963,2703.9 1965,2707 1967,2709.6 1969,2711.8 1971,2713.7 1973,2715.4 1975,2716.8 1977,2717.9 1979,2718.9 1981,2719.8 1983,2720.5 1985,2721.1 1987,2721.6 1989,2722 1991,2722.4 1993,2722.7" fill="none" stroke="#00ff00" stroke-width="5" stroke-linejoin="round" stroke-linecap="butt" />
<polyline points="1615,2683.8 1617,2683.9 1619,2684 1621,2684 1623,2684.1 1625,2684.2 1627,2684.2 1629,2684.3 1631,2684.4 1633,2684.4 1635,2684.5 1637,2684.6 1639,2684.6 1641,2684.7 1643,2684.8 1645,2684.8 1647,2684.9 1649,2685 1651,2685 1653,2685.1 1655,2685.1 1657,2685.2 1659,2685.3 1661,2685.3 1663,2685.4 1665,2685.4 1667,2685.5 1669,2685.5 1671,2685.5 1673,2685.6 1675,2685.6 1677,2685.7 1679,2685.7 1681,2685.7 1683,2685.7 1685,2685.7 1687,2685.7 1689,2685.7 1691,2685.7 1693,2685.7 1695,2685.6 1697,2685.6 1699,2685.5 1701,2685.3 1703,2685.1 1705,2684.9 1707,2684.7 1709,2684.3 1711,2683.9 1713,2683.4 1715,2682.8 1717,2682.1 1719,2681.2 1721,2680.2 1723,2679 1725,2677.5 1727,2675.9 1729,2674 1731,2671.8 1733,2669.3 1735,2666.5 1737,2663.3 1739,2659.7 1741,2655.6 1743,2651.1 1745,2646.1 1747,2640.5 1749,2634.5 1751,2627.9 1753,2620.7 1755,2613 1757,2604.8 1759,2596 1761,2586.7 1763,2576.9 1765,2566.8 1767,2556.2 1769,2545.3 1771,2534.2 1773,2523 1775,2511.7 1777,2500.4 1779,2489.2 1781,2478.3 1783,2467.8 1785,2457.7 1787,2448.2 1789,2439.5 1791,2431.6 1793,2424.6 1795,2418.7 1797,2414 1799,2410.4 1801,2408.2 1803,2407.2 1805,2407.6 1807,2409.4 1809,2412.4 1811,2416.8 1813,2422.3 1815,2428.9 1817,2436.6 1819,2445.3 1821,2454.7 1823,2464.8 1825,2475.6 1827,2486.7 1829,2498.2 1831,2510 1833,2521.8 1835,2533.6 1837,2545.4 1839,2557 1841,2568.3 1843,2579.3 1845,2589.9 1847,2600.1 1849,2609.8 1851,2618.9 1853,2627.6 1855,2635.7 1857,2643.2 1859,2650.2 1861,2656.7 1863,2662.6 1865,2668.1 1867,2673 1869,2677.5 1871,2681.5 1873,2685.2 1875,2688.4 1877,2691.4 1879,2694 1881,2696.3 1883,2698.4 1885,2700.3 1887,2702 1889,2703.5 1891,2704.8 1893,2706 1895,2707.1 1897,2708.1 1899,2709 1901,2709.8 1903,2710.6 1905,2711.3 1907,2712 1909,2712.6 1911,2713.2 1913,2713.7 1915,2714.2 1917,2714.7 1919,2715.1 1921,2715.5 1923,2715.9 1925,2716.3 1927,2716.6 1929,2716.9 1931,2717.2 1933,2717.5 1935,2717.8 1937,2718.1 1939,2718.3 1941,2718.6 1943,2718.9 1945,2719.1 1947,2719.4 1949,2719.6 1951,2719.8 1953,2720.1 1955,2720.3 1957,2720.5 1959,2720.7 1961,2720.8 1963,2721 1965,2721.1 1967,2721.3 1969,2721.4 1971,2721.5 1973,2721.6 1975,2721.8 1977,2721.9 1979,2722 1981,2722.1 1983,2722.2 1985,2722.3 1987,2722.4 1989,2722.5 1991,2722.6 1993,2722.7" fill="none" stroke="#0000ff" stroke-width="5" stroke-linejoin="round" stroke-linecap="butt" />
<polyline points="1661,2685.8 1663,2685.8 1665,2685.8 1667,2685.7 1669,2685.7 1671,2685.5 1673,2685.4 1675,2685.2 1677,2684.9 1679,2684.6 1681,2684.3 1683,2683.8 1685,2683.3 1687,2682.7 1689,2681.9 1691,2681.1 1693,2680.1 1695,2679.1 1697,2677.8 1699,2676.4 1701,2674.8 1703,2673.1 1705,2671.1 1707,2669 1709,2666.7 1711,2664.1 1713,2661.4 1715,2658.5 1717,2655.3 1719,2652 1721,2648.5 1723,2644.9 1725,2641.1 1727,2637.1 1729,2633.1 1731,2629.1 1733,2624.9 1735,2620.8 1737,2616.8 1739,2612.8 1741,2609 1743,2605.3 1745,2601.8 1747,2598.6 1749,2595.7 1751,2593.1 1753,2590.8 1755,2589 1757,2587.6 1759,2586.7 1761,2586.2 1763,2586.3 1765,2586.8 1767,2587.8 1769,2589.3 1771,2591.2 1773,2593.5 1775,2596.3 1777,2599.4 1779,2602.8 1781,2606.5 1783,2610.5 1785,2614.6 1787,2618.9 1789,2623.3 1791,2627.8 1793,2632.2 1795,2636.7 1797,2641.1 1799,2645.5 1801,2649.7 1803,2653.8 1805,2657.8 1807,2661.6 1809,2665.2 1811,2668.6 1813,2671.8 1815,2674.9 1817,2677.7 1819,2680.3 1821,2682.7 1823,2684.9 1825,2687 1827,2688.8 1829,2690.5 1831,2692.1 1833,2693.5 1835,2694.8 1837,2696 1839,2697 1841,2698 1843,2698.9 1845,2699.8 1847,2700.6 1849,2701.3 1851,2702 1853,2702.6 1855,2703.2 1857,2703.8 1859,2704.4 1861,2704.9 1863,2705.4 1865,2705.9" fill="none" stroke="#00ffff" stroke-width="5" stroke-linejoin="round" stroke-linecap="butt" />
<polyline points="1197,2673.6 1199,2673.6 1201,2673.6 1203,2673.7 1205,2673.7 1207,2673.7 1209,2673.7 1211,2673.7 1213,2673.7 1215,2673.7 1217,2673.8 1219,2673.8 1221,2673.8 1223,2673.8 1225,2673.8 1227,2673.8 1229,2673.9 1231,2673.9 1233,2673.9 1235,2673.9 1237,2673.9 1239,2673.9 1241,2673.9 1243,2674 1245,2674 1247,2674 1249,2674 1251,2674 1253,2674 1255,2674.1 1257,2674.1 1259,2674.1 1261,2674.1 1263,2674.1 1265,2674.1 1267,2674.2 1269,2674.2 1271,2674.2 1273,2674.2 1275,2674.2 1277,2674.2 1279,2674.2 1281,2674.3 1283,2674.3 1285,2674.3 1287,2674.3 1289,2674.3 1291,2674.3 1293,2674.4 1295,2674.4 1297,2674.4 1299,2674.4 1301,2674.4 1303,2674.4 1305,2674.5 1307,2674.5 1309,2674.5 1311,2674.5 1313,2674.5 1315,2674.5 1317,2674.6 1319,2674.6 1321,2674.6 1323,2674.6 1325,2674.6 1327,2674.7 1329,2674.7 1331,2674.7 1333,2674.8 1335,2674.8 1337,2674.8 1339,2674.9 1341,2674.9 1343,2674.9 1345,2675 1347,2675 1349,2675 1351,2675.1 1353,2675.1 1355,2675.2 1357,2675.2 1359,2675.2 1361,2675.3 1363,2675.3 1365,2675.3 1367,2675.4 1369,2675.4 1371,2675.4 1373,2675.5 1375,2675.5 1377,2675.5 1379,2675.6 1381,2675.6 1383,2675.7 1385,2675.7 1387,2675.7 1389,2675.8 1391,2675.8 1393,2675.8 1395,2675.9 1397,2675.9 1399,2675.9 1401,2676 1403,2676 1405,2676.1 1407,2676.1 1409,2676.1 1411,2676.2 1413,2676.2 1415,2676.2 1417,2676.3 1419,2676.3 1421,2676.3 1423,2676.4 1425,2676.4 1427,2676.4 1429,2676.5 1431,2676.5 1433,2676.6 1435,2676.6 1437,2676.6 1439,2676.7 1441,2676.7 1443,2676.7 1445,2676.8 1447,2676.8 1449,2676.9 1451,2676.9 1453,2677 1455,2677 1457,2677.1 1459,2677.1 1461,2677.2 1463,2677.3 1465,2677.4 1467,2677.5 1469,2677.5 1471,2677.6 1473,2677.7 1475,2677.8 1477,2677.9 1479,2678 1481,2678.1 1483,2678.2 1485,2678.3 1487,2678.4 1489,2678.5 1491,2678.6 1493,2678.7 1495,2678.8 1497,2678.9 1499,2679 1501,2679.1 1503,2679.2 1505,2679.3 1507,2679.4 1509,2679.5 1511,2679.6 1513,2679.7 1515,2679.8 1517,2679.9 1519,2680 1521,2680.1 1523,2680.2 1525,2680.3 1527,2680.4 1529,2680.5 1531,2680.6 1533,2680.7 1535,2680.8 1537,2680.9 1539,2681 1541,2681.1 1543,2681.2 1545,2681.3 1547,2681.4 1549,2681.5 1551,2681.6 1553,2681.7 1555,2681.8 1557,2681.9 1559,2682 1561,2682.1 1563,2682.1 1565,2682.2 1567,2682.3 1569,2682.4 1571,2682.5 1573,2682.6 1575,2682.7 1577,2682.8 1579,2682.9 1581,2683 1583,2683.1 1585,2683.2 1587,2683.3 1589,2683.4 1591,2683.5 1593,2683.6 1595,2683.7 1597,2683.8 1599,2683.9 1601,2684 1603,2684.1 1605,2684.2 1607,2684.3 1609,2684.3 1611,2684.4 1613,2684.5 1615,2684.6 1617,2684.7 1619,2684.8 1621,2684.9 1623,2685 1625,2685.1 1627,2685.2 1629,2685.2 1631,2685.3 1633,2685.4 1635,2685.5 1637,2685.6 1639,2685.7 1641,2685.8 1643,2685.9 1645,2686 1647,2686.1 1649,2686.1 1651,2686.2 1653,2686.3 1655,2686.4 1657,2686.5 1659,2686.6 1661,2686.7 1663,2686.8 1665,2686.9 1667,2687 1669,2687.1 1671,2687.1 1673,2687.2 1675,2687.3 1677,2687.4 1679,2687.5 1681,2687.6 1683,2687.7 1685,2687.8 1687,2687.9 1689,2688 1691,2688.1 1693,2688.2 1695,2688.3 1697,2688.4 1699,2688.5 1701,2688.6 1703,2688.7 1705,2688.8 1707,2688.9 1709,2689 1711,2689.1 1713,2689.2 1715,2689.3 1717,2689.4 1719,2689.5 1721,2689.6 1723,2689.7 1725,2689.8 1727,2689.9 1729,2690 1731,2690.1 1733,2690.2 1735,2690.3 1737,2690.4 1739,2690.5 1741,2690.6 1743,2690.7 1745,2690.8 1747,2690.9 1749,2691 1751,2691.1 1753,2691.2 1755,2691.3 1757,2691.4 1759,2691.6 1761,2691.7 1763,2691.9 1765,2692 1767,2692.2 1769,2692.4 1771,2692.6 1773,2692.8 1775,2693.1 1777,2693.3 1779,2693.6 1781,2693.9 1783,2694.1 1785,2694.4 1787,2694.7 1789,2695 1791,2695.2 1793,2695.5 1795,2695.8 1797,2696 1799,2696.3 1801,2696.6 1803,2696.9 1805,2697.1 1807,2697.4 1809,2697.7 1811,2698 1813,2698.2 1815,2698.5 1817,2698.8 1819,2699.1 1821,2699.3 1823,2699.6 1825,2699.9 1827,2700.2 1829,2700.4 1831,2700.7 1833,2701 1835,2701.3 1837,2701.6 1839,2701.9 1841,2702.2 1843,2702.5 1845,2702.9 1847,2703.2 1849,2703.6 1851,2704 1853,2704.4 1855,2704.7 1857,2705.1 1859,2705.5 1861,2705.9 1863,2706.3 1865,2706.7 1867,2707.1 1869,2707.5 1871,2707.9 1873,2708.4 1875,2708.8 1877,2709.2 1879,2709.6 1881,2710 1883,2710.4 1885,2710.8 1887,2711.2 1889,2711.6 1891,2712 1893,2712.4 1895,2712.8 1897,2713.2 1899,2713.6 1901,2714 1903,2714.4 1905,2714.8 1907,2715.2 1909,2715.5 1911,2715.9 1913,2716.3 1915,2716.7 1917,2717 1919,2717.3 1921,2717.6 1923,2717.9 1925,2718.2 1927,2718.5 1929,2718.7 1931,2719 1933,2719.2 1935,2719.4 1937,2719.6 1939,2719.9 1941,2720.1 1943,2720.3 1945,2720.5 1947,2720.7 1949,2720.9 1951,2721.1 1953,2721.3 1955,2721.5 1957,2721.7 1959,2721.8 1961,2722 1963,2722.1 1965,2722.2 1967,2722.3 1969,2722.5 1971,2722.5 1973,2722.6 1975,2722.7 1977,2722.8 1979,2722.9 1981,2723 1983,2723.1 1985,2723.2 1987,2723.3 1989,2723.4 1991,2723.5 1993,2723.5 1995,2723.6 1997,2723.7 1999,2723.8 2001,2723.9 2003,2724 2005,2724 2007,2724.1 2009,2724.1 2011,2724.2 2013,2724.2 2015,2724.3 2017,2724.3 2019,2724.3 2021,2724.3 2023,2724.3 2025,2724.4 2027,2724.4 2029,2724.4 2031,2724.4 2033,2724.4 2035,2724.4 2037,2724.4 2039,2724.4 2041,2724.4 2043,2724.4 2045,2724.4 2047,2724.4 2049,2724.5 2051,2724.5 2053,2724.5 2055,2724.5 2057,2724.5 2059,2724.5 2061,2724.5 2063,2724.5 2065,2724.5 2067,2724.5 2069,2724.5 2071,2724.5 2073,2724.6 2075,2724.6 2077,2724.6 2079,2724.6 2081,2724.6 2083,2724.6 2085,2724.6 2087,2724.6 2089,2724.6 2091,2724.6 2093,2724.6 2095,2724.6 2097,2724.6 2099,2724.7 2101,2724.7 2103,2724.7 2105,2724.7 2107,2724.7 2109,2724.7 2111,2724.7 2113,2724.7 2115,2724.7 2117,2724.7 2119,2724.7 2121,2724.7 2123,2724.8 2125,2724.8 2127,2724.8 2129,2724.8 2131,2724.8 2133,2724.8 2135,2724.8 2137,2724.8 2139,2724.8 2141,2724.8 2143,2724.8 2145,2724.8 2147,2724.8 2149,2724.9 2151,2724.9 2153,2724.9 2155,2724.9 2157,2724.9 2159,2724.9 2161,2724.9 2163,2724.9 2165,2724.9 2167,2724.9 2169,2724.9 2171,2724.9 2173,2724.9 2175,2725 2177,2725 2179,2725 2181,2725" fill="none" stroke="#b9b9b9" stroke-width="5.2" stroke-linejoin="round" stroke-linecap="butt" />
<polyline points="1197,2673.5 1199,2673.5 1201,2673.5 1203,2673.5 1205,2673.5 1207,2673.5 1209,2673.5 1211,2673.5 1213,2673.5 1215,2673.5 1217,2673.5 1219,2673.5 1221,2673.5 1223,2673.5 1225,2673.5 1227,2673.5 1229,2673.5 1231,2673.5 1233,2673.5 1235,2673.5 1237,2673.5 1239,2673.5 1241,2673.5 1243,2673.5 1245,2673.5 1247,2673.5 1249,2673.5 1251,2673.4 1253,2673.4 1255,2673.4 1257,2673.4 1259,2673.3 1261,2673.3 1263,2673.3 1265,2673.2 1267,2673.2 1269,2673.1 1271,2673.1 1273,2673 1275,2673 1277,2672.9 1279,2672.8 1281,2672.8 1283,2672.7 1285,2672.6 1287,2672.5 1289,2672.4 1291,2672.3 1293,2672.2 1295,2672.1 1297,2671.9 1299,2671.8 1301,2671.6 1303,2671.5 1305,2671.3 1307,2671.1 1309,2670.9 1311,2670.7 1313,2670.5 1315,2670.3 1317,2670.1 1319,2669.8 1321,2669.6 1323,2669.3 1325,2669 1327,2668.7 1329,2668.4 1331,2668 1333,2667.7 1335,2667.3 1337,2666.9 1339,2666.5 1341,2666.1 1343,2665.6 1345,2665.2 1347,2664.7 1349,2664.2 1351,2663.6 1353,2663 1355,2662.4 1357,2661.8 1359,2661.2 1361,2660.5 1363,2659.8 1365,2659 1367,2658.3 1369,2657.5 1371,2656.7 1373,2655.8 1375,2654.9 1377,2654 1379,2653 1381,2652 1383,2651 1385,2649.9 1387,2648.8 1389,2647.7 1391,2646.5 1393,2645.3 1395,2644 1397,2642.7 1399,2641.4 1401,2640 1403,2638.6 1405,2637.1 1407,2635.6 1409,2634.1 1411,2632.6 1413,2630.9 1415,2629.3 1417,2627.6 1419,2625.9 1421,2624.1 1423,2622.4 1425,2620.5 1427,2618.7 1429,2616.8 1431,2614.8 1433,2612.8 1435,2610.8 1437,2608.8 1439,2606.7 1441,2604.7 1443,2602.5 1445,2600.4 1447,2598.2 1449,2596 1451,2593.8 1453,2591.6 1455,2589.4 1457,2587.1 1459,2584.9 1461,2582.6 1463,2580.3 1465,2578.1 1467,2575.8 1469,2573.5 1471,2571.2 1473,2569 1475,2566.7 1477,2564.4 1479,2562.2 1481,2559.9 1483,2557.7 1485,2555.5 1487,2553.3 1489,2551.1 1491,2549 1493,2546.9 1495,2544.8 1497,2542.7 1499,2540.7 1501,2538.7 1503,2536.7 1505,2534.8 1507,2532.9 1509,2531.1 1511,2529.4 1513,2527.7 1515,2526 1517,2524.4 1519,2522.9 1521,2521.4 1523,2520 1525,2518.6 1527,2517.3 1529,2516.1 1531,2515 1533,2513.9 1535,2512.9 1537,2512 1539,2511.2 1541,2510.5 1543,2509.8 1545,2509.2 1547,2508.7 1549,2508.3 1551,2508 1553,2507.7 1555,2507.6 1557,2507.5 1559,2507.5 1561,2507.6 1563,2507.8 1565,2508.1 1567,2508.4 1569,2508.9 1571,2509.4 1573,2510.1 1575,2510.8 1577,2511.6 1579,2512.5 1581,2513.4 1583,2514.5 1585,2515.6 1587,2516.8 1589,2518.1 1591,2519.4 1593,2520.9 1595,2522.3 1597,2523.9 1599,2525.5 1601,2527.2 1603,2529 1605,2530.8 1607,2532.7 1609,2534.6 1611,2536.6 1613,2538.6 1615,2540.6 1617,2542.8 1619,2544.9 1621,2547.1 1623,2549.3 1625,2551.6 1627,2553.9 1629,2556.2 1631,2558.5 1633,2560.9 1635,2563.3 1637,2565.7 1639,2568.1 1641,2570.5 1643,2572.9 1645,2575.3 1647,2577.7 1649,2580.1 1651,2582.5 1653,2584.9 1655,2587.3 1657,2589.7 1659,2592 1661,2594.3 1663,2596.6 1665,2598.8 1667,2601 1669,2603.2 1671,2605.2 1673,2607.3 1675,2609.2 1677,2611.1 1679,2612.9 1681,2614.5 1683,2616.1 1685,2617.5 1687,2618.8 1689,2620 1691,2621 1693,2621.8 1695,2622.4 1697,2622.9 1699,2623.1 1701,2623 1703,2622.7 1705,2622.2 1707,2621.3 1709,2620.1 1711,2618.6 1713,2616.8 1715,2614.7 1717,2612.2 1719,2609.3 1721,2606 1723,2602.4 1725,2598.4 1727,2593.9 1729,2589.2 1731,2584 1733,2578.4 1735,2572.5 1737,2566.1 1739,2559.5 1741,2552.4 1743,2545.1 1745,2537.4 1747,2529.4 1749,2521.2 1751,2512.7 1753,2504 1755,2495.1 1757,2486 1759,2476.8 1761,2467.6 1763,2458.2 1765,2448.9 1767,2439.7 1769,2430.5 1771,2421.5 1773,2412.6 1775,2404 1777,2395.7 1779,2387.8 1781,2380.2 1783,2373.1 1785,2366.6 1787,2360.6 1789,2355.2 1791,2350.5 1793,2346.5 1795,2343.3 1797,2340.8 1799,2339.1 1801,2338.2 1803,2337.9 1805,2338.3 1807,2339.3 1809,2340.7 1811,2342.6 1813,2344.6 1815,2346.8 1817,2348.8 1819,2350.7 1821,2352.1 1823,2353 1825,2353.2 1827,2352.5 1829,2350.8 1831,2348 1833,2344.1 1835,2338.8 1837,2332.3 1839,2324.4 1841,2315.2 1843,2304.7 1845,2292.9 1847,2280 1849,2266.1 1851,2251.3 1853,2235.7 1855,2219.7 1857,2203.2 1859,2186.7 1861,2170.3 1863,2154.3 1865,2138.8 1867,2124.1 1869,2110.4 1871,2098 1873,2087 1875,2077.6 1877,2069.9 1879,2064 1881,2060 1883,2058.1 1885,2058.1 1887,2060.1 1889,2064.1 1891,2070 1893,2077.7 1895,2087.1 1897,2098.1 1899,2110.5 1901,2124.1 1903,2138.9 1905,2154.6 1907,2171 1909,2188.1 1911,2205.6 1913,2223.4 1915,2241.3 1917,2259.3 1919,2277.2 1921,2294.9 1923,2312.5 1925,2329.7 1927,2346.6 1929,2363.1 1931,2379.3 1933,2395.1 1935,2410.6 1937,2425.7 1939,2440.4 1941,2454.7 1943,2468.7 1945,2482.4 1947,2495.7 1949,2508.6 1951,2521.2 1953,2533.5 1955,2545.4 1957,2556.9 1959,2568 1961,2578.7 1963,2589 1965,2598.9 1967,2608.4 1969,2617.4 1971,2626.1 1973,2634.2 1975,2642 1977,2649.3 1979,2656.1 1981,2662.5 1983,2668.5 1985,2674.1 1987,2679.2 1989,2683.9 1991,2688.2 1993,2692.2 1995,2695.8 1997,2699.1 1999,2702 2001,2704.6 2003,2707 2005,2709.1 2007,2711 2009,2712.6 2011,2714 2013,2715.3 2015,2716.4 2017,2717.3 2019,2718.1 2021,2718.8 2023,2719.4 2025,2720 2027,2720.4 2029,2720.8 2031,2721.1 2033,2721.4 2035,2721.6 2037,2721.8 2039,2722 2041,2722.2 2043,2722.3 2045,2722.4 2047,2722.5 2049,2722.6 2051,2722.7 2053,2722.8 2055,2722.9 2057,2722.9 2059,2723 2061,2723 2063,2723.1 2065,2723.1 2067,2723.2 2069,2723.2 2071,2723.2 2073,2723.3 2075,2723.3 2077,2723.4 2079,2723.4 2081,2723.4 2083,2723.5 2085,2723.5 2087,2723.5 2089,2723.6 2091,2723.6 2093,2723.6 2095,2723.6 2097,2723.7 2099,2723.7 2101,2723.7 2103,2723.7 2105,2723.8 2107,2723.8 2109,2723.8 2111,2723.8 2113,2723.9 2115,2723.9 2117,2723.9 2119,2723.9 2121,2724 2123,2724 2125,2724 2127,2724 2129,2724 2131,2724.1 2133,2724.1 2135,2724.1 2137,2724.1 2139,2724.1 2141,2724.2 2143,2724.2 2145,2724.2 2147,2724.2 2149,2724.2 2151,2724.2 2153,2724.3 2155,2724.3 2157,2724.3 2159,2724.3 2161,2724.3 2163,2724.3 2165,2724.4 2167,2724.4 2169,2724.4 2171,2724.4 2173,2724.4 2175,2724.4 2177,2724.4 2179,2724.5 2181,2724.5" fill="none" stroke="#ff00ff" stroke-width="5.7" stroke-linejoin="round" stroke-linecap="butt" />
<line x1="1713.4" y1="2358.4" x2="1802.7" y2="2400.7" stroke="#000000" stroke-width="4.8" stroke-linecap="round"/>
<line x1="1713.4" y1="2358.4" x2="1757.7" y2="2577.3" stroke="#000000" stroke-width="4.8" stroke-linecap="round"/>
<line x1="1994.1" y1="2302.4" x2="1881.4" y2="2114.5" stroke="#000000" stroke-width="4.8" stroke-linecap="round"/>
<line x1="1994.1" y1="2302.4" x2="1932.9" y2="2537.1" stroke="#000000" stroke-width="4.8" stroke-linecap="round"/>
<rect x="1197" y="1976" width="984.5" height="836" fill="none" stroke="#000" stroke-width="6"/>
<line x1="1348.5" y1="2812" x2="1348.5" y2="2828.5" stroke="#000000" stroke-width="5.5" stroke-linecap="butt"/>
<text transform="translate(1348.5 2872) scale(1 1.055)" font-family='"Liberation Sans", Arial, Helvetica, sans-serif' font-weight="bold" font-size="43.8" fill="#000000" text-anchor="middle" >171</text>
<line x1="1575.7" y1="2812" x2="1575.7" y2="2828.5" stroke="#000000" stroke-width="5.5" stroke-linecap="butt"/>
<text transform="translate(1575.7 2872) scale(1 1.055)" font-family='"Liberation Sans", Arial, Helvetica, sans-serif' font-weight="bold" font-size="43.8" fill="#000000" text-anchor="middle" >168</text>
<line x1="1802.8" y1="2812" x2="1802.8" y2="2828.5" stroke="#000000" stroke-width="5.5" stroke-linecap="butt"/>
<text transform="translate(1802.8 2872) scale(1 1.055)" font-family='"Liberation Sans", Arial, Helvetica, sans-serif' font-weight="bold" font-size="43.8" fill="#000000" text-anchor="middle" >165</text>
<line x1="2030" y1="2812" x2="2030" y2="2828.5" stroke="#000000" stroke-width="5.5" stroke-linecap="butt"/>
<text transform="translate(2030 2872) scale(1 1.055)" font-family='"Liberation Sans", Arial, Helvetica, sans-serif' font-weight="bold" font-size="43.8" fill="#000000" text-anchor="middle" >162</text>
<line x1="1234.9" y1="2812" x2="1234.9" y2="2821.5" stroke="#000000" stroke-width="5.5" stroke-linecap="butt"/>
<line x1="1462.1" y1="2812" x2="1462.1" y2="2821.5" stroke="#000000" stroke-width="5.5" stroke-linecap="butt"/>
<line x1="1689.2" y1="2812" x2="1689.2" y2="2821.5" stroke="#000000" stroke-width="5.5" stroke-linecap="butt"/>
<line x1="1916.4" y1="2812" x2="1916.4" y2="2821.5" stroke="#000000" stroke-width="5.5" stroke-linecap="butt"/>
<line x1="2143.6" y1="2812" x2="2143.6" y2="2821.5" stroke="#000000" stroke-width="5.5" stroke-linecap="butt"/>
<text transform="translate(1689.2 2921.5) scale(1 1.04)" font-family='"Liberation Sans", Arial, Helvetica, sans-serif' font-weight="bold" font-size="58.2" fill="#000000" text-anchor="middle" >Binding Energy (eV)</text>
<text transform="translate(1175.3 2394) rotate(-90) scale(1 1.035)" font-family='"Liberation Sans", Arial, Helvetica, sans-serif' font-weight="bold" font-size="58" fill="#000000" text-anchor="middle" >Intensity (a.u.)</text>
<text transform="translate(1213 2040) scale(1 1.055)" font-family='"Liberation Sans", Arial, Helvetica, sans-serif' font-weight="bold" font-size="57.8" fill="#000000" text-anchor="start" >S 2p</text>
<text transform="translate(2171.2 2028.3) scale(1.06 1)" font-family='"Liberation Serif", "Times New Roman", serif' font-weight="bold" font-size="56.6" fill="#000000" text-anchor="end" >(f)</text>
<text transform="translate(1519.5 2467) scale(1 1.055)" font-family='"Liberation Sans", Arial, Helvetica, sans-serif' font-weight="bold" font-size="49.7" fill="#e07d1c" text-anchor="start" >S<tspan font-weight="normal">–</tspan>O</text>
<text transform="translate(1758.3 2344.5) scale(1 1.055)" font-family='"Liberation Sans", Arial, Helvetica, sans-serif' font-weight="bold" font-size="49.7" fill="#000000" text-anchor="end" >C<tspan font-weight="normal">–</tspan>S</text>
<text transform="translate(1998.5 2327.5) scale(1 1.055)" font-family='"Liberation Sans", Arial, Helvetica, sans-serif' font-weight="bold" font-size="49.7" fill="#000000" text-anchor="start" >Mn<tspan font-weight="normal">–</tspan>S</text>
</svg>
</body></html>
